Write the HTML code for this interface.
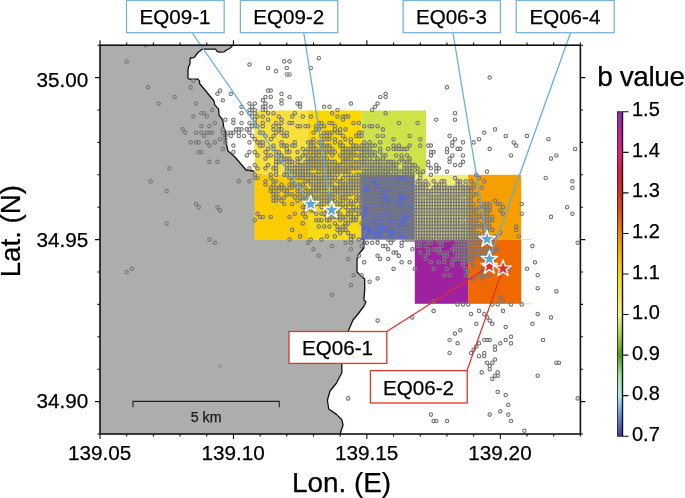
<!DOCTYPE html><html><head><meta charset="utf-8"><style>html,body{margin:0;padding:0;background:#fff;}svg{display:block;}text{font-family:"Liberation Sans",Arial,Helvetica,sans-serif;stroke:currentColor;stroke-width:0.25px;}</style></head><body>
<svg width="685" height="498" viewBox="0 0 685 498">
<rect width="685" height="498" fill="#fff"/>
<polygon points="100.0,45.2 232.7,45.2 232.2,46.0 229.6,48.5 226.6,50.0 224.1,51.8 220.1,52.2 217.1,51.5 215.6,49.2 202.0,49.2 200.0,51.0 198.0,52.5 196.0,55.0 194.0,57.6 190.5,58.0 190.0,60.0 190.0,64.0 188.5,66.6 188.0,70.0 188.0,78.1 189.0,79.1 198.0,79.1 199.6,81.1 199.5,83.5 205.0,90.0 214.0,101.0 214.6,104.6 218.6,109.1 219.0,115.1 222.1,119.1 223.1,122.1 223.6,127.1 225.1,130.0 226.0,142.0 228.0,151.0 235.0,157.0 246.0,170.0 253.0,171.0 256.0,172.0 300.0,200.0 340.0,225.0 363.9,239.7 363.9,248.0 358.0,255.0 357.0,260.0 357.0,272.0 360.0,275.0 364.7,279.0 364.7,289.0 363.9,300.0 365.9,302.0 364.0,306.0 358.0,314.0 353.0,320.0 348.3,331.0 345.0,345.0 342.0,358.0 341.8,364.8 341.8,372.7 336.5,383.0 330.0,391.0 327.4,400.0 328.7,409.0 336.5,414.4 341.8,419.7 343.0,425.0 340.5,432.7 340.3,434.0 100.0,434.0" fill="#acaeac"/>
<polyline points="232.7,45.2 232.2,46.0 229.6,48.5 226.6,50.0 224.1,51.8 220.1,52.2 217.1,51.5 215.6,49.2 202.0,49.2 200.0,51.0 198.0,52.5 196.0,55.0 194.0,57.6 190.5,58.0 190.0,60.0 190.0,64.0 188.5,66.6 188.0,70.0 188.0,78.1 189.0,79.1 198.0,79.1 199.6,81.1 199.5,83.5 205.0,90.0 214.0,101.0 214.6,104.6 218.6,109.1 219.0,115.1 222.1,119.1 223.1,122.1 223.6,127.1 225.1,130.0 226.0,142.0 228.0,151.0 235.0,157.0 246.0,170.0 253.0,171.0 256.0,172.0 300.0,200.0 340.0,225.0 363.9,239.7 363.9,248.0 358.0,255.0 357.0,260.0 357.0,272.0 360.0,275.0 364.7,279.0 364.7,289.0 363.9,300.0 365.9,302.0 364.0,306.0 358.0,314.0 353.0,320.0 348.3,331.0 345.0,345.0 342.0,358.0 341.8,364.8 341.8,372.7 336.5,383.0 330.0,391.0 327.4,400.0 328.7,409.0 336.5,414.4 341.8,419.7 343.0,425.0 340.5,432.7 340.3,434.0" fill="none" stroke="#111" stroke-width="1.3" stroke-linejoin="round"/>
<rect x="254.5" y="110.5" width="53.1" height="64.0" fill="#f7e03c"/>
<rect x="307.6" y="110.5" width="53.6" height="64.0" fill="#fad800"/>
<rect x="361.2" y="110.5" width="64.8" height="64.3" fill="#cfe24a"/>
<rect x="254.5" y="174.5" width="53.1" height="65.5" fill="#fccc00"/>
<rect x="307.6" y="174.5" width="53.6" height="65.5" fill="#f8dc12"/>
<rect x="361.2" y="174.8" width="53.6" height="64.8" fill="#5a6ac8"/>
<rect x="414.8" y="174.8" width="53.3" height="64.8" fill="#f0ec78"/>
<rect x="468.1" y="174.8" width="53.1" height="64.8" fill="#f5a000"/>
<rect x="414.8" y="239.6" width="53.3" height="64.2" fill="#9e22a0"/>
<rect x="468.1" y="239.6" width="53.1" height="64.2" fill="#f06800"/>
<line x1="521" y1="239.6" x2="532" y2="239.6" stroke="#f8c8a0" stroke-width="0.8"/>
<line x1="521" y1="303.8" x2="532" y2="303.8" stroke="#f8c8a0" stroke-width="0.8"/>
<defs><clipPath id="mc"><rect x="100" y="45.2" width="480.4" height="388.8"/></clipPath></defs><g clip-path="url(#mc)"><path d="M147.1,45.2a1.7,1.7 0 1,0 -3.4,0a1.7,1.7 0 1,0 3.4,0M320.5,58.2a1.7,1.7 0 1,0 -3.4,0a1.7,1.7 0 1,0 3.4,0M128.4,61.4a1.7,1.7 0 1,0 -3.4,0a1.7,1.7 0 1,0 3.4,0M285.9,61.4a1.7,1.7 0 1,0 -3.4,0a1.7,1.7 0 1,0 3.4,0M291.2,61.4a1.7,1.7 0 1,0 -3.4,0a1.7,1.7 0 1,0 3.4,0M251.2,64.6a1.7,1.7 0 1,0 -3.4,0a1.7,1.7 0 1,0 3.4,0M269.8,67.9a1.7,1.7 0 1,0 -3.4,0a1.7,1.7 0 1,0 3.4,0M288.5,67.9a1.7,1.7 0 1,0 -3.4,0a1.7,1.7 0 1,0 3.4,0M312.5,67.9a1.7,1.7 0 1,0 -3.4,0a1.7,1.7 0 1,0 3.4,0M277.8,71.1a1.7,1.7 0 1,0 -3.4,0a1.7,1.7 0 1,0 3.4,0M288.5,74.4a1.7,1.7 0 1,0 -3.4,0a1.7,1.7 0 1,0 3.4,0M291.2,74.4a1.7,1.7 0 1,0 -3.4,0a1.7,1.7 0 1,0 3.4,0M491.4,77.6a1.7,1.7 0 1,0 -3.4,0a1.7,1.7 0 1,0 3.4,0M195.1,80.8a1.7,1.7 0 1,0 -3.4,0a1.7,1.7 0 1,0 3.4,0M149.7,87.3a1.7,1.7 0 1,0 -3.4,0a1.7,1.7 0 1,0 3.4,0M192.4,87.3a1.7,1.7 0 1,0 -3.4,0a1.7,1.7 0 1,0 3.4,0M448.7,87.3a1.7,1.7 0 1,0 -3.4,0a1.7,1.7 0 1,0 3.4,0M221.8,90.6a1.7,1.7 0 1,0 -3.4,0a1.7,1.7 0 1,0 3.4,0M269.8,90.6a1.7,1.7 0 1,0 -3.4,0a1.7,1.7 0 1,0 3.4,0M272.5,90.6a1.7,1.7 0 1,0 -3.4,0a1.7,1.7 0 1,0 3.4,0M219.1,93.8a1.7,1.7 0 1,0 -3.4,0a1.7,1.7 0 1,0 3.4,0M232.5,93.8a1.7,1.7 0 1,0 -3.4,0a1.7,1.7 0 1,0 3.4,0M283.2,93.8a1.7,1.7 0 1,0 -3.4,0a1.7,1.7 0 1,0 3.4,0M387.3,93.8a1.7,1.7 0 1,0 -3.4,0a1.7,1.7 0 1,0 3.4,0M176.4,97.0a1.7,1.7 0 1,0 -3.4,0a1.7,1.7 0 1,0 3.4,0M267.2,97.0a1.7,1.7 0 1,0 -3.4,0a1.7,1.7 0 1,0 3.4,0M272.5,97.0a1.7,1.7 0 1,0 -3.4,0a1.7,1.7 0 1,0 3.4,0M291.2,97.0a1.7,1.7 0 1,0 -3.4,0a1.7,1.7 0 1,0 3.4,0M381.9,97.0a1.7,1.7 0 1,0 -3.4,0a1.7,1.7 0 1,0 3.4,0M387.3,97.0a1.7,1.7 0 1,0 -3.4,0a1.7,1.7 0 1,0 3.4,0M224.5,100.3a1.7,1.7 0 1,0 -3.4,0a1.7,1.7 0 1,0 3.4,0M264.5,100.3a1.7,1.7 0 1,0 -3.4,0a1.7,1.7 0 1,0 3.4,0M283.2,100.3a1.7,1.7 0 1,0 -3.4,0a1.7,1.7 0 1,0 3.4,0M160.4,103.5a1.7,1.7 0 1,0 -3.4,0a1.7,1.7 0 1,0 3.4,0M197.8,103.5a1.7,1.7 0 1,0 -3.4,0a1.7,1.7 0 1,0 3.4,0M251.2,103.5a1.7,1.7 0 1,0 -3.4,0a1.7,1.7 0 1,0 3.4,0M256.5,103.5a1.7,1.7 0 1,0 -3.4,0a1.7,1.7 0 1,0 3.4,0M267.2,103.5a1.7,1.7 0 1,0 -3.4,0a1.7,1.7 0 1,0 3.4,0M283.2,103.5a1.7,1.7 0 1,0 -3.4,0a1.7,1.7 0 1,0 3.4,0M299.2,103.5a1.7,1.7 0 1,0 -3.4,0a1.7,1.7 0 1,0 3.4,0M301.9,103.5a1.7,1.7 0 1,0 -3.4,0a1.7,1.7 0 1,0 3.4,0M352.6,103.5a1.7,1.7 0 1,0 -3.4,0a1.7,1.7 0 1,0 3.4,0M379.3,103.5a1.7,1.7 0 1,0 -3.4,0a1.7,1.7 0 1,0 3.4,0M243.2,106.8a1.7,1.7 0 1,0 -3.4,0a1.7,1.7 0 1,0 3.4,0M253.8,106.8a1.7,1.7 0 1,0 -3.4,0a1.7,1.7 0 1,0 3.4,0M264.5,106.8a1.7,1.7 0 1,0 -3.4,0a1.7,1.7 0 1,0 3.4,0M267.2,106.8a1.7,1.7 0 1,0 -3.4,0a1.7,1.7 0 1,0 3.4,0M272.5,106.8a1.7,1.7 0 1,0 -3.4,0a1.7,1.7 0 1,0 3.4,0M301.9,106.8a1.7,1.7 0 1,0 -3.4,0a1.7,1.7 0 1,0 3.4,0M325.9,106.8a1.7,1.7 0 1,0 -3.4,0a1.7,1.7 0 1,0 3.4,0M331.2,106.8a1.7,1.7 0 1,0 -3.4,0a1.7,1.7 0 1,0 3.4,0M376.6,106.8a1.7,1.7 0 1,0 -3.4,0a1.7,1.7 0 1,0 3.4,0M213.8,110.0a1.7,1.7 0 1,0 -3.4,0a1.7,1.7 0 1,0 3.4,0M251.2,110.0a1.7,1.7 0 1,0 -3.4,0a1.7,1.7 0 1,0 3.4,0M253.8,110.0a1.7,1.7 0 1,0 -3.4,0a1.7,1.7 0 1,0 3.4,0M256.5,110.0a1.7,1.7 0 1,0 -3.4,0a1.7,1.7 0 1,0 3.4,0M264.5,110.0a1.7,1.7 0 1,0 -3.4,0a1.7,1.7 0 1,0 3.4,0M267.2,110.0a1.7,1.7 0 1,0 -3.4,0a1.7,1.7 0 1,0 3.4,0M339.2,110.0a1.7,1.7 0 1,0 -3.4,0a1.7,1.7 0 1,0 3.4,0M373.9,110.0a1.7,1.7 0 1,0 -3.4,0a1.7,1.7 0 1,0 3.4,0M203.1,113.2a1.7,1.7 0 1,0 -3.4,0a1.7,1.7 0 1,0 3.4,0M205.8,113.2a1.7,1.7 0 1,0 -3.4,0a1.7,1.7 0 1,0 3.4,0M243.2,113.2a1.7,1.7 0 1,0 -3.4,0a1.7,1.7 0 1,0 3.4,0M251.2,113.2a1.7,1.7 0 1,0 -3.4,0a1.7,1.7 0 1,0 3.4,0M256.5,113.2a1.7,1.7 0 1,0 -3.4,0a1.7,1.7 0 1,0 3.4,0M269.8,113.2a1.7,1.7 0 1,0 -3.4,0a1.7,1.7 0 1,0 3.4,0M275.2,113.2a1.7,1.7 0 1,0 -3.4,0a1.7,1.7 0 1,0 3.4,0M296.5,113.2a1.7,1.7 0 1,0 -3.4,0a1.7,1.7 0 1,0 3.4,0M333.9,113.2a1.7,1.7 0 1,0 -3.4,0a1.7,1.7 0 1,0 3.4,0M387.3,113.2a1.7,1.7 0 1,0 -3.4,0a1.7,1.7 0 1,0 3.4,0M456.7,113.2a1.7,1.7 0 1,0 -3.4,0a1.7,1.7 0 1,0 3.4,0M195.1,116.5a1.7,1.7 0 1,0 -3.4,0a1.7,1.7 0 1,0 3.4,0M208.5,116.5a1.7,1.7 0 1,0 -3.4,0a1.7,1.7 0 1,0 3.4,0M253.8,116.5a1.7,1.7 0 1,0 -3.4,0a1.7,1.7 0 1,0 3.4,0M259.2,116.5a1.7,1.7 0 1,0 -3.4,0a1.7,1.7 0 1,0 3.4,0M264.5,116.5a1.7,1.7 0 1,0 -3.4,0a1.7,1.7 0 1,0 3.4,0M280.5,116.5a1.7,1.7 0 1,0 -3.4,0a1.7,1.7 0 1,0 3.4,0M293.9,116.5a1.7,1.7 0 1,0 -3.4,0a1.7,1.7 0 1,0 3.4,0M304.5,116.5a1.7,1.7 0 1,0 -3.4,0a1.7,1.7 0 1,0 3.4,0M312.5,116.5a1.7,1.7 0 1,0 -3.4,0a1.7,1.7 0 1,0 3.4,0M339.2,116.5a1.7,1.7 0 1,0 -3.4,0a1.7,1.7 0 1,0 3.4,0M344.6,116.5a1.7,1.7 0 1,0 -3.4,0a1.7,1.7 0 1,0 3.4,0M347.2,116.5a1.7,1.7 0 1,0 -3.4,0a1.7,1.7 0 1,0 3.4,0M349.9,116.5a1.7,1.7 0 1,0 -3.4,0a1.7,1.7 0 1,0 3.4,0M227.1,119.7a1.7,1.7 0 1,0 -3.4,0a1.7,1.7 0 1,0 3.4,0M235.1,119.7a1.7,1.7 0 1,0 -3.4,0a1.7,1.7 0 1,0 3.4,0M256.5,119.7a1.7,1.7 0 1,0 -3.4,0a1.7,1.7 0 1,0 3.4,0M269.8,119.7a1.7,1.7 0 1,0 -3.4,0a1.7,1.7 0 1,0 3.4,0M283.2,119.7a1.7,1.7 0 1,0 -3.4,0a1.7,1.7 0 1,0 3.4,0M344.6,119.7a1.7,1.7 0 1,0 -3.4,0a1.7,1.7 0 1,0 3.4,0M438.0,119.7a1.7,1.7 0 1,0 -3.4,0a1.7,1.7 0 1,0 3.4,0M456.7,119.7a1.7,1.7 0 1,0 -3.4,0a1.7,1.7 0 1,0 3.4,0M216.5,123.0a1.7,1.7 0 1,0 -3.4,0a1.7,1.7 0 1,0 3.4,0M235.1,123.0a1.7,1.7 0 1,0 -3.4,0a1.7,1.7 0 1,0 3.4,0M243.2,123.0a1.7,1.7 0 1,0 -3.4,0a1.7,1.7 0 1,0 3.4,0M251.2,123.0a1.7,1.7 0 1,0 -3.4,0a1.7,1.7 0 1,0 3.4,0M256.5,123.0a1.7,1.7 0 1,0 -3.4,0a1.7,1.7 0 1,0 3.4,0M264.5,123.0a1.7,1.7 0 1,0 -3.4,0a1.7,1.7 0 1,0 3.4,0M277.8,123.0a1.7,1.7 0 1,0 -3.4,0a1.7,1.7 0 1,0 3.4,0M283.2,123.0a1.7,1.7 0 1,0 -3.4,0a1.7,1.7 0 1,0 3.4,0M291.2,123.0a1.7,1.7 0 1,0 -3.4,0a1.7,1.7 0 1,0 3.4,0M293.9,123.0a1.7,1.7 0 1,0 -3.4,0a1.7,1.7 0 1,0 3.4,0M320.5,123.0a1.7,1.7 0 1,0 -3.4,0a1.7,1.7 0 1,0 3.4,0M323.2,123.0a1.7,1.7 0 1,0 -3.4,0a1.7,1.7 0 1,0 3.4,0M331.2,123.0a1.7,1.7 0 1,0 -3.4,0a1.7,1.7 0 1,0 3.4,0M333.9,123.0a1.7,1.7 0 1,0 -3.4,0a1.7,1.7 0 1,0 3.4,0M355.2,123.0a1.7,1.7 0 1,0 -3.4,0a1.7,1.7 0 1,0 3.4,0M360.6,123.0a1.7,1.7 0 1,0 -3.4,0a1.7,1.7 0 1,0 3.4,0M400.6,123.0a1.7,1.7 0 1,0 -3.4,0a1.7,1.7 0 1,0 3.4,0M419.3,123.0a1.7,1.7 0 1,0 -3.4,0a1.7,1.7 0 1,0 3.4,0M203.1,126.2a1.7,1.7 0 1,0 -3.4,0a1.7,1.7 0 1,0 3.4,0M211.1,126.2a1.7,1.7 0 1,0 -3.4,0a1.7,1.7 0 1,0 3.4,0M253.8,126.2a1.7,1.7 0 1,0 -3.4,0a1.7,1.7 0 1,0 3.4,0M256.5,126.2a1.7,1.7 0 1,0 -3.4,0a1.7,1.7 0 1,0 3.4,0M259.2,126.2a1.7,1.7 0 1,0 -3.4,0a1.7,1.7 0 1,0 3.4,0M264.5,126.2a1.7,1.7 0 1,0 -3.4,0a1.7,1.7 0 1,0 3.4,0M275.2,126.2a1.7,1.7 0 1,0 -3.4,0a1.7,1.7 0 1,0 3.4,0M280.5,126.2a1.7,1.7 0 1,0 -3.4,0a1.7,1.7 0 1,0 3.4,0M299.2,126.2a1.7,1.7 0 1,0 -3.4,0a1.7,1.7 0 1,0 3.4,0M301.9,126.2a1.7,1.7 0 1,0 -3.4,0a1.7,1.7 0 1,0 3.4,0M307.2,126.2a1.7,1.7 0 1,0 -3.4,0a1.7,1.7 0 1,0 3.4,0M309.9,126.2a1.7,1.7 0 1,0 -3.4,0a1.7,1.7 0 1,0 3.4,0M317.9,126.2a1.7,1.7 0 1,0 -3.4,0a1.7,1.7 0 1,0 3.4,0M323.2,126.2a1.7,1.7 0 1,0 -3.4,0a1.7,1.7 0 1,0 3.4,0M325.9,126.2a1.7,1.7 0 1,0 -3.4,0a1.7,1.7 0 1,0 3.4,0M336.6,126.2a1.7,1.7 0 1,0 -3.4,0a1.7,1.7 0 1,0 3.4,0M365.9,126.2a1.7,1.7 0 1,0 -3.4,0a1.7,1.7 0 1,0 3.4,0M371.3,126.2a1.7,1.7 0 1,0 -3.4,0a1.7,1.7 0 1,0 3.4,0M373.9,126.2a1.7,1.7 0 1,0 -3.4,0a1.7,1.7 0 1,0 3.4,0M379.3,126.2a1.7,1.7 0 1,0 -3.4,0a1.7,1.7 0 1,0 3.4,0M184.4,129.4a1.7,1.7 0 1,0 -3.4,0a1.7,1.7 0 1,0 3.4,0M224.5,129.4a1.7,1.7 0 1,0 -3.4,0a1.7,1.7 0 1,0 3.4,0M237.8,129.4a1.7,1.7 0 1,0 -3.4,0a1.7,1.7 0 1,0 3.4,0M240.5,129.4a1.7,1.7 0 1,0 -3.4,0a1.7,1.7 0 1,0 3.4,0M243.2,129.4a1.7,1.7 0 1,0 -3.4,0a1.7,1.7 0 1,0 3.4,0M248.5,129.4a1.7,1.7 0 1,0 -3.4,0a1.7,1.7 0 1,0 3.4,0M251.2,129.4a1.7,1.7 0 1,0 -3.4,0a1.7,1.7 0 1,0 3.4,0M275.2,129.4a1.7,1.7 0 1,0 -3.4,0a1.7,1.7 0 1,0 3.4,0M280.5,129.4a1.7,1.7 0 1,0 -3.4,0a1.7,1.7 0 1,0 3.4,0M283.2,129.4a1.7,1.7 0 1,0 -3.4,0a1.7,1.7 0 1,0 3.4,0M317.9,129.4a1.7,1.7 0 1,0 -3.4,0a1.7,1.7 0 1,0 3.4,0M320.5,129.4a1.7,1.7 0 1,0 -3.4,0a1.7,1.7 0 1,0 3.4,0M336.6,129.4a1.7,1.7 0 1,0 -3.4,0a1.7,1.7 0 1,0 3.4,0M341.9,129.4a1.7,1.7 0 1,0 -3.4,0a1.7,1.7 0 1,0 3.4,0M347.2,129.4a1.7,1.7 0 1,0 -3.4,0a1.7,1.7 0 1,0 3.4,0M384.6,129.4a1.7,1.7 0 1,0 -3.4,0a1.7,1.7 0 1,0 3.4,0M496.7,129.4a1.7,1.7 0 1,0 -3.4,0a1.7,1.7 0 1,0 3.4,0M187.1,132.7a1.7,1.7 0 1,0 -3.4,0a1.7,1.7 0 1,0 3.4,0M197.8,132.7a1.7,1.7 0 1,0 -3.4,0a1.7,1.7 0 1,0 3.4,0M203.1,132.7a1.7,1.7 0 1,0 -3.4,0a1.7,1.7 0 1,0 3.4,0M208.5,132.7a1.7,1.7 0 1,0 -3.4,0a1.7,1.7 0 1,0 3.4,0M211.1,132.7a1.7,1.7 0 1,0 -3.4,0a1.7,1.7 0 1,0 3.4,0M213.8,132.7a1.7,1.7 0 1,0 -3.4,0a1.7,1.7 0 1,0 3.4,0M224.5,132.7a1.7,1.7 0 1,0 -3.4,0a1.7,1.7 0 1,0 3.4,0M229.8,132.7a1.7,1.7 0 1,0 -3.4,0a1.7,1.7 0 1,0 3.4,0M232.5,132.7a1.7,1.7 0 1,0 -3.4,0a1.7,1.7 0 1,0 3.4,0M235.1,132.7a1.7,1.7 0 1,0 -3.4,0a1.7,1.7 0 1,0 3.4,0M240.5,132.7a1.7,1.7 0 1,0 -3.4,0a1.7,1.7 0 1,0 3.4,0M251.2,132.7a1.7,1.7 0 1,0 -3.4,0a1.7,1.7 0 1,0 3.4,0M261.8,132.7a1.7,1.7 0 1,0 -3.4,0a1.7,1.7 0 1,0 3.4,0M264.5,132.7a1.7,1.7 0 1,0 -3.4,0a1.7,1.7 0 1,0 3.4,0M277.8,132.7a1.7,1.7 0 1,0 -3.4,0a1.7,1.7 0 1,0 3.4,0M283.2,132.7a1.7,1.7 0 1,0 -3.4,0a1.7,1.7 0 1,0 3.4,0M288.5,132.7a1.7,1.7 0 1,0 -3.4,0a1.7,1.7 0 1,0 3.4,0M315.2,132.7a1.7,1.7 0 1,0 -3.4,0a1.7,1.7 0 1,0 3.4,0M325.9,132.7a1.7,1.7 0 1,0 -3.4,0a1.7,1.7 0 1,0 3.4,0M328.6,132.7a1.7,1.7 0 1,0 -3.4,0a1.7,1.7 0 1,0 3.4,0M331.2,132.7a1.7,1.7 0 1,0 -3.4,0a1.7,1.7 0 1,0 3.4,0M333.9,132.7a1.7,1.7 0 1,0 -3.4,0a1.7,1.7 0 1,0 3.4,0M339.2,132.7a1.7,1.7 0 1,0 -3.4,0a1.7,1.7 0 1,0 3.4,0M341.9,132.7a1.7,1.7 0 1,0 -3.4,0a1.7,1.7 0 1,0 3.4,0M360.6,132.7a1.7,1.7 0 1,0 -3.4,0a1.7,1.7 0 1,0 3.4,0M363.3,132.7a1.7,1.7 0 1,0 -3.4,0a1.7,1.7 0 1,0 3.4,0M486.0,132.7a1.7,1.7 0 1,0 -3.4,0a1.7,1.7 0 1,0 3.4,0M205.8,135.9a1.7,1.7 0 1,0 -3.4,0a1.7,1.7 0 1,0 3.4,0M227.1,135.9a1.7,1.7 0 1,0 -3.4,0a1.7,1.7 0 1,0 3.4,0M232.5,135.9a1.7,1.7 0 1,0 -3.4,0a1.7,1.7 0 1,0 3.4,0M240.5,135.9a1.7,1.7 0 1,0 -3.4,0a1.7,1.7 0 1,0 3.4,0M245.8,135.9a1.7,1.7 0 1,0 -3.4,0a1.7,1.7 0 1,0 3.4,0M253.8,135.9a1.7,1.7 0 1,0 -3.4,0a1.7,1.7 0 1,0 3.4,0M267.2,135.9a1.7,1.7 0 1,0 -3.4,0a1.7,1.7 0 1,0 3.4,0M275.2,135.9a1.7,1.7 0 1,0 -3.4,0a1.7,1.7 0 1,0 3.4,0M285.9,135.9a1.7,1.7 0 1,0 -3.4,0a1.7,1.7 0 1,0 3.4,0M288.5,135.9a1.7,1.7 0 1,0 -3.4,0a1.7,1.7 0 1,0 3.4,0M323.2,135.9a1.7,1.7 0 1,0 -3.4,0a1.7,1.7 0 1,0 3.4,0M328.6,135.9a1.7,1.7 0 1,0 -3.4,0a1.7,1.7 0 1,0 3.4,0M331.2,135.9a1.7,1.7 0 1,0 -3.4,0a1.7,1.7 0 1,0 3.4,0M344.6,135.9a1.7,1.7 0 1,0 -3.4,0a1.7,1.7 0 1,0 3.4,0M357.9,135.9a1.7,1.7 0 1,0 -3.4,0a1.7,1.7 0 1,0 3.4,0M360.6,135.9a1.7,1.7 0 1,0 -3.4,0a1.7,1.7 0 1,0 3.4,0M363.3,135.9a1.7,1.7 0 1,0 -3.4,0a1.7,1.7 0 1,0 3.4,0M379.3,135.9a1.7,1.7 0 1,0 -3.4,0a1.7,1.7 0 1,0 3.4,0M384.6,135.9a1.7,1.7 0 1,0 -3.4,0a1.7,1.7 0 1,0 3.4,0M411.3,135.9a1.7,1.7 0 1,0 -3.4,0a1.7,1.7 0 1,0 3.4,0M451.3,135.9a1.7,1.7 0 1,0 -3.4,0a1.7,1.7 0 1,0 3.4,0M507.4,135.9a1.7,1.7 0 1,0 -3.4,0a1.7,1.7 0 1,0 3.4,0M528.7,135.9a1.7,1.7 0 1,0 -3.4,0a1.7,1.7 0 1,0 3.4,0M221.8,139.2a1.7,1.7 0 1,0 -3.4,0a1.7,1.7 0 1,0 3.4,0M227.1,139.2a1.7,1.7 0 1,0 -3.4,0a1.7,1.7 0 1,0 3.4,0M256.5,139.2a1.7,1.7 0 1,0 -3.4,0a1.7,1.7 0 1,0 3.4,0M272.5,139.2a1.7,1.7 0 1,0 -3.4,0a1.7,1.7 0 1,0 3.4,0M315.2,139.2a1.7,1.7 0 1,0 -3.4,0a1.7,1.7 0 1,0 3.4,0M325.9,139.2a1.7,1.7 0 1,0 -3.4,0a1.7,1.7 0 1,0 3.4,0M328.6,139.2a1.7,1.7 0 1,0 -3.4,0a1.7,1.7 0 1,0 3.4,0M331.2,139.2a1.7,1.7 0 1,0 -3.4,0a1.7,1.7 0 1,0 3.4,0M336.6,139.2a1.7,1.7 0 1,0 -3.4,0a1.7,1.7 0 1,0 3.4,0M347.2,139.2a1.7,1.7 0 1,0 -3.4,0a1.7,1.7 0 1,0 3.4,0M352.6,139.2a1.7,1.7 0 1,0 -3.4,0a1.7,1.7 0 1,0 3.4,0M395.3,139.2a1.7,1.7 0 1,0 -3.4,0a1.7,1.7 0 1,0 3.4,0M422.0,139.2a1.7,1.7 0 1,0 -3.4,0a1.7,1.7 0 1,0 3.4,0M456.7,139.2a1.7,1.7 0 1,0 -3.4,0a1.7,1.7 0 1,0 3.4,0M480.7,139.2a1.7,1.7 0 1,0 -3.4,0a1.7,1.7 0 1,0 3.4,0M550.1,139.2a1.7,1.7 0 1,0 -3.4,0a1.7,1.7 0 1,0 3.4,0M192.4,142.4a1.7,1.7 0 1,0 -3.4,0a1.7,1.7 0 1,0 3.4,0M197.8,142.4a1.7,1.7 0 1,0 -3.4,0a1.7,1.7 0 1,0 3.4,0M200.4,142.4a1.7,1.7 0 1,0 -3.4,0a1.7,1.7 0 1,0 3.4,0M208.5,142.4a1.7,1.7 0 1,0 -3.4,0a1.7,1.7 0 1,0 3.4,0M216.5,142.4a1.7,1.7 0 1,0 -3.4,0a1.7,1.7 0 1,0 3.4,0M227.1,142.4a1.7,1.7 0 1,0 -3.4,0a1.7,1.7 0 1,0 3.4,0M251.2,142.4a1.7,1.7 0 1,0 -3.4,0a1.7,1.7 0 1,0 3.4,0M259.2,142.4a1.7,1.7 0 1,0 -3.4,0a1.7,1.7 0 1,0 3.4,0M261.8,142.4a1.7,1.7 0 1,0 -3.4,0a1.7,1.7 0 1,0 3.4,0M264.5,142.4a1.7,1.7 0 1,0 -3.4,0a1.7,1.7 0 1,0 3.4,0M283.2,142.4a1.7,1.7 0 1,0 -3.4,0a1.7,1.7 0 1,0 3.4,0M296.5,142.4a1.7,1.7 0 1,0 -3.4,0a1.7,1.7 0 1,0 3.4,0M309.9,142.4a1.7,1.7 0 1,0 -3.4,0a1.7,1.7 0 1,0 3.4,0M312.5,142.4a1.7,1.7 0 1,0 -3.4,0a1.7,1.7 0 1,0 3.4,0M315.2,142.4a1.7,1.7 0 1,0 -3.4,0a1.7,1.7 0 1,0 3.4,0M320.5,142.4a1.7,1.7 0 1,0 -3.4,0a1.7,1.7 0 1,0 3.4,0M323.2,142.4a1.7,1.7 0 1,0 -3.4,0a1.7,1.7 0 1,0 3.4,0M336.6,142.4a1.7,1.7 0 1,0 -3.4,0a1.7,1.7 0 1,0 3.4,0M341.9,142.4a1.7,1.7 0 1,0 -3.4,0a1.7,1.7 0 1,0 3.4,0M352.6,142.4a1.7,1.7 0 1,0 -3.4,0a1.7,1.7 0 1,0 3.4,0M365.9,142.4a1.7,1.7 0 1,0 -3.4,0a1.7,1.7 0 1,0 3.4,0M371.3,142.4a1.7,1.7 0 1,0 -3.4,0a1.7,1.7 0 1,0 3.4,0M381.9,142.4a1.7,1.7 0 1,0 -3.4,0a1.7,1.7 0 1,0 3.4,0M454.0,142.4a1.7,1.7 0 1,0 -3.4,0a1.7,1.7 0 1,0 3.4,0M464.7,142.4a1.7,1.7 0 1,0 -3.4,0a1.7,1.7 0 1,0 3.4,0M475.3,142.4a1.7,1.7 0 1,0 -3.4,0a1.7,1.7 0 1,0 3.4,0M515.4,142.4a1.7,1.7 0 1,0 -3.4,0a1.7,1.7 0 1,0 3.4,0M211.1,145.6a1.7,1.7 0 1,0 -3.4,0a1.7,1.7 0 1,0 3.4,0M235.1,145.6a1.7,1.7 0 1,0 -3.4,0a1.7,1.7 0 1,0 3.4,0M261.8,145.6a1.7,1.7 0 1,0 -3.4,0a1.7,1.7 0 1,0 3.4,0M264.5,145.6a1.7,1.7 0 1,0 -3.4,0a1.7,1.7 0 1,0 3.4,0M275.2,145.6a1.7,1.7 0 1,0 -3.4,0a1.7,1.7 0 1,0 3.4,0M283.2,145.6a1.7,1.7 0 1,0 -3.4,0a1.7,1.7 0 1,0 3.4,0M285.9,145.6a1.7,1.7 0 1,0 -3.4,0a1.7,1.7 0 1,0 3.4,0M288.5,145.6a1.7,1.7 0 1,0 -3.4,0a1.7,1.7 0 1,0 3.4,0M293.9,145.6a1.7,1.7 0 1,0 -3.4,0a1.7,1.7 0 1,0 3.4,0M296.5,145.6a1.7,1.7 0 1,0 -3.4,0a1.7,1.7 0 1,0 3.4,0M312.5,145.6a1.7,1.7 0 1,0 -3.4,0a1.7,1.7 0 1,0 3.4,0M315.2,145.6a1.7,1.7 0 1,0 -3.4,0a1.7,1.7 0 1,0 3.4,0M323.2,145.6a1.7,1.7 0 1,0 -3.4,0a1.7,1.7 0 1,0 3.4,0M325.9,145.6a1.7,1.7 0 1,0 -3.4,0a1.7,1.7 0 1,0 3.4,0M328.6,145.6a1.7,1.7 0 1,0 -3.4,0a1.7,1.7 0 1,0 3.4,0M331.2,145.6a1.7,1.7 0 1,0 -3.4,0a1.7,1.7 0 1,0 3.4,0M341.9,145.6a1.7,1.7 0 1,0 -3.4,0a1.7,1.7 0 1,0 3.4,0M344.6,145.6a1.7,1.7 0 1,0 -3.4,0a1.7,1.7 0 1,0 3.4,0M355.2,145.6a1.7,1.7 0 1,0 -3.4,0a1.7,1.7 0 1,0 3.4,0M357.9,145.6a1.7,1.7 0 1,0 -3.4,0a1.7,1.7 0 1,0 3.4,0M363.3,145.6a1.7,1.7 0 1,0 -3.4,0a1.7,1.7 0 1,0 3.4,0M365.9,145.6a1.7,1.7 0 1,0 -3.4,0a1.7,1.7 0 1,0 3.4,0M368.6,145.6a1.7,1.7 0 1,0 -3.4,0a1.7,1.7 0 1,0 3.4,0M373.9,145.6a1.7,1.7 0 1,0 -3.4,0a1.7,1.7 0 1,0 3.4,0M376.6,145.6a1.7,1.7 0 1,0 -3.4,0a1.7,1.7 0 1,0 3.4,0M395.3,145.6a1.7,1.7 0 1,0 -3.4,0a1.7,1.7 0 1,0 3.4,0M400.6,145.6a1.7,1.7 0 1,0 -3.4,0a1.7,1.7 0 1,0 3.4,0M411.3,145.6a1.7,1.7 0 1,0 -3.4,0a1.7,1.7 0 1,0 3.4,0M422.0,145.6a1.7,1.7 0 1,0 -3.4,0a1.7,1.7 0 1,0 3.4,0M430.0,145.6a1.7,1.7 0 1,0 -3.4,0a1.7,1.7 0 1,0 3.4,0M432.6,145.6a1.7,1.7 0 1,0 -3.4,0a1.7,1.7 0 1,0 3.4,0M454.0,145.6a1.7,1.7 0 1,0 -3.4,0a1.7,1.7 0 1,0 3.4,0M518.0,145.6a1.7,1.7 0 1,0 -3.4,0a1.7,1.7 0 1,0 3.4,0M224.5,148.9a1.7,1.7 0 1,0 -3.4,0a1.7,1.7 0 1,0 3.4,0M269.8,148.9a1.7,1.7 0 1,0 -3.4,0a1.7,1.7 0 1,0 3.4,0M275.2,148.9a1.7,1.7 0 1,0 -3.4,0a1.7,1.7 0 1,0 3.4,0M288.5,148.9a1.7,1.7 0 1,0 -3.4,0a1.7,1.7 0 1,0 3.4,0M304.5,148.9a1.7,1.7 0 1,0 -3.4,0a1.7,1.7 0 1,0 3.4,0M309.9,148.9a1.7,1.7 0 1,0 -3.4,0a1.7,1.7 0 1,0 3.4,0M312.5,148.9a1.7,1.7 0 1,0 -3.4,0a1.7,1.7 0 1,0 3.4,0M315.2,148.9a1.7,1.7 0 1,0 -3.4,0a1.7,1.7 0 1,0 3.4,0M317.9,148.9a1.7,1.7 0 1,0 -3.4,0a1.7,1.7 0 1,0 3.4,0M323.2,148.9a1.7,1.7 0 1,0 -3.4,0a1.7,1.7 0 1,0 3.4,0M325.9,148.9a1.7,1.7 0 1,0 -3.4,0a1.7,1.7 0 1,0 3.4,0M331.2,148.9a1.7,1.7 0 1,0 -3.4,0a1.7,1.7 0 1,0 3.4,0M333.9,148.9a1.7,1.7 0 1,0 -3.4,0a1.7,1.7 0 1,0 3.4,0M344.6,148.9a1.7,1.7 0 1,0 -3.4,0a1.7,1.7 0 1,0 3.4,0M347.2,148.9a1.7,1.7 0 1,0 -3.4,0a1.7,1.7 0 1,0 3.4,0M349.9,148.9a1.7,1.7 0 1,0 -3.4,0a1.7,1.7 0 1,0 3.4,0M352.6,148.9a1.7,1.7 0 1,0 -3.4,0a1.7,1.7 0 1,0 3.4,0M355.2,148.9a1.7,1.7 0 1,0 -3.4,0a1.7,1.7 0 1,0 3.4,0M357.9,148.9a1.7,1.7 0 1,0 -3.4,0a1.7,1.7 0 1,0 3.4,0M360.6,148.9a1.7,1.7 0 1,0 -3.4,0a1.7,1.7 0 1,0 3.4,0M363.3,148.9a1.7,1.7 0 1,0 -3.4,0a1.7,1.7 0 1,0 3.4,0M365.9,148.9a1.7,1.7 0 1,0 -3.4,0a1.7,1.7 0 1,0 3.4,0M368.6,148.9a1.7,1.7 0 1,0 -3.4,0a1.7,1.7 0 1,0 3.4,0M371.3,148.9a1.7,1.7 0 1,0 -3.4,0a1.7,1.7 0 1,0 3.4,0M381.9,148.9a1.7,1.7 0 1,0 -3.4,0a1.7,1.7 0 1,0 3.4,0M389.9,148.9a1.7,1.7 0 1,0 -3.4,0a1.7,1.7 0 1,0 3.4,0M395.3,148.9a1.7,1.7 0 1,0 -3.4,0a1.7,1.7 0 1,0 3.4,0M397.9,148.9a1.7,1.7 0 1,0 -3.4,0a1.7,1.7 0 1,0 3.4,0M400.6,148.9a1.7,1.7 0 1,0 -3.4,0a1.7,1.7 0 1,0 3.4,0M403.3,148.9a1.7,1.7 0 1,0 -3.4,0a1.7,1.7 0 1,0 3.4,0M406.0,148.9a1.7,1.7 0 1,0 -3.4,0a1.7,1.7 0 1,0 3.4,0M408.6,148.9a1.7,1.7 0 1,0 -3.4,0a1.7,1.7 0 1,0 3.4,0M448.7,148.9a1.7,1.7 0 1,0 -3.4,0a1.7,1.7 0 1,0 3.4,0M459.3,148.9a1.7,1.7 0 1,0 -3.4,0a1.7,1.7 0 1,0 3.4,0M462.0,148.9a1.7,1.7 0 1,0 -3.4,0a1.7,1.7 0 1,0 3.4,0M491.4,148.9a1.7,1.7 0 1,0 -3.4,0a1.7,1.7 0 1,0 3.4,0M576.8,148.9a1.7,1.7 0 1,0 -3.4,0a1.7,1.7 0 1,0 3.4,0M200.4,152.1a1.7,1.7 0 1,0 -3.4,0a1.7,1.7 0 1,0 3.4,0M203.1,152.1a1.7,1.7 0 1,0 -3.4,0a1.7,1.7 0 1,0 3.4,0M235.1,152.1a1.7,1.7 0 1,0 -3.4,0a1.7,1.7 0 1,0 3.4,0M251.2,152.1a1.7,1.7 0 1,0 -3.4,0a1.7,1.7 0 1,0 3.4,0M256.5,152.1a1.7,1.7 0 1,0 -3.4,0a1.7,1.7 0 1,0 3.4,0M267.2,152.1a1.7,1.7 0 1,0 -3.4,0a1.7,1.7 0 1,0 3.4,0M277.8,152.1a1.7,1.7 0 1,0 -3.4,0a1.7,1.7 0 1,0 3.4,0M280.5,152.1a1.7,1.7 0 1,0 -3.4,0a1.7,1.7 0 1,0 3.4,0M288.5,152.1a1.7,1.7 0 1,0 -3.4,0a1.7,1.7 0 1,0 3.4,0M291.2,152.1a1.7,1.7 0 1,0 -3.4,0a1.7,1.7 0 1,0 3.4,0M299.2,152.1a1.7,1.7 0 1,0 -3.4,0a1.7,1.7 0 1,0 3.4,0M307.2,152.1a1.7,1.7 0 1,0 -3.4,0a1.7,1.7 0 1,0 3.4,0M312.5,152.1a1.7,1.7 0 1,0 -3.4,0a1.7,1.7 0 1,0 3.4,0M315.2,152.1a1.7,1.7 0 1,0 -3.4,0a1.7,1.7 0 1,0 3.4,0M317.9,152.1a1.7,1.7 0 1,0 -3.4,0a1.7,1.7 0 1,0 3.4,0M320.5,152.1a1.7,1.7 0 1,0 -3.4,0a1.7,1.7 0 1,0 3.4,0M323.2,152.1a1.7,1.7 0 1,0 -3.4,0a1.7,1.7 0 1,0 3.4,0M325.9,152.1a1.7,1.7 0 1,0 -3.4,0a1.7,1.7 0 1,0 3.4,0M328.6,152.1a1.7,1.7 0 1,0 -3.4,0a1.7,1.7 0 1,0 3.4,0M331.2,152.1a1.7,1.7 0 1,0 -3.4,0a1.7,1.7 0 1,0 3.4,0M333.9,152.1a1.7,1.7 0 1,0 -3.4,0a1.7,1.7 0 1,0 3.4,0M336.6,152.1a1.7,1.7 0 1,0 -3.4,0a1.7,1.7 0 1,0 3.4,0M344.6,152.1a1.7,1.7 0 1,0 -3.4,0a1.7,1.7 0 1,0 3.4,0M347.2,152.1a1.7,1.7 0 1,0 -3.4,0a1.7,1.7 0 1,0 3.4,0M349.9,152.1a1.7,1.7 0 1,0 -3.4,0a1.7,1.7 0 1,0 3.4,0M352.6,152.1a1.7,1.7 0 1,0 -3.4,0a1.7,1.7 0 1,0 3.4,0M355.2,152.1a1.7,1.7 0 1,0 -3.4,0a1.7,1.7 0 1,0 3.4,0M363.3,152.1a1.7,1.7 0 1,0 -3.4,0a1.7,1.7 0 1,0 3.4,0M365.9,152.1a1.7,1.7 0 1,0 -3.4,0a1.7,1.7 0 1,0 3.4,0M368.6,152.1a1.7,1.7 0 1,0 -3.4,0a1.7,1.7 0 1,0 3.4,0M371.3,152.1a1.7,1.7 0 1,0 -3.4,0a1.7,1.7 0 1,0 3.4,0M373.9,152.1a1.7,1.7 0 1,0 -3.4,0a1.7,1.7 0 1,0 3.4,0M376.6,152.1a1.7,1.7 0 1,0 -3.4,0a1.7,1.7 0 1,0 3.4,0M381.9,152.1a1.7,1.7 0 1,0 -3.4,0a1.7,1.7 0 1,0 3.4,0M432.6,152.1a1.7,1.7 0 1,0 -3.4,0a1.7,1.7 0 1,0 3.4,0M435.3,152.1a1.7,1.7 0 1,0 -3.4,0a1.7,1.7 0 1,0 3.4,0M448.7,152.1a1.7,1.7 0 1,0 -3.4,0a1.7,1.7 0 1,0 3.4,0M248.5,155.4a1.7,1.7 0 1,0 -3.4,0a1.7,1.7 0 1,0 3.4,0M259.2,155.4a1.7,1.7 0 1,0 -3.4,0a1.7,1.7 0 1,0 3.4,0M269.8,155.4a1.7,1.7 0 1,0 -3.4,0a1.7,1.7 0 1,0 3.4,0M272.5,155.4a1.7,1.7 0 1,0 -3.4,0a1.7,1.7 0 1,0 3.4,0M277.8,155.4a1.7,1.7 0 1,0 -3.4,0a1.7,1.7 0 1,0 3.4,0M280.5,155.4a1.7,1.7 0 1,0 -3.4,0a1.7,1.7 0 1,0 3.4,0M283.2,155.4a1.7,1.7 0 1,0 -3.4,0a1.7,1.7 0 1,0 3.4,0M304.5,155.4a1.7,1.7 0 1,0 -3.4,0a1.7,1.7 0 1,0 3.4,0M307.2,155.4a1.7,1.7 0 1,0 -3.4,0a1.7,1.7 0 1,0 3.4,0M309.9,155.4a1.7,1.7 0 1,0 -3.4,0a1.7,1.7 0 1,0 3.4,0M315.2,155.4a1.7,1.7 0 1,0 -3.4,0a1.7,1.7 0 1,0 3.4,0M317.9,155.4a1.7,1.7 0 1,0 -3.4,0a1.7,1.7 0 1,0 3.4,0M320.5,155.4a1.7,1.7 0 1,0 -3.4,0a1.7,1.7 0 1,0 3.4,0M325.9,155.4a1.7,1.7 0 1,0 -3.4,0a1.7,1.7 0 1,0 3.4,0M333.9,155.4a1.7,1.7 0 1,0 -3.4,0a1.7,1.7 0 1,0 3.4,0M341.9,155.4a1.7,1.7 0 1,0 -3.4,0a1.7,1.7 0 1,0 3.4,0M344.6,155.4a1.7,1.7 0 1,0 -3.4,0a1.7,1.7 0 1,0 3.4,0M347.2,155.4a1.7,1.7 0 1,0 -3.4,0a1.7,1.7 0 1,0 3.4,0M349.9,155.4a1.7,1.7 0 1,0 -3.4,0a1.7,1.7 0 1,0 3.4,0M352.6,155.4a1.7,1.7 0 1,0 -3.4,0a1.7,1.7 0 1,0 3.4,0M355.2,155.4a1.7,1.7 0 1,0 -3.4,0a1.7,1.7 0 1,0 3.4,0M357.9,155.4a1.7,1.7 0 1,0 -3.4,0a1.7,1.7 0 1,0 3.4,0M360.6,155.4a1.7,1.7 0 1,0 -3.4,0a1.7,1.7 0 1,0 3.4,0M363.3,155.4a1.7,1.7 0 1,0 -3.4,0a1.7,1.7 0 1,0 3.4,0M365.9,155.4a1.7,1.7 0 1,0 -3.4,0a1.7,1.7 0 1,0 3.4,0M368.6,155.4a1.7,1.7 0 1,0 -3.4,0a1.7,1.7 0 1,0 3.4,0M373.9,155.4a1.7,1.7 0 1,0 -3.4,0a1.7,1.7 0 1,0 3.4,0M376.6,155.4a1.7,1.7 0 1,0 -3.4,0a1.7,1.7 0 1,0 3.4,0M384.6,155.4a1.7,1.7 0 1,0 -3.4,0a1.7,1.7 0 1,0 3.4,0M387.3,155.4a1.7,1.7 0 1,0 -3.4,0a1.7,1.7 0 1,0 3.4,0M397.9,155.4a1.7,1.7 0 1,0 -3.4,0a1.7,1.7 0 1,0 3.4,0M403.3,155.4a1.7,1.7 0 1,0 -3.4,0a1.7,1.7 0 1,0 3.4,0M408.6,155.4a1.7,1.7 0 1,0 -3.4,0a1.7,1.7 0 1,0 3.4,0M432.6,155.4a1.7,1.7 0 1,0 -3.4,0a1.7,1.7 0 1,0 3.4,0M454.0,155.4a1.7,1.7 0 1,0 -3.4,0a1.7,1.7 0 1,0 3.4,0M464.7,155.4a1.7,1.7 0 1,0 -3.4,0a1.7,1.7 0 1,0 3.4,0M512.7,155.4a1.7,1.7 0 1,0 -3.4,0a1.7,1.7 0 1,0 3.4,0M558.1,155.4a1.7,1.7 0 1,0 -3.4,0a1.7,1.7 0 1,0 3.4,0M267.2,158.6a1.7,1.7 0 1,0 -3.4,0a1.7,1.7 0 1,0 3.4,0M277.8,158.6a1.7,1.7 0 1,0 -3.4,0a1.7,1.7 0 1,0 3.4,0M283.2,158.6a1.7,1.7 0 1,0 -3.4,0a1.7,1.7 0 1,0 3.4,0M285.9,158.6a1.7,1.7 0 1,0 -3.4,0a1.7,1.7 0 1,0 3.4,0M288.5,158.6a1.7,1.7 0 1,0 -3.4,0a1.7,1.7 0 1,0 3.4,0M291.2,158.6a1.7,1.7 0 1,0 -3.4,0a1.7,1.7 0 1,0 3.4,0M299.2,158.6a1.7,1.7 0 1,0 -3.4,0a1.7,1.7 0 1,0 3.4,0M301.9,158.6a1.7,1.7 0 1,0 -3.4,0a1.7,1.7 0 1,0 3.4,0M309.9,158.6a1.7,1.7 0 1,0 -3.4,0a1.7,1.7 0 1,0 3.4,0M312.5,158.6a1.7,1.7 0 1,0 -3.4,0a1.7,1.7 0 1,0 3.4,0M315.2,158.6a1.7,1.7 0 1,0 -3.4,0a1.7,1.7 0 1,0 3.4,0M317.9,158.6a1.7,1.7 0 1,0 -3.4,0a1.7,1.7 0 1,0 3.4,0M323.2,158.6a1.7,1.7 0 1,0 -3.4,0a1.7,1.7 0 1,0 3.4,0M325.9,158.6a1.7,1.7 0 1,0 -3.4,0a1.7,1.7 0 1,0 3.4,0M328.6,158.6a1.7,1.7 0 1,0 -3.4,0a1.7,1.7 0 1,0 3.4,0M344.6,158.6a1.7,1.7 0 1,0 -3.4,0a1.7,1.7 0 1,0 3.4,0M347.2,158.6a1.7,1.7 0 1,0 -3.4,0a1.7,1.7 0 1,0 3.4,0M349.9,158.6a1.7,1.7 0 1,0 -3.4,0a1.7,1.7 0 1,0 3.4,0M352.6,158.6a1.7,1.7 0 1,0 -3.4,0a1.7,1.7 0 1,0 3.4,0M363.3,158.6a1.7,1.7 0 1,0 -3.4,0a1.7,1.7 0 1,0 3.4,0M365.9,158.6a1.7,1.7 0 1,0 -3.4,0a1.7,1.7 0 1,0 3.4,0M371.3,158.6a1.7,1.7 0 1,0 -3.4,0a1.7,1.7 0 1,0 3.4,0M379.3,158.6a1.7,1.7 0 1,0 -3.4,0a1.7,1.7 0 1,0 3.4,0M384.6,158.6a1.7,1.7 0 1,0 -3.4,0a1.7,1.7 0 1,0 3.4,0M403.3,158.6a1.7,1.7 0 1,0 -3.4,0a1.7,1.7 0 1,0 3.4,0M411.3,158.6a1.7,1.7 0 1,0 -3.4,0a1.7,1.7 0 1,0 3.4,0M451.3,158.6a1.7,1.7 0 1,0 -3.4,0a1.7,1.7 0 1,0 3.4,0M552.7,158.6a1.7,1.7 0 1,0 -3.4,0a1.7,1.7 0 1,0 3.4,0M211.1,161.8a1.7,1.7 0 1,0 -3.4,0a1.7,1.7 0 1,0 3.4,0M219.1,161.8a1.7,1.7 0 1,0 -3.4,0a1.7,1.7 0 1,0 3.4,0M277.8,161.8a1.7,1.7 0 1,0 -3.4,0a1.7,1.7 0 1,0 3.4,0M280.5,161.8a1.7,1.7 0 1,0 -3.4,0a1.7,1.7 0 1,0 3.4,0M283.2,161.8a1.7,1.7 0 1,0 -3.4,0a1.7,1.7 0 1,0 3.4,0M288.5,161.8a1.7,1.7 0 1,0 -3.4,0a1.7,1.7 0 1,0 3.4,0M291.2,161.8a1.7,1.7 0 1,0 -3.4,0a1.7,1.7 0 1,0 3.4,0M293.9,161.8a1.7,1.7 0 1,0 -3.4,0a1.7,1.7 0 1,0 3.4,0M299.2,161.8a1.7,1.7 0 1,0 -3.4,0a1.7,1.7 0 1,0 3.4,0M307.2,161.8a1.7,1.7 0 1,0 -3.4,0a1.7,1.7 0 1,0 3.4,0M309.9,161.8a1.7,1.7 0 1,0 -3.4,0a1.7,1.7 0 1,0 3.4,0M312.5,161.8a1.7,1.7 0 1,0 -3.4,0a1.7,1.7 0 1,0 3.4,0M315.2,161.8a1.7,1.7 0 1,0 -3.4,0a1.7,1.7 0 1,0 3.4,0M317.9,161.8a1.7,1.7 0 1,0 -3.4,0a1.7,1.7 0 1,0 3.4,0M320.5,161.8a1.7,1.7 0 1,0 -3.4,0a1.7,1.7 0 1,0 3.4,0M323.2,161.8a1.7,1.7 0 1,0 -3.4,0a1.7,1.7 0 1,0 3.4,0M325.9,161.8a1.7,1.7 0 1,0 -3.4,0a1.7,1.7 0 1,0 3.4,0M331.2,161.8a1.7,1.7 0 1,0 -3.4,0a1.7,1.7 0 1,0 3.4,0M333.9,161.8a1.7,1.7 0 1,0 -3.4,0a1.7,1.7 0 1,0 3.4,0M336.6,161.8a1.7,1.7 0 1,0 -3.4,0a1.7,1.7 0 1,0 3.4,0M344.6,161.8a1.7,1.7 0 1,0 -3.4,0a1.7,1.7 0 1,0 3.4,0M347.2,161.8a1.7,1.7 0 1,0 -3.4,0a1.7,1.7 0 1,0 3.4,0M349.9,161.8a1.7,1.7 0 1,0 -3.4,0a1.7,1.7 0 1,0 3.4,0M355.2,161.8a1.7,1.7 0 1,0 -3.4,0a1.7,1.7 0 1,0 3.4,0M357.9,161.8a1.7,1.7 0 1,0 -3.4,0a1.7,1.7 0 1,0 3.4,0M360.6,161.8a1.7,1.7 0 1,0 -3.4,0a1.7,1.7 0 1,0 3.4,0M363.3,161.8a1.7,1.7 0 1,0 -3.4,0a1.7,1.7 0 1,0 3.4,0M365.9,161.8a1.7,1.7 0 1,0 -3.4,0a1.7,1.7 0 1,0 3.4,0M368.6,161.8a1.7,1.7 0 1,0 -3.4,0a1.7,1.7 0 1,0 3.4,0M373.9,161.8a1.7,1.7 0 1,0 -3.4,0a1.7,1.7 0 1,0 3.4,0M376.6,161.8a1.7,1.7 0 1,0 -3.4,0a1.7,1.7 0 1,0 3.4,0M379.3,161.8a1.7,1.7 0 1,0 -3.4,0a1.7,1.7 0 1,0 3.4,0M381.9,161.8a1.7,1.7 0 1,0 -3.4,0a1.7,1.7 0 1,0 3.4,0M387.3,161.8a1.7,1.7 0 1,0 -3.4,0a1.7,1.7 0 1,0 3.4,0M389.9,161.8a1.7,1.7 0 1,0 -3.4,0a1.7,1.7 0 1,0 3.4,0M392.6,161.8a1.7,1.7 0 1,0 -3.4,0a1.7,1.7 0 1,0 3.4,0M395.3,161.8a1.7,1.7 0 1,0 -3.4,0a1.7,1.7 0 1,0 3.4,0M400.6,161.8a1.7,1.7 0 1,0 -3.4,0a1.7,1.7 0 1,0 3.4,0M406.0,161.8a1.7,1.7 0 1,0 -3.4,0a1.7,1.7 0 1,0 3.4,0M408.6,161.8a1.7,1.7 0 1,0 -3.4,0a1.7,1.7 0 1,0 3.4,0M411.3,161.8a1.7,1.7 0 1,0 -3.4,0a1.7,1.7 0 1,0 3.4,0M430.0,161.8a1.7,1.7 0 1,0 -3.4,0a1.7,1.7 0 1,0 3.4,0M451.3,161.8a1.7,1.7 0 1,0 -3.4,0a1.7,1.7 0 1,0 3.4,0M464.7,161.8a1.7,1.7 0 1,0 -3.4,0a1.7,1.7 0 1,0 3.4,0M256.5,165.1a1.7,1.7 0 1,0 -3.4,0a1.7,1.7 0 1,0 3.4,0M269.8,165.1a1.7,1.7 0 1,0 -3.4,0a1.7,1.7 0 1,0 3.4,0M277.8,165.1a1.7,1.7 0 1,0 -3.4,0a1.7,1.7 0 1,0 3.4,0M288.5,165.1a1.7,1.7 0 1,0 -3.4,0a1.7,1.7 0 1,0 3.4,0M293.9,165.1a1.7,1.7 0 1,0 -3.4,0a1.7,1.7 0 1,0 3.4,0M299.2,165.1a1.7,1.7 0 1,0 -3.4,0a1.7,1.7 0 1,0 3.4,0M301.9,165.1a1.7,1.7 0 1,0 -3.4,0a1.7,1.7 0 1,0 3.4,0M304.5,165.1a1.7,1.7 0 1,0 -3.4,0a1.7,1.7 0 1,0 3.4,0M307.2,165.1a1.7,1.7 0 1,0 -3.4,0a1.7,1.7 0 1,0 3.4,0M309.9,165.1a1.7,1.7 0 1,0 -3.4,0a1.7,1.7 0 1,0 3.4,0M312.5,165.1a1.7,1.7 0 1,0 -3.4,0a1.7,1.7 0 1,0 3.4,0M315.2,165.1a1.7,1.7 0 1,0 -3.4,0a1.7,1.7 0 1,0 3.4,0M317.9,165.1a1.7,1.7 0 1,0 -3.4,0a1.7,1.7 0 1,0 3.4,0M320.5,165.1a1.7,1.7 0 1,0 -3.4,0a1.7,1.7 0 1,0 3.4,0M323.2,165.1a1.7,1.7 0 1,0 -3.4,0a1.7,1.7 0 1,0 3.4,0M325.9,165.1a1.7,1.7 0 1,0 -3.4,0a1.7,1.7 0 1,0 3.4,0M328.6,165.1a1.7,1.7 0 1,0 -3.4,0a1.7,1.7 0 1,0 3.4,0M331.2,165.1a1.7,1.7 0 1,0 -3.4,0a1.7,1.7 0 1,0 3.4,0M336.6,165.1a1.7,1.7 0 1,0 -3.4,0a1.7,1.7 0 1,0 3.4,0M339.2,165.1a1.7,1.7 0 1,0 -3.4,0a1.7,1.7 0 1,0 3.4,0M341.9,165.1a1.7,1.7 0 1,0 -3.4,0a1.7,1.7 0 1,0 3.4,0M344.6,165.1a1.7,1.7 0 1,0 -3.4,0a1.7,1.7 0 1,0 3.4,0M349.9,165.1a1.7,1.7 0 1,0 -3.4,0a1.7,1.7 0 1,0 3.4,0M352.6,165.1a1.7,1.7 0 1,0 -3.4,0a1.7,1.7 0 1,0 3.4,0M355.2,165.1a1.7,1.7 0 1,0 -3.4,0a1.7,1.7 0 1,0 3.4,0M360.6,165.1a1.7,1.7 0 1,0 -3.4,0a1.7,1.7 0 1,0 3.4,0M363.3,165.1a1.7,1.7 0 1,0 -3.4,0a1.7,1.7 0 1,0 3.4,0M365.9,165.1a1.7,1.7 0 1,0 -3.4,0a1.7,1.7 0 1,0 3.4,0M368.6,165.1a1.7,1.7 0 1,0 -3.4,0a1.7,1.7 0 1,0 3.4,0M371.3,165.1a1.7,1.7 0 1,0 -3.4,0a1.7,1.7 0 1,0 3.4,0M373.9,165.1a1.7,1.7 0 1,0 -3.4,0a1.7,1.7 0 1,0 3.4,0M376.6,165.1a1.7,1.7 0 1,0 -3.4,0a1.7,1.7 0 1,0 3.4,0M379.3,165.1a1.7,1.7 0 1,0 -3.4,0a1.7,1.7 0 1,0 3.4,0M381.9,165.1a1.7,1.7 0 1,0 -3.4,0a1.7,1.7 0 1,0 3.4,0M384.6,165.1a1.7,1.7 0 1,0 -3.4,0a1.7,1.7 0 1,0 3.4,0M389.9,165.1a1.7,1.7 0 1,0 -3.4,0a1.7,1.7 0 1,0 3.4,0M392.6,165.1a1.7,1.7 0 1,0 -3.4,0a1.7,1.7 0 1,0 3.4,0M395.3,165.1a1.7,1.7 0 1,0 -3.4,0a1.7,1.7 0 1,0 3.4,0M397.9,165.1a1.7,1.7 0 1,0 -3.4,0a1.7,1.7 0 1,0 3.4,0M406.0,165.1a1.7,1.7 0 1,0 -3.4,0a1.7,1.7 0 1,0 3.4,0M411.3,165.1a1.7,1.7 0 1,0 -3.4,0a1.7,1.7 0 1,0 3.4,0M414.0,165.1a1.7,1.7 0 1,0 -3.4,0a1.7,1.7 0 1,0 3.4,0M416.6,165.1a1.7,1.7 0 1,0 -3.4,0a1.7,1.7 0 1,0 3.4,0M430.0,165.1a1.7,1.7 0 1,0 -3.4,0a1.7,1.7 0 1,0 3.4,0M438.0,165.1a1.7,1.7 0 1,0 -3.4,0a1.7,1.7 0 1,0 3.4,0M456.7,165.1a1.7,1.7 0 1,0 -3.4,0a1.7,1.7 0 1,0 3.4,0M462.0,165.1a1.7,1.7 0 1,0 -3.4,0a1.7,1.7 0 1,0 3.4,0M171.1,168.3a1.7,1.7 0 1,0 -3.4,0a1.7,1.7 0 1,0 3.4,0M251.2,168.3a1.7,1.7 0 1,0 -3.4,0a1.7,1.7 0 1,0 3.4,0M259.2,168.3a1.7,1.7 0 1,0 -3.4,0a1.7,1.7 0 1,0 3.4,0M267.2,168.3a1.7,1.7 0 1,0 -3.4,0a1.7,1.7 0 1,0 3.4,0M275.2,168.3a1.7,1.7 0 1,0 -3.4,0a1.7,1.7 0 1,0 3.4,0M277.8,168.3a1.7,1.7 0 1,0 -3.4,0a1.7,1.7 0 1,0 3.4,0M288.5,168.3a1.7,1.7 0 1,0 -3.4,0a1.7,1.7 0 1,0 3.4,0M291.2,168.3a1.7,1.7 0 1,0 -3.4,0a1.7,1.7 0 1,0 3.4,0M296.5,168.3a1.7,1.7 0 1,0 -3.4,0a1.7,1.7 0 1,0 3.4,0M299.2,168.3a1.7,1.7 0 1,0 -3.4,0a1.7,1.7 0 1,0 3.4,0M301.9,168.3a1.7,1.7 0 1,0 -3.4,0a1.7,1.7 0 1,0 3.4,0M304.5,168.3a1.7,1.7 0 1,0 -3.4,0a1.7,1.7 0 1,0 3.4,0M307.2,168.3a1.7,1.7 0 1,0 -3.4,0a1.7,1.7 0 1,0 3.4,0M309.9,168.3a1.7,1.7 0 1,0 -3.4,0a1.7,1.7 0 1,0 3.4,0M312.5,168.3a1.7,1.7 0 1,0 -3.4,0a1.7,1.7 0 1,0 3.4,0M315.2,168.3a1.7,1.7 0 1,0 -3.4,0a1.7,1.7 0 1,0 3.4,0M317.9,168.3a1.7,1.7 0 1,0 -3.4,0a1.7,1.7 0 1,0 3.4,0M320.5,168.3a1.7,1.7 0 1,0 -3.4,0a1.7,1.7 0 1,0 3.4,0M323.2,168.3a1.7,1.7 0 1,0 -3.4,0a1.7,1.7 0 1,0 3.4,0M325.9,168.3a1.7,1.7 0 1,0 -3.4,0a1.7,1.7 0 1,0 3.4,0M328.6,168.3a1.7,1.7 0 1,0 -3.4,0a1.7,1.7 0 1,0 3.4,0M331.2,168.3a1.7,1.7 0 1,0 -3.4,0a1.7,1.7 0 1,0 3.4,0M333.9,168.3a1.7,1.7 0 1,0 -3.4,0a1.7,1.7 0 1,0 3.4,0M336.6,168.3a1.7,1.7 0 1,0 -3.4,0a1.7,1.7 0 1,0 3.4,0M339.2,168.3a1.7,1.7 0 1,0 -3.4,0a1.7,1.7 0 1,0 3.4,0M341.9,168.3a1.7,1.7 0 1,0 -3.4,0a1.7,1.7 0 1,0 3.4,0M344.6,168.3a1.7,1.7 0 1,0 -3.4,0a1.7,1.7 0 1,0 3.4,0M347.2,168.3a1.7,1.7 0 1,0 -3.4,0a1.7,1.7 0 1,0 3.4,0M349.9,168.3a1.7,1.7 0 1,0 -3.4,0a1.7,1.7 0 1,0 3.4,0M352.6,168.3a1.7,1.7 0 1,0 -3.4,0a1.7,1.7 0 1,0 3.4,0M355.2,168.3a1.7,1.7 0 1,0 -3.4,0a1.7,1.7 0 1,0 3.4,0M357.9,168.3a1.7,1.7 0 1,0 -3.4,0a1.7,1.7 0 1,0 3.4,0M360.6,168.3a1.7,1.7 0 1,0 -3.4,0a1.7,1.7 0 1,0 3.4,0M363.3,168.3a1.7,1.7 0 1,0 -3.4,0a1.7,1.7 0 1,0 3.4,0M368.6,168.3a1.7,1.7 0 1,0 -3.4,0a1.7,1.7 0 1,0 3.4,0M371.3,168.3a1.7,1.7 0 1,0 -3.4,0a1.7,1.7 0 1,0 3.4,0M373.9,168.3a1.7,1.7 0 1,0 -3.4,0a1.7,1.7 0 1,0 3.4,0M376.6,168.3a1.7,1.7 0 1,0 -3.4,0a1.7,1.7 0 1,0 3.4,0M379.3,168.3a1.7,1.7 0 1,0 -3.4,0a1.7,1.7 0 1,0 3.4,0M381.9,168.3a1.7,1.7 0 1,0 -3.4,0a1.7,1.7 0 1,0 3.4,0M384.6,168.3a1.7,1.7 0 1,0 -3.4,0a1.7,1.7 0 1,0 3.4,0M387.3,168.3a1.7,1.7 0 1,0 -3.4,0a1.7,1.7 0 1,0 3.4,0M389.9,168.3a1.7,1.7 0 1,0 -3.4,0a1.7,1.7 0 1,0 3.4,0M392.6,168.3a1.7,1.7 0 1,0 -3.4,0a1.7,1.7 0 1,0 3.4,0M395.3,168.3a1.7,1.7 0 1,0 -3.4,0a1.7,1.7 0 1,0 3.4,0M397.9,168.3a1.7,1.7 0 1,0 -3.4,0a1.7,1.7 0 1,0 3.4,0M406.0,168.3a1.7,1.7 0 1,0 -3.4,0a1.7,1.7 0 1,0 3.4,0M408.6,168.3a1.7,1.7 0 1,0 -3.4,0a1.7,1.7 0 1,0 3.4,0M411.3,168.3a1.7,1.7 0 1,0 -3.4,0a1.7,1.7 0 1,0 3.4,0M414.0,168.3a1.7,1.7 0 1,0 -3.4,0a1.7,1.7 0 1,0 3.4,0M419.3,168.3a1.7,1.7 0 1,0 -3.4,0a1.7,1.7 0 1,0 3.4,0M432.6,168.3a1.7,1.7 0 1,0 -3.4,0a1.7,1.7 0 1,0 3.4,0M438.0,168.3a1.7,1.7 0 1,0 -3.4,0a1.7,1.7 0 1,0 3.4,0M440.6,168.3a1.7,1.7 0 1,0 -3.4,0a1.7,1.7 0 1,0 3.4,0M277.8,171.6a1.7,1.7 0 1,0 -3.4,0a1.7,1.7 0 1,0 3.4,0M288.5,171.6a1.7,1.7 0 1,0 -3.4,0a1.7,1.7 0 1,0 3.4,0M291.2,171.6a1.7,1.7 0 1,0 -3.4,0a1.7,1.7 0 1,0 3.4,0M293.9,171.6a1.7,1.7 0 1,0 -3.4,0a1.7,1.7 0 1,0 3.4,0M296.5,171.6a1.7,1.7 0 1,0 -3.4,0a1.7,1.7 0 1,0 3.4,0M299.2,171.6a1.7,1.7 0 1,0 -3.4,0a1.7,1.7 0 1,0 3.4,0M301.9,171.6a1.7,1.7 0 1,0 -3.4,0a1.7,1.7 0 1,0 3.4,0M304.5,171.6a1.7,1.7 0 1,0 -3.4,0a1.7,1.7 0 1,0 3.4,0M307.2,171.6a1.7,1.7 0 1,0 -3.4,0a1.7,1.7 0 1,0 3.4,0M309.9,171.6a1.7,1.7 0 1,0 -3.4,0a1.7,1.7 0 1,0 3.4,0M320.5,171.6a1.7,1.7 0 1,0 -3.4,0a1.7,1.7 0 1,0 3.4,0M325.9,171.6a1.7,1.7 0 1,0 -3.4,0a1.7,1.7 0 1,0 3.4,0M328.6,171.6a1.7,1.7 0 1,0 -3.4,0a1.7,1.7 0 1,0 3.4,0M331.2,171.6a1.7,1.7 0 1,0 -3.4,0a1.7,1.7 0 1,0 3.4,0M333.9,171.6a1.7,1.7 0 1,0 -3.4,0a1.7,1.7 0 1,0 3.4,0M336.6,171.6a1.7,1.7 0 1,0 -3.4,0a1.7,1.7 0 1,0 3.4,0M339.2,171.6a1.7,1.7 0 1,0 -3.4,0a1.7,1.7 0 1,0 3.4,0M341.9,171.6a1.7,1.7 0 1,0 -3.4,0a1.7,1.7 0 1,0 3.4,0M344.6,171.6a1.7,1.7 0 1,0 -3.4,0a1.7,1.7 0 1,0 3.4,0M347.2,171.6a1.7,1.7 0 1,0 -3.4,0a1.7,1.7 0 1,0 3.4,0M349.9,171.6a1.7,1.7 0 1,0 -3.4,0a1.7,1.7 0 1,0 3.4,0M365.9,171.6a1.7,1.7 0 1,0 -3.4,0a1.7,1.7 0 1,0 3.4,0M368.6,171.6a1.7,1.7 0 1,0 -3.4,0a1.7,1.7 0 1,0 3.4,0M371.3,171.6a1.7,1.7 0 1,0 -3.4,0a1.7,1.7 0 1,0 3.4,0M373.9,171.6a1.7,1.7 0 1,0 -3.4,0a1.7,1.7 0 1,0 3.4,0M376.6,171.6a1.7,1.7 0 1,0 -3.4,0a1.7,1.7 0 1,0 3.4,0M379.3,171.6a1.7,1.7 0 1,0 -3.4,0a1.7,1.7 0 1,0 3.4,0M381.9,171.6a1.7,1.7 0 1,0 -3.4,0a1.7,1.7 0 1,0 3.4,0M384.6,171.6a1.7,1.7 0 1,0 -3.4,0a1.7,1.7 0 1,0 3.4,0M387.3,171.6a1.7,1.7 0 1,0 -3.4,0a1.7,1.7 0 1,0 3.4,0M389.9,171.6a1.7,1.7 0 1,0 -3.4,0a1.7,1.7 0 1,0 3.4,0M392.6,171.6a1.7,1.7 0 1,0 -3.4,0a1.7,1.7 0 1,0 3.4,0M397.9,171.6a1.7,1.7 0 1,0 -3.4,0a1.7,1.7 0 1,0 3.4,0M400.6,171.6a1.7,1.7 0 1,0 -3.4,0a1.7,1.7 0 1,0 3.4,0M403.3,171.6a1.7,1.7 0 1,0 -3.4,0a1.7,1.7 0 1,0 3.4,0M406.0,171.6a1.7,1.7 0 1,0 -3.4,0a1.7,1.7 0 1,0 3.4,0M408.6,171.6a1.7,1.7 0 1,0 -3.4,0a1.7,1.7 0 1,0 3.4,0M411.3,171.6a1.7,1.7 0 1,0 -3.4,0a1.7,1.7 0 1,0 3.4,0M414.0,171.6a1.7,1.7 0 1,0 -3.4,0a1.7,1.7 0 1,0 3.4,0M419.3,171.6a1.7,1.7 0 1,0 -3.4,0a1.7,1.7 0 1,0 3.4,0M424.6,171.6a1.7,1.7 0 1,0 -3.4,0a1.7,1.7 0 1,0 3.4,0M438.0,171.6a1.7,1.7 0 1,0 -3.4,0a1.7,1.7 0 1,0 3.4,0M448.7,171.6a1.7,1.7 0 1,0 -3.4,0a1.7,1.7 0 1,0 3.4,0M488.7,171.6a1.7,1.7 0 1,0 -3.4,0a1.7,1.7 0 1,0 3.4,0M256.5,174.8a1.7,1.7 0 1,0 -3.4,0a1.7,1.7 0 1,0 3.4,0M272.5,174.8a1.7,1.7 0 1,0 -3.4,0a1.7,1.7 0 1,0 3.4,0M277.8,174.8a1.7,1.7 0 1,0 -3.4,0a1.7,1.7 0 1,0 3.4,0M285.9,174.8a1.7,1.7 0 1,0 -3.4,0a1.7,1.7 0 1,0 3.4,0M288.5,174.8a1.7,1.7 0 1,0 -3.4,0a1.7,1.7 0 1,0 3.4,0M296.5,174.8a1.7,1.7 0 1,0 -3.4,0a1.7,1.7 0 1,0 3.4,0M299.2,174.8a1.7,1.7 0 1,0 -3.4,0a1.7,1.7 0 1,0 3.4,0M301.9,174.8a1.7,1.7 0 1,0 -3.4,0a1.7,1.7 0 1,0 3.4,0M304.5,174.8a1.7,1.7 0 1,0 -3.4,0a1.7,1.7 0 1,0 3.4,0M307.2,174.8a1.7,1.7 0 1,0 -3.4,0a1.7,1.7 0 1,0 3.4,0M309.9,174.8a1.7,1.7 0 1,0 -3.4,0a1.7,1.7 0 1,0 3.4,0M312.5,174.8a1.7,1.7 0 1,0 -3.4,0a1.7,1.7 0 1,0 3.4,0M315.2,174.8a1.7,1.7 0 1,0 -3.4,0a1.7,1.7 0 1,0 3.4,0M317.9,174.8a1.7,1.7 0 1,0 -3.4,0a1.7,1.7 0 1,0 3.4,0M323.2,174.8a1.7,1.7 0 1,0 -3.4,0a1.7,1.7 0 1,0 3.4,0M325.9,174.8a1.7,1.7 0 1,0 -3.4,0a1.7,1.7 0 1,0 3.4,0M328.6,174.8a1.7,1.7 0 1,0 -3.4,0a1.7,1.7 0 1,0 3.4,0M331.2,174.8a1.7,1.7 0 1,0 -3.4,0a1.7,1.7 0 1,0 3.4,0M333.9,174.8a1.7,1.7 0 1,0 -3.4,0a1.7,1.7 0 1,0 3.4,0M339.2,174.8a1.7,1.7 0 1,0 -3.4,0a1.7,1.7 0 1,0 3.4,0M347.2,174.8a1.7,1.7 0 1,0 -3.4,0a1.7,1.7 0 1,0 3.4,0M352.6,174.8a1.7,1.7 0 1,0 -3.4,0a1.7,1.7 0 1,0 3.4,0M357.9,174.8a1.7,1.7 0 1,0 -3.4,0a1.7,1.7 0 1,0 3.4,0M360.6,174.8a1.7,1.7 0 1,0 -3.4,0a1.7,1.7 0 1,0 3.4,0M363.3,174.8a1.7,1.7 0 1,0 -3.4,0a1.7,1.7 0 1,0 3.4,0M365.9,174.8a1.7,1.7 0 1,0 -3.4,0a1.7,1.7 0 1,0 3.4,0M368.6,174.8a1.7,1.7 0 1,0 -3.4,0a1.7,1.7 0 1,0 3.4,0M371.3,174.8a1.7,1.7 0 1,0 -3.4,0a1.7,1.7 0 1,0 3.4,0M373.9,174.8a1.7,1.7 0 1,0 -3.4,0a1.7,1.7 0 1,0 3.4,0M376.6,174.8a1.7,1.7 0 1,0 -3.4,0a1.7,1.7 0 1,0 3.4,0M379.3,174.8a1.7,1.7 0 1,0 -3.4,0a1.7,1.7 0 1,0 3.4,0M381.9,174.8a1.7,1.7 0 1,0 -3.4,0a1.7,1.7 0 1,0 3.4,0M384.6,174.8a1.7,1.7 0 1,0 -3.4,0a1.7,1.7 0 1,0 3.4,0M387.3,174.8a1.7,1.7 0 1,0 -3.4,0a1.7,1.7 0 1,0 3.4,0M389.9,174.8a1.7,1.7 0 1,0 -3.4,0a1.7,1.7 0 1,0 3.4,0M395.3,174.8a1.7,1.7 0 1,0 -3.4,0a1.7,1.7 0 1,0 3.4,0M397.9,174.8a1.7,1.7 0 1,0 -3.4,0a1.7,1.7 0 1,0 3.4,0M406.0,174.8a1.7,1.7 0 1,0 -3.4,0a1.7,1.7 0 1,0 3.4,0M408.6,174.8a1.7,1.7 0 1,0 -3.4,0a1.7,1.7 0 1,0 3.4,0M411.3,174.8a1.7,1.7 0 1,0 -3.4,0a1.7,1.7 0 1,0 3.4,0M414.0,174.8a1.7,1.7 0 1,0 -3.4,0a1.7,1.7 0 1,0 3.4,0M422.0,174.8a1.7,1.7 0 1,0 -3.4,0a1.7,1.7 0 1,0 3.4,0M432.6,174.8a1.7,1.7 0 1,0 -3.4,0a1.7,1.7 0 1,0 3.4,0M478.0,174.8a1.7,1.7 0 1,0 -3.4,0a1.7,1.7 0 1,0 3.4,0M256.5,178.0a1.7,1.7 0 1,0 -3.4,0a1.7,1.7 0 1,0 3.4,0M259.2,178.0a1.7,1.7 0 1,0 -3.4,0a1.7,1.7 0 1,0 3.4,0M272.5,178.0a1.7,1.7 0 1,0 -3.4,0a1.7,1.7 0 1,0 3.4,0M291.2,178.0a1.7,1.7 0 1,0 -3.4,0a1.7,1.7 0 1,0 3.4,0M293.9,178.0a1.7,1.7 0 1,0 -3.4,0a1.7,1.7 0 1,0 3.4,0M299.2,178.0a1.7,1.7 0 1,0 -3.4,0a1.7,1.7 0 1,0 3.4,0M301.9,178.0a1.7,1.7 0 1,0 -3.4,0a1.7,1.7 0 1,0 3.4,0M304.5,178.0a1.7,1.7 0 1,0 -3.4,0a1.7,1.7 0 1,0 3.4,0M307.2,178.0a1.7,1.7 0 1,0 -3.4,0a1.7,1.7 0 1,0 3.4,0M312.5,178.0a1.7,1.7 0 1,0 -3.4,0a1.7,1.7 0 1,0 3.4,0M315.2,178.0a1.7,1.7 0 1,0 -3.4,0a1.7,1.7 0 1,0 3.4,0M317.9,178.0a1.7,1.7 0 1,0 -3.4,0a1.7,1.7 0 1,0 3.4,0M320.5,178.0a1.7,1.7 0 1,0 -3.4,0a1.7,1.7 0 1,0 3.4,0M323.2,178.0a1.7,1.7 0 1,0 -3.4,0a1.7,1.7 0 1,0 3.4,0M325.9,178.0a1.7,1.7 0 1,0 -3.4,0a1.7,1.7 0 1,0 3.4,0M328.6,178.0a1.7,1.7 0 1,0 -3.4,0a1.7,1.7 0 1,0 3.4,0M331.2,178.0a1.7,1.7 0 1,0 -3.4,0a1.7,1.7 0 1,0 3.4,0M333.9,178.0a1.7,1.7 0 1,0 -3.4,0a1.7,1.7 0 1,0 3.4,0M336.6,178.0a1.7,1.7 0 1,0 -3.4,0a1.7,1.7 0 1,0 3.4,0M344.6,178.0a1.7,1.7 0 1,0 -3.4,0a1.7,1.7 0 1,0 3.4,0M349.9,178.0a1.7,1.7 0 1,0 -3.4,0a1.7,1.7 0 1,0 3.4,0M352.6,178.0a1.7,1.7 0 1,0 -3.4,0a1.7,1.7 0 1,0 3.4,0M355.2,178.0a1.7,1.7 0 1,0 -3.4,0a1.7,1.7 0 1,0 3.4,0M360.6,178.0a1.7,1.7 0 1,0 -3.4,0a1.7,1.7 0 1,0 3.4,0M363.3,178.0a1.7,1.7 0 1,0 -3.4,0a1.7,1.7 0 1,0 3.4,0M365.9,178.0a1.7,1.7 0 1,0 -3.4,0a1.7,1.7 0 1,0 3.4,0M368.6,178.0a1.7,1.7 0 1,0 -3.4,0a1.7,1.7 0 1,0 3.4,0M371.3,178.0a1.7,1.7 0 1,0 -3.4,0a1.7,1.7 0 1,0 3.4,0M373.9,178.0a1.7,1.7 0 1,0 -3.4,0a1.7,1.7 0 1,0 3.4,0M376.6,178.0a1.7,1.7 0 1,0 -3.4,0a1.7,1.7 0 1,0 3.4,0M381.9,178.0a1.7,1.7 0 1,0 -3.4,0a1.7,1.7 0 1,0 3.4,0M384.6,178.0a1.7,1.7 0 1,0 -3.4,0a1.7,1.7 0 1,0 3.4,0M389.9,178.0a1.7,1.7 0 1,0 -3.4,0a1.7,1.7 0 1,0 3.4,0M392.6,178.0a1.7,1.7 0 1,0 -3.4,0a1.7,1.7 0 1,0 3.4,0M397.9,178.0a1.7,1.7 0 1,0 -3.4,0a1.7,1.7 0 1,0 3.4,0M411.3,178.0a1.7,1.7 0 1,0 -3.4,0a1.7,1.7 0 1,0 3.4,0M414.0,178.0a1.7,1.7 0 1,0 -3.4,0a1.7,1.7 0 1,0 3.4,0M422.0,178.0a1.7,1.7 0 1,0 -3.4,0a1.7,1.7 0 1,0 3.4,0M456.7,178.0a1.7,1.7 0 1,0 -3.4,0a1.7,1.7 0 1,0 3.4,0M480.7,178.0a1.7,1.7 0 1,0 -3.4,0a1.7,1.7 0 1,0 3.4,0M547.4,178.0a1.7,1.7 0 1,0 -3.4,0a1.7,1.7 0 1,0 3.4,0M152.4,181.3a1.7,1.7 0 1,0 -3.4,0a1.7,1.7 0 1,0 3.4,0M240.5,181.3a1.7,1.7 0 1,0 -3.4,0a1.7,1.7 0 1,0 3.4,0M251.2,181.3a1.7,1.7 0 1,0 -3.4,0a1.7,1.7 0 1,0 3.4,0M267.2,181.3a1.7,1.7 0 1,0 -3.4,0a1.7,1.7 0 1,0 3.4,0M275.2,181.3a1.7,1.7 0 1,0 -3.4,0a1.7,1.7 0 1,0 3.4,0M277.8,181.3a1.7,1.7 0 1,0 -3.4,0a1.7,1.7 0 1,0 3.4,0M293.9,181.3a1.7,1.7 0 1,0 -3.4,0a1.7,1.7 0 1,0 3.4,0M307.2,181.3a1.7,1.7 0 1,0 -3.4,0a1.7,1.7 0 1,0 3.4,0M309.9,181.3a1.7,1.7 0 1,0 -3.4,0a1.7,1.7 0 1,0 3.4,0M312.5,181.3a1.7,1.7 0 1,0 -3.4,0a1.7,1.7 0 1,0 3.4,0M317.9,181.3a1.7,1.7 0 1,0 -3.4,0a1.7,1.7 0 1,0 3.4,0M320.5,181.3a1.7,1.7 0 1,0 -3.4,0a1.7,1.7 0 1,0 3.4,0M323.2,181.3a1.7,1.7 0 1,0 -3.4,0a1.7,1.7 0 1,0 3.4,0M325.9,181.3a1.7,1.7 0 1,0 -3.4,0a1.7,1.7 0 1,0 3.4,0M331.2,181.3a1.7,1.7 0 1,0 -3.4,0a1.7,1.7 0 1,0 3.4,0M333.9,181.3a1.7,1.7 0 1,0 -3.4,0a1.7,1.7 0 1,0 3.4,0M339.2,181.3a1.7,1.7 0 1,0 -3.4,0a1.7,1.7 0 1,0 3.4,0M341.9,181.3a1.7,1.7 0 1,0 -3.4,0a1.7,1.7 0 1,0 3.4,0M344.6,181.3a1.7,1.7 0 1,0 -3.4,0a1.7,1.7 0 1,0 3.4,0M349.9,181.3a1.7,1.7 0 1,0 -3.4,0a1.7,1.7 0 1,0 3.4,0M352.6,181.3a1.7,1.7 0 1,0 -3.4,0a1.7,1.7 0 1,0 3.4,0M355.2,181.3a1.7,1.7 0 1,0 -3.4,0a1.7,1.7 0 1,0 3.4,0M357.9,181.3a1.7,1.7 0 1,0 -3.4,0a1.7,1.7 0 1,0 3.4,0M360.6,181.3a1.7,1.7 0 1,0 -3.4,0a1.7,1.7 0 1,0 3.4,0M363.3,181.3a1.7,1.7 0 1,0 -3.4,0a1.7,1.7 0 1,0 3.4,0M365.9,181.3a1.7,1.7 0 1,0 -3.4,0a1.7,1.7 0 1,0 3.4,0M368.6,181.3a1.7,1.7 0 1,0 -3.4,0a1.7,1.7 0 1,0 3.4,0M371.3,181.3a1.7,1.7 0 1,0 -3.4,0a1.7,1.7 0 1,0 3.4,0M379.3,181.3a1.7,1.7 0 1,0 -3.4,0a1.7,1.7 0 1,0 3.4,0M381.9,181.3a1.7,1.7 0 1,0 -3.4,0a1.7,1.7 0 1,0 3.4,0M384.6,181.3a1.7,1.7 0 1,0 -3.4,0a1.7,1.7 0 1,0 3.4,0M387.3,181.3a1.7,1.7 0 1,0 -3.4,0a1.7,1.7 0 1,0 3.4,0M389.9,181.3a1.7,1.7 0 1,0 -3.4,0a1.7,1.7 0 1,0 3.4,0M395.3,181.3a1.7,1.7 0 1,0 -3.4,0a1.7,1.7 0 1,0 3.4,0M400.6,181.3a1.7,1.7 0 1,0 -3.4,0a1.7,1.7 0 1,0 3.4,0M403.3,181.3a1.7,1.7 0 1,0 -3.4,0a1.7,1.7 0 1,0 3.4,0M406.0,181.3a1.7,1.7 0 1,0 -3.4,0a1.7,1.7 0 1,0 3.4,0M411.3,181.3a1.7,1.7 0 1,0 -3.4,0a1.7,1.7 0 1,0 3.4,0M414.0,181.3a1.7,1.7 0 1,0 -3.4,0a1.7,1.7 0 1,0 3.4,0M419.3,181.3a1.7,1.7 0 1,0 -3.4,0a1.7,1.7 0 1,0 3.4,0M422.0,181.3a1.7,1.7 0 1,0 -3.4,0a1.7,1.7 0 1,0 3.4,0M427.3,181.3a1.7,1.7 0 1,0 -3.4,0a1.7,1.7 0 1,0 3.4,0M435.3,181.3a1.7,1.7 0 1,0 -3.4,0a1.7,1.7 0 1,0 3.4,0M443.3,181.3a1.7,1.7 0 1,0 -3.4,0a1.7,1.7 0 1,0 3.4,0M446.0,181.3a1.7,1.7 0 1,0 -3.4,0a1.7,1.7 0 1,0 3.4,0M459.3,181.3a1.7,1.7 0 1,0 -3.4,0a1.7,1.7 0 1,0 3.4,0M462.0,181.3a1.7,1.7 0 1,0 -3.4,0a1.7,1.7 0 1,0 3.4,0M467.3,181.3a1.7,1.7 0 1,0 -3.4,0a1.7,1.7 0 1,0 3.4,0M472.7,181.3a1.7,1.7 0 1,0 -3.4,0a1.7,1.7 0 1,0 3.4,0M486.0,181.3a1.7,1.7 0 1,0 -3.4,0a1.7,1.7 0 1,0 3.4,0M574.1,181.3a1.7,1.7 0 1,0 -3.4,0a1.7,1.7 0 1,0 3.4,0M267.2,184.5a1.7,1.7 0 1,0 -3.4,0a1.7,1.7 0 1,0 3.4,0M275.2,184.5a1.7,1.7 0 1,0 -3.4,0a1.7,1.7 0 1,0 3.4,0M283.2,184.5a1.7,1.7 0 1,0 -3.4,0a1.7,1.7 0 1,0 3.4,0M291.2,184.5a1.7,1.7 0 1,0 -3.4,0a1.7,1.7 0 1,0 3.4,0M293.9,184.5a1.7,1.7 0 1,0 -3.4,0a1.7,1.7 0 1,0 3.4,0M296.5,184.5a1.7,1.7 0 1,0 -3.4,0a1.7,1.7 0 1,0 3.4,0M299.2,184.5a1.7,1.7 0 1,0 -3.4,0a1.7,1.7 0 1,0 3.4,0M301.9,184.5a1.7,1.7 0 1,0 -3.4,0a1.7,1.7 0 1,0 3.4,0M304.5,184.5a1.7,1.7 0 1,0 -3.4,0a1.7,1.7 0 1,0 3.4,0M312.5,184.5a1.7,1.7 0 1,0 -3.4,0a1.7,1.7 0 1,0 3.4,0M315.2,184.5a1.7,1.7 0 1,0 -3.4,0a1.7,1.7 0 1,0 3.4,0M317.9,184.5a1.7,1.7 0 1,0 -3.4,0a1.7,1.7 0 1,0 3.4,0M320.5,184.5a1.7,1.7 0 1,0 -3.4,0a1.7,1.7 0 1,0 3.4,0M323.2,184.5a1.7,1.7 0 1,0 -3.4,0a1.7,1.7 0 1,0 3.4,0M325.9,184.5a1.7,1.7 0 1,0 -3.4,0a1.7,1.7 0 1,0 3.4,0M328.6,184.5a1.7,1.7 0 1,0 -3.4,0a1.7,1.7 0 1,0 3.4,0M331.2,184.5a1.7,1.7 0 1,0 -3.4,0a1.7,1.7 0 1,0 3.4,0M333.9,184.5a1.7,1.7 0 1,0 -3.4,0a1.7,1.7 0 1,0 3.4,0M341.9,184.5a1.7,1.7 0 1,0 -3.4,0a1.7,1.7 0 1,0 3.4,0M344.6,184.5a1.7,1.7 0 1,0 -3.4,0a1.7,1.7 0 1,0 3.4,0M347.2,184.5a1.7,1.7 0 1,0 -3.4,0a1.7,1.7 0 1,0 3.4,0M349.9,184.5a1.7,1.7 0 1,0 -3.4,0a1.7,1.7 0 1,0 3.4,0M352.6,184.5a1.7,1.7 0 1,0 -3.4,0a1.7,1.7 0 1,0 3.4,0M355.2,184.5a1.7,1.7 0 1,0 -3.4,0a1.7,1.7 0 1,0 3.4,0M357.9,184.5a1.7,1.7 0 1,0 -3.4,0a1.7,1.7 0 1,0 3.4,0M360.6,184.5a1.7,1.7 0 1,0 -3.4,0a1.7,1.7 0 1,0 3.4,0M363.3,184.5a1.7,1.7 0 1,0 -3.4,0a1.7,1.7 0 1,0 3.4,0M365.9,184.5a1.7,1.7 0 1,0 -3.4,0a1.7,1.7 0 1,0 3.4,0M371.3,184.5a1.7,1.7 0 1,0 -3.4,0a1.7,1.7 0 1,0 3.4,0M373.9,184.5a1.7,1.7 0 1,0 -3.4,0a1.7,1.7 0 1,0 3.4,0M381.9,184.5a1.7,1.7 0 1,0 -3.4,0a1.7,1.7 0 1,0 3.4,0M384.6,184.5a1.7,1.7 0 1,0 -3.4,0a1.7,1.7 0 1,0 3.4,0M387.3,184.5a1.7,1.7 0 1,0 -3.4,0a1.7,1.7 0 1,0 3.4,0M389.9,184.5a1.7,1.7 0 1,0 -3.4,0a1.7,1.7 0 1,0 3.4,0M392.6,184.5a1.7,1.7 0 1,0 -3.4,0a1.7,1.7 0 1,0 3.4,0M397.9,184.5a1.7,1.7 0 1,0 -3.4,0a1.7,1.7 0 1,0 3.4,0M400.6,184.5a1.7,1.7 0 1,0 -3.4,0a1.7,1.7 0 1,0 3.4,0M403.3,184.5a1.7,1.7 0 1,0 -3.4,0a1.7,1.7 0 1,0 3.4,0M406.0,184.5a1.7,1.7 0 1,0 -3.4,0a1.7,1.7 0 1,0 3.4,0M408.6,184.5a1.7,1.7 0 1,0 -3.4,0a1.7,1.7 0 1,0 3.4,0M411.3,184.5a1.7,1.7 0 1,0 -3.4,0a1.7,1.7 0 1,0 3.4,0M419.3,184.5a1.7,1.7 0 1,0 -3.4,0a1.7,1.7 0 1,0 3.4,0M422.0,184.5a1.7,1.7 0 1,0 -3.4,0a1.7,1.7 0 1,0 3.4,0M424.6,184.5a1.7,1.7 0 1,0 -3.4,0a1.7,1.7 0 1,0 3.4,0M427.3,184.5a1.7,1.7 0 1,0 -3.4,0a1.7,1.7 0 1,0 3.4,0M430.0,184.5a1.7,1.7 0 1,0 -3.4,0a1.7,1.7 0 1,0 3.4,0M438.0,184.5a1.7,1.7 0 1,0 -3.4,0a1.7,1.7 0 1,0 3.4,0M440.6,184.5a1.7,1.7 0 1,0 -3.4,0a1.7,1.7 0 1,0 3.4,0M446.0,184.5a1.7,1.7 0 1,0 -3.4,0a1.7,1.7 0 1,0 3.4,0M459.3,184.5a1.7,1.7 0 1,0 -3.4,0a1.7,1.7 0 1,0 3.4,0M462.0,184.5a1.7,1.7 0 1,0 -3.4,0a1.7,1.7 0 1,0 3.4,0M467.3,184.5a1.7,1.7 0 1,0 -3.4,0a1.7,1.7 0 1,0 3.4,0M475.3,184.5a1.7,1.7 0 1,0 -3.4,0a1.7,1.7 0 1,0 3.4,0M272.5,187.8a1.7,1.7 0 1,0 -3.4,0a1.7,1.7 0 1,0 3.4,0M277.8,187.8a1.7,1.7 0 1,0 -3.4,0a1.7,1.7 0 1,0 3.4,0M280.5,187.8a1.7,1.7 0 1,0 -3.4,0a1.7,1.7 0 1,0 3.4,0M283.2,187.8a1.7,1.7 0 1,0 -3.4,0a1.7,1.7 0 1,0 3.4,0M285.9,187.8a1.7,1.7 0 1,0 -3.4,0a1.7,1.7 0 1,0 3.4,0M291.2,187.8a1.7,1.7 0 1,0 -3.4,0a1.7,1.7 0 1,0 3.4,0M293.9,187.8a1.7,1.7 0 1,0 -3.4,0a1.7,1.7 0 1,0 3.4,0M299.2,187.8a1.7,1.7 0 1,0 -3.4,0a1.7,1.7 0 1,0 3.4,0M301.9,187.8a1.7,1.7 0 1,0 -3.4,0a1.7,1.7 0 1,0 3.4,0M307.2,187.8a1.7,1.7 0 1,0 -3.4,0a1.7,1.7 0 1,0 3.4,0M315.2,187.8a1.7,1.7 0 1,0 -3.4,0a1.7,1.7 0 1,0 3.4,0M317.9,187.8a1.7,1.7 0 1,0 -3.4,0a1.7,1.7 0 1,0 3.4,0M320.5,187.8a1.7,1.7 0 1,0 -3.4,0a1.7,1.7 0 1,0 3.4,0M323.2,187.8a1.7,1.7 0 1,0 -3.4,0a1.7,1.7 0 1,0 3.4,0M325.9,187.8a1.7,1.7 0 1,0 -3.4,0a1.7,1.7 0 1,0 3.4,0M328.6,187.8a1.7,1.7 0 1,0 -3.4,0a1.7,1.7 0 1,0 3.4,0M333.9,187.8a1.7,1.7 0 1,0 -3.4,0a1.7,1.7 0 1,0 3.4,0M336.6,187.8a1.7,1.7 0 1,0 -3.4,0a1.7,1.7 0 1,0 3.4,0M339.2,187.8a1.7,1.7 0 1,0 -3.4,0a1.7,1.7 0 1,0 3.4,0M341.9,187.8a1.7,1.7 0 1,0 -3.4,0a1.7,1.7 0 1,0 3.4,0M344.6,187.8a1.7,1.7 0 1,0 -3.4,0a1.7,1.7 0 1,0 3.4,0M347.2,187.8a1.7,1.7 0 1,0 -3.4,0a1.7,1.7 0 1,0 3.4,0M349.9,187.8a1.7,1.7 0 1,0 -3.4,0a1.7,1.7 0 1,0 3.4,0M352.6,187.8a1.7,1.7 0 1,0 -3.4,0a1.7,1.7 0 1,0 3.4,0M355.2,187.8a1.7,1.7 0 1,0 -3.4,0a1.7,1.7 0 1,0 3.4,0M357.9,187.8a1.7,1.7 0 1,0 -3.4,0a1.7,1.7 0 1,0 3.4,0M360.6,187.8a1.7,1.7 0 1,0 -3.4,0a1.7,1.7 0 1,0 3.4,0M363.3,187.8a1.7,1.7 0 1,0 -3.4,0a1.7,1.7 0 1,0 3.4,0M371.3,187.8a1.7,1.7 0 1,0 -3.4,0a1.7,1.7 0 1,0 3.4,0M373.9,187.8a1.7,1.7 0 1,0 -3.4,0a1.7,1.7 0 1,0 3.4,0M376.6,187.8a1.7,1.7 0 1,0 -3.4,0a1.7,1.7 0 1,0 3.4,0M384.6,187.8a1.7,1.7 0 1,0 -3.4,0a1.7,1.7 0 1,0 3.4,0M387.3,187.8a1.7,1.7 0 1,0 -3.4,0a1.7,1.7 0 1,0 3.4,0M389.9,187.8a1.7,1.7 0 1,0 -3.4,0a1.7,1.7 0 1,0 3.4,0M392.6,187.8a1.7,1.7 0 1,0 -3.4,0a1.7,1.7 0 1,0 3.4,0M395.3,187.8a1.7,1.7 0 1,0 -3.4,0a1.7,1.7 0 1,0 3.4,0M397.9,187.8a1.7,1.7 0 1,0 -3.4,0a1.7,1.7 0 1,0 3.4,0M403.3,187.8a1.7,1.7 0 1,0 -3.4,0a1.7,1.7 0 1,0 3.4,0M406.0,187.8a1.7,1.7 0 1,0 -3.4,0a1.7,1.7 0 1,0 3.4,0M408.6,187.8a1.7,1.7 0 1,0 -3.4,0a1.7,1.7 0 1,0 3.4,0M411.3,187.8a1.7,1.7 0 1,0 -3.4,0a1.7,1.7 0 1,0 3.4,0M414.0,187.8a1.7,1.7 0 1,0 -3.4,0a1.7,1.7 0 1,0 3.4,0M416.6,187.8a1.7,1.7 0 1,0 -3.4,0a1.7,1.7 0 1,0 3.4,0M419.3,187.8a1.7,1.7 0 1,0 -3.4,0a1.7,1.7 0 1,0 3.4,0M422.0,187.8a1.7,1.7 0 1,0 -3.4,0a1.7,1.7 0 1,0 3.4,0M424.6,187.8a1.7,1.7 0 1,0 -3.4,0a1.7,1.7 0 1,0 3.4,0M427.3,187.8a1.7,1.7 0 1,0 -3.4,0a1.7,1.7 0 1,0 3.4,0M435.3,187.8a1.7,1.7 0 1,0 -3.4,0a1.7,1.7 0 1,0 3.4,0M438.0,187.8a1.7,1.7 0 1,0 -3.4,0a1.7,1.7 0 1,0 3.4,0M440.6,187.8a1.7,1.7 0 1,0 -3.4,0a1.7,1.7 0 1,0 3.4,0M443.3,187.8a1.7,1.7 0 1,0 -3.4,0a1.7,1.7 0 1,0 3.4,0M446.0,187.8a1.7,1.7 0 1,0 -3.4,0a1.7,1.7 0 1,0 3.4,0M448.7,187.8a1.7,1.7 0 1,0 -3.4,0a1.7,1.7 0 1,0 3.4,0M451.3,187.8a1.7,1.7 0 1,0 -3.4,0a1.7,1.7 0 1,0 3.4,0M454.0,187.8a1.7,1.7 0 1,0 -3.4,0a1.7,1.7 0 1,0 3.4,0M456.7,187.8a1.7,1.7 0 1,0 -3.4,0a1.7,1.7 0 1,0 3.4,0M459.3,187.8a1.7,1.7 0 1,0 -3.4,0a1.7,1.7 0 1,0 3.4,0M462.0,187.8a1.7,1.7 0 1,0 -3.4,0a1.7,1.7 0 1,0 3.4,0M464.7,187.8a1.7,1.7 0 1,0 -3.4,0a1.7,1.7 0 1,0 3.4,0M467.3,187.8a1.7,1.7 0 1,0 -3.4,0a1.7,1.7 0 1,0 3.4,0M470.0,187.8a1.7,1.7 0 1,0 -3.4,0a1.7,1.7 0 1,0 3.4,0M472.7,187.8a1.7,1.7 0 1,0 -3.4,0a1.7,1.7 0 1,0 3.4,0M475.3,187.8a1.7,1.7 0 1,0 -3.4,0a1.7,1.7 0 1,0 3.4,0M483.4,187.8a1.7,1.7 0 1,0 -3.4,0a1.7,1.7 0 1,0 3.4,0M574.1,187.8a1.7,1.7 0 1,0 -3.4,0a1.7,1.7 0 1,0 3.4,0M168.4,191.0a1.7,1.7 0 1,0 -3.4,0a1.7,1.7 0 1,0 3.4,0M272.5,191.0a1.7,1.7 0 1,0 -3.4,0a1.7,1.7 0 1,0 3.4,0M275.2,191.0a1.7,1.7 0 1,0 -3.4,0a1.7,1.7 0 1,0 3.4,0M280.5,191.0a1.7,1.7 0 1,0 -3.4,0a1.7,1.7 0 1,0 3.4,0M285.9,191.0a1.7,1.7 0 1,0 -3.4,0a1.7,1.7 0 1,0 3.4,0M288.5,191.0a1.7,1.7 0 1,0 -3.4,0a1.7,1.7 0 1,0 3.4,0M299.2,191.0a1.7,1.7 0 1,0 -3.4,0a1.7,1.7 0 1,0 3.4,0M301.9,191.0a1.7,1.7 0 1,0 -3.4,0a1.7,1.7 0 1,0 3.4,0M307.2,191.0a1.7,1.7 0 1,0 -3.4,0a1.7,1.7 0 1,0 3.4,0M309.9,191.0a1.7,1.7 0 1,0 -3.4,0a1.7,1.7 0 1,0 3.4,0M312.5,191.0a1.7,1.7 0 1,0 -3.4,0a1.7,1.7 0 1,0 3.4,0M315.2,191.0a1.7,1.7 0 1,0 -3.4,0a1.7,1.7 0 1,0 3.4,0M317.9,191.0a1.7,1.7 0 1,0 -3.4,0a1.7,1.7 0 1,0 3.4,0M320.5,191.0a1.7,1.7 0 1,0 -3.4,0a1.7,1.7 0 1,0 3.4,0M323.2,191.0a1.7,1.7 0 1,0 -3.4,0a1.7,1.7 0 1,0 3.4,0M325.9,191.0a1.7,1.7 0 1,0 -3.4,0a1.7,1.7 0 1,0 3.4,0M328.6,191.0a1.7,1.7 0 1,0 -3.4,0a1.7,1.7 0 1,0 3.4,0M333.9,191.0a1.7,1.7 0 1,0 -3.4,0a1.7,1.7 0 1,0 3.4,0M336.6,191.0a1.7,1.7 0 1,0 -3.4,0a1.7,1.7 0 1,0 3.4,0M339.2,191.0a1.7,1.7 0 1,0 -3.4,0a1.7,1.7 0 1,0 3.4,0M341.9,191.0a1.7,1.7 0 1,0 -3.4,0a1.7,1.7 0 1,0 3.4,0M344.6,191.0a1.7,1.7 0 1,0 -3.4,0a1.7,1.7 0 1,0 3.4,0M347.2,191.0a1.7,1.7 0 1,0 -3.4,0a1.7,1.7 0 1,0 3.4,0M349.9,191.0a1.7,1.7 0 1,0 -3.4,0a1.7,1.7 0 1,0 3.4,0M352.6,191.0a1.7,1.7 0 1,0 -3.4,0a1.7,1.7 0 1,0 3.4,0M355.2,191.0a1.7,1.7 0 1,0 -3.4,0a1.7,1.7 0 1,0 3.4,0M360.6,191.0a1.7,1.7 0 1,0 -3.4,0a1.7,1.7 0 1,0 3.4,0M363.3,191.0a1.7,1.7 0 1,0 -3.4,0a1.7,1.7 0 1,0 3.4,0M373.9,191.0a1.7,1.7 0 1,0 -3.4,0a1.7,1.7 0 1,0 3.4,0M376.6,191.0a1.7,1.7 0 1,0 -3.4,0a1.7,1.7 0 1,0 3.4,0M379.3,191.0a1.7,1.7 0 1,0 -3.4,0a1.7,1.7 0 1,0 3.4,0M381.9,191.0a1.7,1.7 0 1,0 -3.4,0a1.7,1.7 0 1,0 3.4,0M392.6,191.0a1.7,1.7 0 1,0 -3.4,0a1.7,1.7 0 1,0 3.4,0M395.3,191.0a1.7,1.7 0 1,0 -3.4,0a1.7,1.7 0 1,0 3.4,0M397.9,191.0a1.7,1.7 0 1,0 -3.4,0a1.7,1.7 0 1,0 3.4,0M400.6,191.0a1.7,1.7 0 1,0 -3.4,0a1.7,1.7 0 1,0 3.4,0M403.3,191.0a1.7,1.7 0 1,0 -3.4,0a1.7,1.7 0 1,0 3.4,0M406.0,191.0a1.7,1.7 0 1,0 -3.4,0a1.7,1.7 0 1,0 3.4,0M408.6,191.0a1.7,1.7 0 1,0 -3.4,0a1.7,1.7 0 1,0 3.4,0M411.3,191.0a1.7,1.7 0 1,0 -3.4,0a1.7,1.7 0 1,0 3.4,0M414.0,191.0a1.7,1.7 0 1,0 -3.4,0a1.7,1.7 0 1,0 3.4,0M416.6,191.0a1.7,1.7 0 1,0 -3.4,0a1.7,1.7 0 1,0 3.4,0M419.3,191.0a1.7,1.7 0 1,0 -3.4,0a1.7,1.7 0 1,0 3.4,0M422.0,191.0a1.7,1.7 0 1,0 -3.4,0a1.7,1.7 0 1,0 3.4,0M424.6,191.0a1.7,1.7 0 1,0 -3.4,0a1.7,1.7 0 1,0 3.4,0M427.3,191.0a1.7,1.7 0 1,0 -3.4,0a1.7,1.7 0 1,0 3.4,0M430.0,191.0a1.7,1.7 0 1,0 -3.4,0a1.7,1.7 0 1,0 3.4,0M432.6,191.0a1.7,1.7 0 1,0 -3.4,0a1.7,1.7 0 1,0 3.4,0M435.3,191.0a1.7,1.7 0 1,0 -3.4,0a1.7,1.7 0 1,0 3.4,0M438.0,191.0a1.7,1.7 0 1,0 -3.4,0a1.7,1.7 0 1,0 3.4,0M440.6,191.0a1.7,1.7 0 1,0 -3.4,0a1.7,1.7 0 1,0 3.4,0M443.3,191.0a1.7,1.7 0 1,0 -3.4,0a1.7,1.7 0 1,0 3.4,0M446.0,191.0a1.7,1.7 0 1,0 -3.4,0a1.7,1.7 0 1,0 3.4,0M448.7,191.0a1.7,1.7 0 1,0 -3.4,0a1.7,1.7 0 1,0 3.4,0M451.3,191.0a1.7,1.7 0 1,0 -3.4,0a1.7,1.7 0 1,0 3.4,0M454.0,191.0a1.7,1.7 0 1,0 -3.4,0a1.7,1.7 0 1,0 3.4,0M456.7,191.0a1.7,1.7 0 1,0 -3.4,0a1.7,1.7 0 1,0 3.4,0M459.3,191.0a1.7,1.7 0 1,0 -3.4,0a1.7,1.7 0 1,0 3.4,0M462.0,191.0a1.7,1.7 0 1,0 -3.4,0a1.7,1.7 0 1,0 3.4,0M464.7,191.0a1.7,1.7 0 1,0 -3.4,0a1.7,1.7 0 1,0 3.4,0M467.3,191.0a1.7,1.7 0 1,0 -3.4,0a1.7,1.7 0 1,0 3.4,0M470.0,191.0a1.7,1.7 0 1,0 -3.4,0a1.7,1.7 0 1,0 3.4,0M472.7,191.0a1.7,1.7 0 1,0 -3.4,0a1.7,1.7 0 1,0 3.4,0M275.2,194.2a1.7,1.7 0 1,0 -3.4,0a1.7,1.7 0 1,0 3.4,0M277.8,194.2a1.7,1.7 0 1,0 -3.4,0a1.7,1.7 0 1,0 3.4,0M288.5,194.2a1.7,1.7 0 1,0 -3.4,0a1.7,1.7 0 1,0 3.4,0M291.2,194.2a1.7,1.7 0 1,0 -3.4,0a1.7,1.7 0 1,0 3.4,0M293.9,194.2a1.7,1.7 0 1,0 -3.4,0a1.7,1.7 0 1,0 3.4,0M299.2,194.2a1.7,1.7 0 1,0 -3.4,0a1.7,1.7 0 1,0 3.4,0M304.5,194.2a1.7,1.7 0 1,0 -3.4,0a1.7,1.7 0 1,0 3.4,0M307.2,194.2a1.7,1.7 0 1,0 -3.4,0a1.7,1.7 0 1,0 3.4,0M309.9,194.2a1.7,1.7 0 1,0 -3.4,0a1.7,1.7 0 1,0 3.4,0M312.5,194.2a1.7,1.7 0 1,0 -3.4,0a1.7,1.7 0 1,0 3.4,0M315.2,194.2a1.7,1.7 0 1,0 -3.4,0a1.7,1.7 0 1,0 3.4,0M320.5,194.2a1.7,1.7 0 1,0 -3.4,0a1.7,1.7 0 1,0 3.4,0M323.2,194.2a1.7,1.7 0 1,0 -3.4,0a1.7,1.7 0 1,0 3.4,0M325.9,194.2a1.7,1.7 0 1,0 -3.4,0a1.7,1.7 0 1,0 3.4,0M328.6,194.2a1.7,1.7 0 1,0 -3.4,0a1.7,1.7 0 1,0 3.4,0M331.2,194.2a1.7,1.7 0 1,0 -3.4,0a1.7,1.7 0 1,0 3.4,0M333.9,194.2a1.7,1.7 0 1,0 -3.4,0a1.7,1.7 0 1,0 3.4,0M336.6,194.2a1.7,1.7 0 1,0 -3.4,0a1.7,1.7 0 1,0 3.4,0M341.9,194.2a1.7,1.7 0 1,0 -3.4,0a1.7,1.7 0 1,0 3.4,0M344.6,194.2a1.7,1.7 0 1,0 -3.4,0a1.7,1.7 0 1,0 3.4,0M347.2,194.2a1.7,1.7 0 1,0 -3.4,0a1.7,1.7 0 1,0 3.4,0M349.9,194.2a1.7,1.7 0 1,0 -3.4,0a1.7,1.7 0 1,0 3.4,0M352.6,194.2a1.7,1.7 0 1,0 -3.4,0a1.7,1.7 0 1,0 3.4,0M357.9,194.2a1.7,1.7 0 1,0 -3.4,0a1.7,1.7 0 1,0 3.4,0M360.6,194.2a1.7,1.7 0 1,0 -3.4,0a1.7,1.7 0 1,0 3.4,0M365.9,194.2a1.7,1.7 0 1,0 -3.4,0a1.7,1.7 0 1,0 3.4,0M368.6,194.2a1.7,1.7 0 1,0 -3.4,0a1.7,1.7 0 1,0 3.4,0M371.3,194.2a1.7,1.7 0 1,0 -3.4,0a1.7,1.7 0 1,0 3.4,0M373.9,194.2a1.7,1.7 0 1,0 -3.4,0a1.7,1.7 0 1,0 3.4,0M376.6,194.2a1.7,1.7 0 1,0 -3.4,0a1.7,1.7 0 1,0 3.4,0M379.3,194.2a1.7,1.7 0 1,0 -3.4,0a1.7,1.7 0 1,0 3.4,0M384.6,194.2a1.7,1.7 0 1,0 -3.4,0a1.7,1.7 0 1,0 3.4,0M389.9,194.2a1.7,1.7 0 1,0 -3.4,0a1.7,1.7 0 1,0 3.4,0M392.6,194.2a1.7,1.7 0 1,0 -3.4,0a1.7,1.7 0 1,0 3.4,0M395.3,194.2a1.7,1.7 0 1,0 -3.4,0a1.7,1.7 0 1,0 3.4,0M397.9,194.2a1.7,1.7 0 1,0 -3.4,0a1.7,1.7 0 1,0 3.4,0M406.0,194.2a1.7,1.7 0 1,0 -3.4,0a1.7,1.7 0 1,0 3.4,0M408.6,194.2a1.7,1.7 0 1,0 -3.4,0a1.7,1.7 0 1,0 3.4,0M411.3,194.2a1.7,1.7 0 1,0 -3.4,0a1.7,1.7 0 1,0 3.4,0M414.0,194.2a1.7,1.7 0 1,0 -3.4,0a1.7,1.7 0 1,0 3.4,0M416.6,194.2a1.7,1.7 0 1,0 -3.4,0a1.7,1.7 0 1,0 3.4,0M419.3,194.2a1.7,1.7 0 1,0 -3.4,0a1.7,1.7 0 1,0 3.4,0M422.0,194.2a1.7,1.7 0 1,0 -3.4,0a1.7,1.7 0 1,0 3.4,0M424.6,194.2a1.7,1.7 0 1,0 -3.4,0a1.7,1.7 0 1,0 3.4,0M427.3,194.2a1.7,1.7 0 1,0 -3.4,0a1.7,1.7 0 1,0 3.4,0M430.0,194.2a1.7,1.7 0 1,0 -3.4,0a1.7,1.7 0 1,0 3.4,0M432.6,194.2a1.7,1.7 0 1,0 -3.4,0a1.7,1.7 0 1,0 3.4,0M435.3,194.2a1.7,1.7 0 1,0 -3.4,0a1.7,1.7 0 1,0 3.4,0M440.6,194.2a1.7,1.7 0 1,0 -3.4,0a1.7,1.7 0 1,0 3.4,0M443.3,194.2a1.7,1.7 0 1,0 -3.4,0a1.7,1.7 0 1,0 3.4,0M446.0,194.2a1.7,1.7 0 1,0 -3.4,0a1.7,1.7 0 1,0 3.4,0M448.7,194.2a1.7,1.7 0 1,0 -3.4,0a1.7,1.7 0 1,0 3.4,0M451.3,194.2a1.7,1.7 0 1,0 -3.4,0a1.7,1.7 0 1,0 3.4,0M454.0,194.2a1.7,1.7 0 1,0 -3.4,0a1.7,1.7 0 1,0 3.4,0M456.7,194.2a1.7,1.7 0 1,0 -3.4,0a1.7,1.7 0 1,0 3.4,0M459.3,194.2a1.7,1.7 0 1,0 -3.4,0a1.7,1.7 0 1,0 3.4,0M462.0,194.2a1.7,1.7 0 1,0 -3.4,0a1.7,1.7 0 1,0 3.4,0M464.7,194.2a1.7,1.7 0 1,0 -3.4,0a1.7,1.7 0 1,0 3.4,0M467.3,194.2a1.7,1.7 0 1,0 -3.4,0a1.7,1.7 0 1,0 3.4,0M470.0,194.2a1.7,1.7 0 1,0 -3.4,0a1.7,1.7 0 1,0 3.4,0M475.3,194.2a1.7,1.7 0 1,0 -3.4,0a1.7,1.7 0 1,0 3.4,0M478.0,194.2a1.7,1.7 0 1,0 -3.4,0a1.7,1.7 0 1,0 3.4,0M275.2,197.5a1.7,1.7 0 1,0 -3.4,0a1.7,1.7 0 1,0 3.4,0M277.8,197.5a1.7,1.7 0 1,0 -3.4,0a1.7,1.7 0 1,0 3.4,0M280.5,197.5a1.7,1.7 0 1,0 -3.4,0a1.7,1.7 0 1,0 3.4,0M285.9,197.5a1.7,1.7 0 1,0 -3.4,0a1.7,1.7 0 1,0 3.4,0M296.5,197.5a1.7,1.7 0 1,0 -3.4,0a1.7,1.7 0 1,0 3.4,0M301.9,197.5a1.7,1.7 0 1,0 -3.4,0a1.7,1.7 0 1,0 3.4,0M304.5,197.5a1.7,1.7 0 1,0 -3.4,0a1.7,1.7 0 1,0 3.4,0M307.2,197.5a1.7,1.7 0 1,0 -3.4,0a1.7,1.7 0 1,0 3.4,0M309.9,197.5a1.7,1.7 0 1,0 -3.4,0a1.7,1.7 0 1,0 3.4,0M312.5,197.5a1.7,1.7 0 1,0 -3.4,0a1.7,1.7 0 1,0 3.4,0M315.2,197.5a1.7,1.7 0 1,0 -3.4,0a1.7,1.7 0 1,0 3.4,0M317.9,197.5a1.7,1.7 0 1,0 -3.4,0a1.7,1.7 0 1,0 3.4,0M320.5,197.5a1.7,1.7 0 1,0 -3.4,0a1.7,1.7 0 1,0 3.4,0M323.2,197.5a1.7,1.7 0 1,0 -3.4,0a1.7,1.7 0 1,0 3.4,0M325.9,197.5a1.7,1.7 0 1,0 -3.4,0a1.7,1.7 0 1,0 3.4,0M328.6,197.5a1.7,1.7 0 1,0 -3.4,0a1.7,1.7 0 1,0 3.4,0M331.2,197.5a1.7,1.7 0 1,0 -3.4,0a1.7,1.7 0 1,0 3.4,0M333.9,197.5a1.7,1.7 0 1,0 -3.4,0a1.7,1.7 0 1,0 3.4,0M336.6,197.5a1.7,1.7 0 1,0 -3.4,0a1.7,1.7 0 1,0 3.4,0M341.9,197.5a1.7,1.7 0 1,0 -3.4,0a1.7,1.7 0 1,0 3.4,0M344.6,197.5a1.7,1.7 0 1,0 -3.4,0a1.7,1.7 0 1,0 3.4,0M347.2,197.5a1.7,1.7 0 1,0 -3.4,0a1.7,1.7 0 1,0 3.4,0M357.9,197.5a1.7,1.7 0 1,0 -3.4,0a1.7,1.7 0 1,0 3.4,0M360.6,197.5a1.7,1.7 0 1,0 -3.4,0a1.7,1.7 0 1,0 3.4,0M363.3,197.5a1.7,1.7 0 1,0 -3.4,0a1.7,1.7 0 1,0 3.4,0M365.9,197.5a1.7,1.7 0 1,0 -3.4,0a1.7,1.7 0 1,0 3.4,0M368.6,197.5a1.7,1.7 0 1,0 -3.4,0a1.7,1.7 0 1,0 3.4,0M371.3,197.5a1.7,1.7 0 1,0 -3.4,0a1.7,1.7 0 1,0 3.4,0M373.9,197.5a1.7,1.7 0 1,0 -3.4,0a1.7,1.7 0 1,0 3.4,0M376.6,197.5a1.7,1.7 0 1,0 -3.4,0a1.7,1.7 0 1,0 3.4,0M379.3,197.5a1.7,1.7 0 1,0 -3.4,0a1.7,1.7 0 1,0 3.4,0M381.9,197.5a1.7,1.7 0 1,0 -3.4,0a1.7,1.7 0 1,0 3.4,0M392.6,197.5a1.7,1.7 0 1,0 -3.4,0a1.7,1.7 0 1,0 3.4,0M395.3,197.5a1.7,1.7 0 1,0 -3.4,0a1.7,1.7 0 1,0 3.4,0M397.9,197.5a1.7,1.7 0 1,0 -3.4,0a1.7,1.7 0 1,0 3.4,0M411.3,197.5a1.7,1.7 0 1,0 -3.4,0a1.7,1.7 0 1,0 3.4,0M414.0,197.5a1.7,1.7 0 1,0 -3.4,0a1.7,1.7 0 1,0 3.4,0M416.6,197.5a1.7,1.7 0 1,0 -3.4,0a1.7,1.7 0 1,0 3.4,0M419.3,197.5a1.7,1.7 0 1,0 -3.4,0a1.7,1.7 0 1,0 3.4,0M422.0,197.5a1.7,1.7 0 1,0 -3.4,0a1.7,1.7 0 1,0 3.4,0M427.3,197.5a1.7,1.7 0 1,0 -3.4,0a1.7,1.7 0 1,0 3.4,0M430.0,197.5a1.7,1.7 0 1,0 -3.4,0a1.7,1.7 0 1,0 3.4,0M432.6,197.5a1.7,1.7 0 1,0 -3.4,0a1.7,1.7 0 1,0 3.4,0M435.3,197.5a1.7,1.7 0 1,0 -3.4,0a1.7,1.7 0 1,0 3.4,0M438.0,197.5a1.7,1.7 0 1,0 -3.4,0a1.7,1.7 0 1,0 3.4,0M440.6,197.5a1.7,1.7 0 1,0 -3.4,0a1.7,1.7 0 1,0 3.4,0M443.3,197.5a1.7,1.7 0 1,0 -3.4,0a1.7,1.7 0 1,0 3.4,0M446.0,197.5a1.7,1.7 0 1,0 -3.4,0a1.7,1.7 0 1,0 3.4,0M448.7,197.5a1.7,1.7 0 1,0 -3.4,0a1.7,1.7 0 1,0 3.4,0M451.3,197.5a1.7,1.7 0 1,0 -3.4,0a1.7,1.7 0 1,0 3.4,0M454.0,197.5a1.7,1.7 0 1,0 -3.4,0a1.7,1.7 0 1,0 3.4,0M456.7,197.5a1.7,1.7 0 1,0 -3.4,0a1.7,1.7 0 1,0 3.4,0M459.3,197.5a1.7,1.7 0 1,0 -3.4,0a1.7,1.7 0 1,0 3.4,0M462.0,197.5a1.7,1.7 0 1,0 -3.4,0a1.7,1.7 0 1,0 3.4,0M467.3,197.5a1.7,1.7 0 1,0 -3.4,0a1.7,1.7 0 1,0 3.4,0M470.0,197.5a1.7,1.7 0 1,0 -3.4,0a1.7,1.7 0 1,0 3.4,0M472.7,197.5a1.7,1.7 0 1,0 -3.4,0a1.7,1.7 0 1,0 3.4,0M275.2,200.7a1.7,1.7 0 1,0 -3.4,0a1.7,1.7 0 1,0 3.4,0M277.8,200.7a1.7,1.7 0 1,0 -3.4,0a1.7,1.7 0 1,0 3.4,0M283.2,200.7a1.7,1.7 0 1,0 -3.4,0a1.7,1.7 0 1,0 3.4,0M299.2,200.7a1.7,1.7 0 1,0 -3.4,0a1.7,1.7 0 1,0 3.4,0M304.5,200.7a1.7,1.7 0 1,0 -3.4,0a1.7,1.7 0 1,0 3.4,0M307.2,200.7a1.7,1.7 0 1,0 -3.4,0a1.7,1.7 0 1,0 3.4,0M309.9,200.7a1.7,1.7 0 1,0 -3.4,0a1.7,1.7 0 1,0 3.4,0M312.5,200.7a1.7,1.7 0 1,0 -3.4,0a1.7,1.7 0 1,0 3.4,0M315.2,200.7a1.7,1.7 0 1,0 -3.4,0a1.7,1.7 0 1,0 3.4,0M317.9,200.7a1.7,1.7 0 1,0 -3.4,0a1.7,1.7 0 1,0 3.4,0M320.5,200.7a1.7,1.7 0 1,0 -3.4,0a1.7,1.7 0 1,0 3.4,0M323.2,200.7a1.7,1.7 0 1,0 -3.4,0a1.7,1.7 0 1,0 3.4,0M325.9,200.7a1.7,1.7 0 1,0 -3.4,0a1.7,1.7 0 1,0 3.4,0M328.6,200.7a1.7,1.7 0 1,0 -3.4,0a1.7,1.7 0 1,0 3.4,0M331.2,200.7a1.7,1.7 0 1,0 -3.4,0a1.7,1.7 0 1,0 3.4,0M333.9,200.7a1.7,1.7 0 1,0 -3.4,0a1.7,1.7 0 1,0 3.4,0M336.6,200.7a1.7,1.7 0 1,0 -3.4,0a1.7,1.7 0 1,0 3.4,0M341.9,200.7a1.7,1.7 0 1,0 -3.4,0a1.7,1.7 0 1,0 3.4,0M344.6,200.7a1.7,1.7 0 1,0 -3.4,0a1.7,1.7 0 1,0 3.4,0M349.9,200.7a1.7,1.7 0 1,0 -3.4,0a1.7,1.7 0 1,0 3.4,0M352.6,200.7a1.7,1.7 0 1,0 -3.4,0a1.7,1.7 0 1,0 3.4,0M357.9,200.7a1.7,1.7 0 1,0 -3.4,0a1.7,1.7 0 1,0 3.4,0M360.6,200.7a1.7,1.7 0 1,0 -3.4,0a1.7,1.7 0 1,0 3.4,0M363.3,200.7a1.7,1.7 0 1,0 -3.4,0a1.7,1.7 0 1,0 3.4,0M365.9,200.7a1.7,1.7 0 1,0 -3.4,0a1.7,1.7 0 1,0 3.4,0M368.6,200.7a1.7,1.7 0 1,0 -3.4,0a1.7,1.7 0 1,0 3.4,0M371.3,200.7a1.7,1.7 0 1,0 -3.4,0a1.7,1.7 0 1,0 3.4,0M373.9,200.7a1.7,1.7 0 1,0 -3.4,0a1.7,1.7 0 1,0 3.4,0M376.6,200.7a1.7,1.7 0 1,0 -3.4,0a1.7,1.7 0 1,0 3.4,0M379.3,200.7a1.7,1.7 0 1,0 -3.4,0a1.7,1.7 0 1,0 3.4,0M381.9,200.7a1.7,1.7 0 1,0 -3.4,0a1.7,1.7 0 1,0 3.4,0M384.6,200.7a1.7,1.7 0 1,0 -3.4,0a1.7,1.7 0 1,0 3.4,0M395.3,200.7a1.7,1.7 0 1,0 -3.4,0a1.7,1.7 0 1,0 3.4,0M397.9,200.7a1.7,1.7 0 1,0 -3.4,0a1.7,1.7 0 1,0 3.4,0M408.6,200.7a1.7,1.7 0 1,0 -3.4,0a1.7,1.7 0 1,0 3.4,0M411.3,200.7a1.7,1.7 0 1,0 -3.4,0a1.7,1.7 0 1,0 3.4,0M414.0,200.7a1.7,1.7 0 1,0 -3.4,0a1.7,1.7 0 1,0 3.4,0M416.6,200.7a1.7,1.7 0 1,0 -3.4,0a1.7,1.7 0 1,0 3.4,0M419.3,200.7a1.7,1.7 0 1,0 -3.4,0a1.7,1.7 0 1,0 3.4,0M422.0,200.7a1.7,1.7 0 1,0 -3.4,0a1.7,1.7 0 1,0 3.4,0M424.6,200.7a1.7,1.7 0 1,0 -3.4,0a1.7,1.7 0 1,0 3.4,0M427.3,200.7a1.7,1.7 0 1,0 -3.4,0a1.7,1.7 0 1,0 3.4,0M430.0,200.7a1.7,1.7 0 1,0 -3.4,0a1.7,1.7 0 1,0 3.4,0M432.6,200.7a1.7,1.7 0 1,0 -3.4,0a1.7,1.7 0 1,0 3.4,0M435.3,200.7a1.7,1.7 0 1,0 -3.4,0a1.7,1.7 0 1,0 3.4,0M438.0,200.7a1.7,1.7 0 1,0 -3.4,0a1.7,1.7 0 1,0 3.4,0M440.6,200.7a1.7,1.7 0 1,0 -3.4,0a1.7,1.7 0 1,0 3.4,0M443.3,200.7a1.7,1.7 0 1,0 -3.4,0a1.7,1.7 0 1,0 3.4,0M446.0,200.7a1.7,1.7 0 1,0 -3.4,0a1.7,1.7 0 1,0 3.4,0M448.7,200.7a1.7,1.7 0 1,0 -3.4,0a1.7,1.7 0 1,0 3.4,0M451.3,200.7a1.7,1.7 0 1,0 -3.4,0a1.7,1.7 0 1,0 3.4,0M454.0,200.7a1.7,1.7 0 1,0 -3.4,0a1.7,1.7 0 1,0 3.4,0M456.7,200.7a1.7,1.7 0 1,0 -3.4,0a1.7,1.7 0 1,0 3.4,0M459.3,200.7a1.7,1.7 0 1,0 -3.4,0a1.7,1.7 0 1,0 3.4,0M462.0,200.7a1.7,1.7 0 1,0 -3.4,0a1.7,1.7 0 1,0 3.4,0M464.7,200.7a1.7,1.7 0 1,0 -3.4,0a1.7,1.7 0 1,0 3.4,0M467.3,200.7a1.7,1.7 0 1,0 -3.4,0a1.7,1.7 0 1,0 3.4,0M470.0,200.7a1.7,1.7 0 1,0 -3.4,0a1.7,1.7 0 1,0 3.4,0M472.7,200.7a1.7,1.7 0 1,0 -3.4,0a1.7,1.7 0 1,0 3.4,0M480.7,200.7a1.7,1.7 0 1,0 -3.4,0a1.7,1.7 0 1,0 3.4,0M496.7,200.7a1.7,1.7 0 1,0 -3.4,0a1.7,1.7 0 1,0 3.4,0M197.8,204.0a1.7,1.7 0 1,0 -3.4,0a1.7,1.7 0 1,0 3.4,0M285.9,204.0a1.7,1.7 0 1,0 -3.4,0a1.7,1.7 0 1,0 3.4,0M293.9,204.0a1.7,1.7 0 1,0 -3.4,0a1.7,1.7 0 1,0 3.4,0M307.2,204.0a1.7,1.7 0 1,0 -3.4,0a1.7,1.7 0 1,0 3.4,0M309.9,204.0a1.7,1.7 0 1,0 -3.4,0a1.7,1.7 0 1,0 3.4,0M312.5,204.0a1.7,1.7 0 1,0 -3.4,0a1.7,1.7 0 1,0 3.4,0M315.2,204.0a1.7,1.7 0 1,0 -3.4,0a1.7,1.7 0 1,0 3.4,0M317.9,204.0a1.7,1.7 0 1,0 -3.4,0a1.7,1.7 0 1,0 3.4,0M320.5,204.0a1.7,1.7 0 1,0 -3.4,0a1.7,1.7 0 1,0 3.4,0M323.2,204.0a1.7,1.7 0 1,0 -3.4,0a1.7,1.7 0 1,0 3.4,0M325.9,204.0a1.7,1.7 0 1,0 -3.4,0a1.7,1.7 0 1,0 3.4,0M331.2,204.0a1.7,1.7 0 1,0 -3.4,0a1.7,1.7 0 1,0 3.4,0M339.2,204.0a1.7,1.7 0 1,0 -3.4,0a1.7,1.7 0 1,0 3.4,0M341.9,204.0a1.7,1.7 0 1,0 -3.4,0a1.7,1.7 0 1,0 3.4,0M344.6,204.0a1.7,1.7 0 1,0 -3.4,0a1.7,1.7 0 1,0 3.4,0M349.9,204.0a1.7,1.7 0 1,0 -3.4,0a1.7,1.7 0 1,0 3.4,0M352.6,204.0a1.7,1.7 0 1,0 -3.4,0a1.7,1.7 0 1,0 3.4,0M355.2,204.0a1.7,1.7 0 1,0 -3.4,0a1.7,1.7 0 1,0 3.4,0M363.3,204.0a1.7,1.7 0 1,0 -3.4,0a1.7,1.7 0 1,0 3.4,0M365.9,204.0a1.7,1.7 0 1,0 -3.4,0a1.7,1.7 0 1,0 3.4,0M368.6,204.0a1.7,1.7 0 1,0 -3.4,0a1.7,1.7 0 1,0 3.4,0M371.3,204.0a1.7,1.7 0 1,0 -3.4,0a1.7,1.7 0 1,0 3.4,0M373.9,204.0a1.7,1.7 0 1,0 -3.4,0a1.7,1.7 0 1,0 3.4,0M376.6,204.0a1.7,1.7 0 1,0 -3.4,0a1.7,1.7 0 1,0 3.4,0M379.3,204.0a1.7,1.7 0 1,0 -3.4,0a1.7,1.7 0 1,0 3.4,0M381.9,204.0a1.7,1.7 0 1,0 -3.4,0a1.7,1.7 0 1,0 3.4,0M384.6,204.0a1.7,1.7 0 1,0 -3.4,0a1.7,1.7 0 1,0 3.4,0M387.3,204.0a1.7,1.7 0 1,0 -3.4,0a1.7,1.7 0 1,0 3.4,0M389.9,204.0a1.7,1.7 0 1,0 -3.4,0a1.7,1.7 0 1,0 3.4,0M392.6,204.0a1.7,1.7 0 1,0 -3.4,0a1.7,1.7 0 1,0 3.4,0M395.3,204.0a1.7,1.7 0 1,0 -3.4,0a1.7,1.7 0 1,0 3.4,0M397.9,204.0a1.7,1.7 0 1,0 -3.4,0a1.7,1.7 0 1,0 3.4,0M403.3,204.0a1.7,1.7 0 1,0 -3.4,0a1.7,1.7 0 1,0 3.4,0M406.0,204.0a1.7,1.7 0 1,0 -3.4,0a1.7,1.7 0 1,0 3.4,0M408.6,204.0a1.7,1.7 0 1,0 -3.4,0a1.7,1.7 0 1,0 3.4,0M414.0,204.0a1.7,1.7 0 1,0 -3.4,0a1.7,1.7 0 1,0 3.4,0M416.6,204.0a1.7,1.7 0 1,0 -3.4,0a1.7,1.7 0 1,0 3.4,0M419.3,204.0a1.7,1.7 0 1,0 -3.4,0a1.7,1.7 0 1,0 3.4,0M422.0,204.0a1.7,1.7 0 1,0 -3.4,0a1.7,1.7 0 1,0 3.4,0M424.6,204.0a1.7,1.7 0 1,0 -3.4,0a1.7,1.7 0 1,0 3.4,0M427.3,204.0a1.7,1.7 0 1,0 -3.4,0a1.7,1.7 0 1,0 3.4,0M430.0,204.0a1.7,1.7 0 1,0 -3.4,0a1.7,1.7 0 1,0 3.4,0M432.6,204.0a1.7,1.7 0 1,0 -3.4,0a1.7,1.7 0 1,0 3.4,0M435.3,204.0a1.7,1.7 0 1,0 -3.4,0a1.7,1.7 0 1,0 3.4,0M438.0,204.0a1.7,1.7 0 1,0 -3.4,0a1.7,1.7 0 1,0 3.4,0M440.6,204.0a1.7,1.7 0 1,0 -3.4,0a1.7,1.7 0 1,0 3.4,0M443.3,204.0a1.7,1.7 0 1,0 -3.4,0a1.7,1.7 0 1,0 3.4,0M446.0,204.0a1.7,1.7 0 1,0 -3.4,0a1.7,1.7 0 1,0 3.4,0M448.7,204.0a1.7,1.7 0 1,0 -3.4,0a1.7,1.7 0 1,0 3.4,0M451.3,204.0a1.7,1.7 0 1,0 -3.4,0a1.7,1.7 0 1,0 3.4,0M454.0,204.0a1.7,1.7 0 1,0 -3.4,0a1.7,1.7 0 1,0 3.4,0M456.7,204.0a1.7,1.7 0 1,0 -3.4,0a1.7,1.7 0 1,0 3.4,0M459.3,204.0a1.7,1.7 0 1,0 -3.4,0a1.7,1.7 0 1,0 3.4,0M462.0,204.0a1.7,1.7 0 1,0 -3.4,0a1.7,1.7 0 1,0 3.4,0M464.7,204.0a1.7,1.7 0 1,0 -3.4,0a1.7,1.7 0 1,0 3.4,0M467.3,204.0a1.7,1.7 0 1,0 -3.4,0a1.7,1.7 0 1,0 3.4,0M470.0,204.0a1.7,1.7 0 1,0 -3.4,0a1.7,1.7 0 1,0 3.4,0M475.3,204.0a1.7,1.7 0 1,0 -3.4,0a1.7,1.7 0 1,0 3.4,0M486.0,204.0a1.7,1.7 0 1,0 -3.4,0a1.7,1.7 0 1,0 3.4,0M488.7,204.0a1.7,1.7 0 1,0 -3.4,0a1.7,1.7 0 1,0 3.4,0M491.4,204.0a1.7,1.7 0 1,0 -3.4,0a1.7,1.7 0 1,0 3.4,0M499.4,204.0a1.7,1.7 0 1,0 -3.4,0a1.7,1.7 0 1,0 3.4,0M502.0,204.0a1.7,1.7 0 1,0 -3.4,0a1.7,1.7 0 1,0 3.4,0M523.4,204.0a1.7,1.7 0 1,0 -3.4,0a1.7,1.7 0 1,0 3.4,0M200.4,207.2a1.7,1.7 0 1,0 -3.4,0a1.7,1.7 0 1,0 3.4,0M219.1,207.2a1.7,1.7 0 1,0 -3.4,0a1.7,1.7 0 1,0 3.4,0M304.5,207.2a1.7,1.7 0 1,0 -3.4,0a1.7,1.7 0 1,0 3.4,0M307.2,207.2a1.7,1.7 0 1,0 -3.4,0a1.7,1.7 0 1,0 3.4,0M312.5,207.2a1.7,1.7 0 1,0 -3.4,0a1.7,1.7 0 1,0 3.4,0M323.2,207.2a1.7,1.7 0 1,0 -3.4,0a1.7,1.7 0 1,0 3.4,0M339.2,207.2a1.7,1.7 0 1,0 -3.4,0a1.7,1.7 0 1,0 3.4,0M341.9,207.2a1.7,1.7 0 1,0 -3.4,0a1.7,1.7 0 1,0 3.4,0M347.2,207.2a1.7,1.7 0 1,0 -3.4,0a1.7,1.7 0 1,0 3.4,0M355.2,207.2a1.7,1.7 0 1,0 -3.4,0a1.7,1.7 0 1,0 3.4,0M360.6,207.2a1.7,1.7 0 1,0 -3.4,0a1.7,1.7 0 1,0 3.4,0M363.3,207.2a1.7,1.7 0 1,0 -3.4,0a1.7,1.7 0 1,0 3.4,0M371.3,207.2a1.7,1.7 0 1,0 -3.4,0a1.7,1.7 0 1,0 3.4,0M373.9,207.2a1.7,1.7 0 1,0 -3.4,0a1.7,1.7 0 1,0 3.4,0M376.6,207.2a1.7,1.7 0 1,0 -3.4,0a1.7,1.7 0 1,0 3.4,0M379.3,207.2a1.7,1.7 0 1,0 -3.4,0a1.7,1.7 0 1,0 3.4,0M381.9,207.2a1.7,1.7 0 1,0 -3.4,0a1.7,1.7 0 1,0 3.4,0M384.6,207.2a1.7,1.7 0 1,0 -3.4,0a1.7,1.7 0 1,0 3.4,0M389.9,207.2a1.7,1.7 0 1,0 -3.4,0a1.7,1.7 0 1,0 3.4,0M392.6,207.2a1.7,1.7 0 1,0 -3.4,0a1.7,1.7 0 1,0 3.4,0M395.3,207.2a1.7,1.7 0 1,0 -3.4,0a1.7,1.7 0 1,0 3.4,0M397.9,207.2a1.7,1.7 0 1,0 -3.4,0a1.7,1.7 0 1,0 3.4,0M406.0,207.2a1.7,1.7 0 1,0 -3.4,0a1.7,1.7 0 1,0 3.4,0M408.6,207.2a1.7,1.7 0 1,0 -3.4,0a1.7,1.7 0 1,0 3.4,0M416.6,207.2a1.7,1.7 0 1,0 -3.4,0a1.7,1.7 0 1,0 3.4,0M419.3,207.2a1.7,1.7 0 1,0 -3.4,0a1.7,1.7 0 1,0 3.4,0M422.0,207.2a1.7,1.7 0 1,0 -3.4,0a1.7,1.7 0 1,0 3.4,0M424.6,207.2a1.7,1.7 0 1,0 -3.4,0a1.7,1.7 0 1,0 3.4,0M427.3,207.2a1.7,1.7 0 1,0 -3.4,0a1.7,1.7 0 1,0 3.4,0M430.0,207.2a1.7,1.7 0 1,0 -3.4,0a1.7,1.7 0 1,0 3.4,0M432.6,207.2a1.7,1.7 0 1,0 -3.4,0a1.7,1.7 0 1,0 3.4,0M435.3,207.2a1.7,1.7 0 1,0 -3.4,0a1.7,1.7 0 1,0 3.4,0M438.0,207.2a1.7,1.7 0 1,0 -3.4,0a1.7,1.7 0 1,0 3.4,0M440.6,207.2a1.7,1.7 0 1,0 -3.4,0a1.7,1.7 0 1,0 3.4,0M443.3,207.2a1.7,1.7 0 1,0 -3.4,0a1.7,1.7 0 1,0 3.4,0M446.0,207.2a1.7,1.7 0 1,0 -3.4,0a1.7,1.7 0 1,0 3.4,0M448.7,207.2a1.7,1.7 0 1,0 -3.4,0a1.7,1.7 0 1,0 3.4,0M451.3,207.2a1.7,1.7 0 1,0 -3.4,0a1.7,1.7 0 1,0 3.4,0M454.0,207.2a1.7,1.7 0 1,0 -3.4,0a1.7,1.7 0 1,0 3.4,0M456.7,207.2a1.7,1.7 0 1,0 -3.4,0a1.7,1.7 0 1,0 3.4,0M459.3,207.2a1.7,1.7 0 1,0 -3.4,0a1.7,1.7 0 1,0 3.4,0M462.0,207.2a1.7,1.7 0 1,0 -3.4,0a1.7,1.7 0 1,0 3.4,0M464.7,207.2a1.7,1.7 0 1,0 -3.4,0a1.7,1.7 0 1,0 3.4,0M467.3,207.2a1.7,1.7 0 1,0 -3.4,0a1.7,1.7 0 1,0 3.4,0M470.0,207.2a1.7,1.7 0 1,0 -3.4,0a1.7,1.7 0 1,0 3.4,0M472.7,207.2a1.7,1.7 0 1,0 -3.4,0a1.7,1.7 0 1,0 3.4,0M475.3,207.2a1.7,1.7 0 1,0 -3.4,0a1.7,1.7 0 1,0 3.4,0M480.7,207.2a1.7,1.7 0 1,0 -3.4,0a1.7,1.7 0 1,0 3.4,0M483.4,207.2a1.7,1.7 0 1,0 -3.4,0a1.7,1.7 0 1,0 3.4,0M486.0,207.2a1.7,1.7 0 1,0 -3.4,0a1.7,1.7 0 1,0 3.4,0M488.7,207.2a1.7,1.7 0 1,0 -3.4,0a1.7,1.7 0 1,0 3.4,0M491.4,207.2a1.7,1.7 0 1,0 -3.4,0a1.7,1.7 0 1,0 3.4,0M504.7,207.2a1.7,1.7 0 1,0 -3.4,0a1.7,1.7 0 1,0 3.4,0M568.8,207.2a1.7,1.7 0 1,0 -3.4,0a1.7,1.7 0 1,0 3.4,0M221.8,210.4a1.7,1.7 0 1,0 -3.4,0a1.7,1.7 0 1,0 3.4,0M307.2,210.4a1.7,1.7 0 1,0 -3.4,0a1.7,1.7 0 1,0 3.4,0M312.5,210.4a1.7,1.7 0 1,0 -3.4,0a1.7,1.7 0 1,0 3.4,0M315.2,210.4a1.7,1.7 0 1,0 -3.4,0a1.7,1.7 0 1,0 3.4,0M328.6,210.4a1.7,1.7 0 1,0 -3.4,0a1.7,1.7 0 1,0 3.4,0M336.6,210.4a1.7,1.7 0 1,0 -3.4,0a1.7,1.7 0 1,0 3.4,0M339.2,210.4a1.7,1.7 0 1,0 -3.4,0a1.7,1.7 0 1,0 3.4,0M349.9,210.4a1.7,1.7 0 1,0 -3.4,0a1.7,1.7 0 1,0 3.4,0M352.6,210.4a1.7,1.7 0 1,0 -3.4,0a1.7,1.7 0 1,0 3.4,0M355.2,210.4a1.7,1.7 0 1,0 -3.4,0a1.7,1.7 0 1,0 3.4,0M357.9,210.4a1.7,1.7 0 1,0 -3.4,0a1.7,1.7 0 1,0 3.4,0M363.3,210.4a1.7,1.7 0 1,0 -3.4,0a1.7,1.7 0 1,0 3.4,0M371.3,210.4a1.7,1.7 0 1,0 -3.4,0a1.7,1.7 0 1,0 3.4,0M373.9,210.4a1.7,1.7 0 1,0 -3.4,0a1.7,1.7 0 1,0 3.4,0M376.6,210.4a1.7,1.7 0 1,0 -3.4,0a1.7,1.7 0 1,0 3.4,0M379.3,210.4a1.7,1.7 0 1,0 -3.4,0a1.7,1.7 0 1,0 3.4,0M381.9,210.4a1.7,1.7 0 1,0 -3.4,0a1.7,1.7 0 1,0 3.4,0M384.6,210.4a1.7,1.7 0 1,0 -3.4,0a1.7,1.7 0 1,0 3.4,0M387.3,210.4a1.7,1.7 0 1,0 -3.4,0a1.7,1.7 0 1,0 3.4,0M389.9,210.4a1.7,1.7 0 1,0 -3.4,0a1.7,1.7 0 1,0 3.4,0M395.3,210.4a1.7,1.7 0 1,0 -3.4,0a1.7,1.7 0 1,0 3.4,0M397.9,210.4a1.7,1.7 0 1,0 -3.4,0a1.7,1.7 0 1,0 3.4,0M400.6,210.4a1.7,1.7 0 1,0 -3.4,0a1.7,1.7 0 1,0 3.4,0M403.3,210.4a1.7,1.7 0 1,0 -3.4,0a1.7,1.7 0 1,0 3.4,0M406.0,210.4a1.7,1.7 0 1,0 -3.4,0a1.7,1.7 0 1,0 3.4,0M408.6,210.4a1.7,1.7 0 1,0 -3.4,0a1.7,1.7 0 1,0 3.4,0M411.3,210.4a1.7,1.7 0 1,0 -3.4,0a1.7,1.7 0 1,0 3.4,0M416.6,210.4a1.7,1.7 0 1,0 -3.4,0a1.7,1.7 0 1,0 3.4,0M419.3,210.4a1.7,1.7 0 1,0 -3.4,0a1.7,1.7 0 1,0 3.4,0M422.0,210.4a1.7,1.7 0 1,0 -3.4,0a1.7,1.7 0 1,0 3.4,0M424.6,210.4a1.7,1.7 0 1,0 -3.4,0a1.7,1.7 0 1,0 3.4,0M427.3,210.4a1.7,1.7 0 1,0 -3.4,0a1.7,1.7 0 1,0 3.4,0M430.0,210.4a1.7,1.7 0 1,0 -3.4,0a1.7,1.7 0 1,0 3.4,0M432.6,210.4a1.7,1.7 0 1,0 -3.4,0a1.7,1.7 0 1,0 3.4,0M435.3,210.4a1.7,1.7 0 1,0 -3.4,0a1.7,1.7 0 1,0 3.4,0M438.0,210.4a1.7,1.7 0 1,0 -3.4,0a1.7,1.7 0 1,0 3.4,0M440.6,210.4a1.7,1.7 0 1,0 -3.4,0a1.7,1.7 0 1,0 3.4,0M443.3,210.4a1.7,1.7 0 1,0 -3.4,0a1.7,1.7 0 1,0 3.4,0M446.0,210.4a1.7,1.7 0 1,0 -3.4,0a1.7,1.7 0 1,0 3.4,0M448.7,210.4a1.7,1.7 0 1,0 -3.4,0a1.7,1.7 0 1,0 3.4,0M451.3,210.4a1.7,1.7 0 1,0 -3.4,0a1.7,1.7 0 1,0 3.4,0M454.0,210.4a1.7,1.7 0 1,0 -3.4,0a1.7,1.7 0 1,0 3.4,0M456.7,210.4a1.7,1.7 0 1,0 -3.4,0a1.7,1.7 0 1,0 3.4,0M459.3,210.4a1.7,1.7 0 1,0 -3.4,0a1.7,1.7 0 1,0 3.4,0M462.0,210.4a1.7,1.7 0 1,0 -3.4,0a1.7,1.7 0 1,0 3.4,0M464.7,210.4a1.7,1.7 0 1,0 -3.4,0a1.7,1.7 0 1,0 3.4,0M467.3,210.4a1.7,1.7 0 1,0 -3.4,0a1.7,1.7 0 1,0 3.4,0M470.0,210.4a1.7,1.7 0 1,0 -3.4,0a1.7,1.7 0 1,0 3.4,0M472.7,210.4a1.7,1.7 0 1,0 -3.4,0a1.7,1.7 0 1,0 3.4,0M475.3,210.4a1.7,1.7 0 1,0 -3.4,0a1.7,1.7 0 1,0 3.4,0M478.0,210.4a1.7,1.7 0 1,0 -3.4,0a1.7,1.7 0 1,0 3.4,0M486.0,210.4a1.7,1.7 0 1,0 -3.4,0a1.7,1.7 0 1,0 3.4,0M488.7,210.4a1.7,1.7 0 1,0 -3.4,0a1.7,1.7 0 1,0 3.4,0M491.4,210.4a1.7,1.7 0 1,0 -3.4,0a1.7,1.7 0 1,0 3.4,0M502.0,210.4a1.7,1.7 0 1,0 -3.4,0a1.7,1.7 0 1,0 3.4,0M259.2,213.7a1.7,1.7 0 1,0 -3.4,0a1.7,1.7 0 1,0 3.4,0M296.5,213.7a1.7,1.7 0 1,0 -3.4,0a1.7,1.7 0 1,0 3.4,0M304.5,213.7a1.7,1.7 0 1,0 -3.4,0a1.7,1.7 0 1,0 3.4,0M317.9,213.7a1.7,1.7 0 1,0 -3.4,0a1.7,1.7 0 1,0 3.4,0M323.2,213.7a1.7,1.7 0 1,0 -3.4,0a1.7,1.7 0 1,0 3.4,0M325.9,213.7a1.7,1.7 0 1,0 -3.4,0a1.7,1.7 0 1,0 3.4,0M331.2,213.7a1.7,1.7 0 1,0 -3.4,0a1.7,1.7 0 1,0 3.4,0M339.2,213.7a1.7,1.7 0 1,0 -3.4,0a1.7,1.7 0 1,0 3.4,0M341.9,213.7a1.7,1.7 0 1,0 -3.4,0a1.7,1.7 0 1,0 3.4,0M349.9,213.7a1.7,1.7 0 1,0 -3.4,0a1.7,1.7 0 1,0 3.4,0M352.6,213.7a1.7,1.7 0 1,0 -3.4,0a1.7,1.7 0 1,0 3.4,0M360.6,213.7a1.7,1.7 0 1,0 -3.4,0a1.7,1.7 0 1,0 3.4,0M363.3,213.7a1.7,1.7 0 1,0 -3.4,0a1.7,1.7 0 1,0 3.4,0M371.3,213.7a1.7,1.7 0 1,0 -3.4,0a1.7,1.7 0 1,0 3.4,0M373.9,213.7a1.7,1.7 0 1,0 -3.4,0a1.7,1.7 0 1,0 3.4,0M376.6,213.7a1.7,1.7 0 1,0 -3.4,0a1.7,1.7 0 1,0 3.4,0M379.3,213.7a1.7,1.7 0 1,0 -3.4,0a1.7,1.7 0 1,0 3.4,0M381.9,213.7a1.7,1.7 0 1,0 -3.4,0a1.7,1.7 0 1,0 3.4,0M392.6,213.7a1.7,1.7 0 1,0 -3.4,0a1.7,1.7 0 1,0 3.4,0M395.3,213.7a1.7,1.7 0 1,0 -3.4,0a1.7,1.7 0 1,0 3.4,0M397.9,213.7a1.7,1.7 0 1,0 -3.4,0a1.7,1.7 0 1,0 3.4,0M400.6,213.7a1.7,1.7 0 1,0 -3.4,0a1.7,1.7 0 1,0 3.4,0M403.3,213.7a1.7,1.7 0 1,0 -3.4,0a1.7,1.7 0 1,0 3.4,0M408.6,213.7a1.7,1.7 0 1,0 -3.4,0a1.7,1.7 0 1,0 3.4,0M414.0,213.7a1.7,1.7 0 1,0 -3.4,0a1.7,1.7 0 1,0 3.4,0M416.6,213.7a1.7,1.7 0 1,0 -3.4,0a1.7,1.7 0 1,0 3.4,0M419.3,213.7a1.7,1.7 0 1,0 -3.4,0a1.7,1.7 0 1,0 3.4,0M422.0,213.7a1.7,1.7 0 1,0 -3.4,0a1.7,1.7 0 1,0 3.4,0M424.6,213.7a1.7,1.7 0 1,0 -3.4,0a1.7,1.7 0 1,0 3.4,0M427.3,213.7a1.7,1.7 0 1,0 -3.4,0a1.7,1.7 0 1,0 3.4,0M430.0,213.7a1.7,1.7 0 1,0 -3.4,0a1.7,1.7 0 1,0 3.4,0M432.6,213.7a1.7,1.7 0 1,0 -3.4,0a1.7,1.7 0 1,0 3.4,0M435.3,213.7a1.7,1.7 0 1,0 -3.4,0a1.7,1.7 0 1,0 3.4,0M438.0,213.7a1.7,1.7 0 1,0 -3.4,0a1.7,1.7 0 1,0 3.4,0M440.6,213.7a1.7,1.7 0 1,0 -3.4,0a1.7,1.7 0 1,0 3.4,0M443.3,213.7a1.7,1.7 0 1,0 -3.4,0a1.7,1.7 0 1,0 3.4,0M446.0,213.7a1.7,1.7 0 1,0 -3.4,0a1.7,1.7 0 1,0 3.4,0M448.7,213.7a1.7,1.7 0 1,0 -3.4,0a1.7,1.7 0 1,0 3.4,0M451.3,213.7a1.7,1.7 0 1,0 -3.4,0a1.7,1.7 0 1,0 3.4,0M454.0,213.7a1.7,1.7 0 1,0 -3.4,0a1.7,1.7 0 1,0 3.4,0M456.7,213.7a1.7,1.7 0 1,0 -3.4,0a1.7,1.7 0 1,0 3.4,0M459.3,213.7a1.7,1.7 0 1,0 -3.4,0a1.7,1.7 0 1,0 3.4,0M462.0,213.7a1.7,1.7 0 1,0 -3.4,0a1.7,1.7 0 1,0 3.4,0M464.7,213.7a1.7,1.7 0 1,0 -3.4,0a1.7,1.7 0 1,0 3.4,0M467.3,213.7a1.7,1.7 0 1,0 -3.4,0a1.7,1.7 0 1,0 3.4,0M470.0,213.7a1.7,1.7 0 1,0 -3.4,0a1.7,1.7 0 1,0 3.4,0M472.7,213.7a1.7,1.7 0 1,0 -3.4,0a1.7,1.7 0 1,0 3.4,0M478.0,213.7a1.7,1.7 0 1,0 -3.4,0a1.7,1.7 0 1,0 3.4,0M483.4,213.7a1.7,1.7 0 1,0 -3.4,0a1.7,1.7 0 1,0 3.4,0M486.0,213.7a1.7,1.7 0 1,0 -3.4,0a1.7,1.7 0 1,0 3.4,0M488.7,213.7a1.7,1.7 0 1,0 -3.4,0a1.7,1.7 0 1,0 3.4,0M504.7,213.7a1.7,1.7 0 1,0 -3.4,0a1.7,1.7 0 1,0 3.4,0M523.4,213.7a1.7,1.7 0 1,0 -3.4,0a1.7,1.7 0 1,0 3.4,0M574.1,213.7a1.7,1.7 0 1,0 -3.4,0a1.7,1.7 0 1,0 3.4,0M261.8,216.9a1.7,1.7 0 1,0 -3.4,0a1.7,1.7 0 1,0 3.4,0M264.5,216.9a1.7,1.7 0 1,0 -3.4,0a1.7,1.7 0 1,0 3.4,0M272.5,216.9a1.7,1.7 0 1,0 -3.4,0a1.7,1.7 0 1,0 3.4,0M291.2,216.9a1.7,1.7 0 1,0 -3.4,0a1.7,1.7 0 1,0 3.4,0M307.2,216.9a1.7,1.7 0 1,0 -3.4,0a1.7,1.7 0 1,0 3.4,0M328.6,216.9a1.7,1.7 0 1,0 -3.4,0a1.7,1.7 0 1,0 3.4,0M331.2,216.9a1.7,1.7 0 1,0 -3.4,0a1.7,1.7 0 1,0 3.4,0M333.9,216.9a1.7,1.7 0 1,0 -3.4,0a1.7,1.7 0 1,0 3.4,0M336.6,216.9a1.7,1.7 0 1,0 -3.4,0a1.7,1.7 0 1,0 3.4,0M339.2,216.9a1.7,1.7 0 1,0 -3.4,0a1.7,1.7 0 1,0 3.4,0M341.9,216.9a1.7,1.7 0 1,0 -3.4,0a1.7,1.7 0 1,0 3.4,0M344.6,216.9a1.7,1.7 0 1,0 -3.4,0a1.7,1.7 0 1,0 3.4,0M347.2,216.9a1.7,1.7 0 1,0 -3.4,0a1.7,1.7 0 1,0 3.4,0M352.6,216.9a1.7,1.7 0 1,0 -3.4,0a1.7,1.7 0 1,0 3.4,0M355.2,216.9a1.7,1.7 0 1,0 -3.4,0a1.7,1.7 0 1,0 3.4,0M357.9,216.9a1.7,1.7 0 1,0 -3.4,0a1.7,1.7 0 1,0 3.4,0M368.6,216.9a1.7,1.7 0 1,0 -3.4,0a1.7,1.7 0 1,0 3.4,0M371.3,216.9a1.7,1.7 0 1,0 -3.4,0a1.7,1.7 0 1,0 3.4,0M373.9,216.9a1.7,1.7 0 1,0 -3.4,0a1.7,1.7 0 1,0 3.4,0M376.6,216.9a1.7,1.7 0 1,0 -3.4,0a1.7,1.7 0 1,0 3.4,0M379.3,216.9a1.7,1.7 0 1,0 -3.4,0a1.7,1.7 0 1,0 3.4,0M384.6,216.9a1.7,1.7 0 1,0 -3.4,0a1.7,1.7 0 1,0 3.4,0M387.3,216.9a1.7,1.7 0 1,0 -3.4,0a1.7,1.7 0 1,0 3.4,0M389.9,216.9a1.7,1.7 0 1,0 -3.4,0a1.7,1.7 0 1,0 3.4,0M392.6,216.9a1.7,1.7 0 1,0 -3.4,0a1.7,1.7 0 1,0 3.4,0M395.3,216.9a1.7,1.7 0 1,0 -3.4,0a1.7,1.7 0 1,0 3.4,0M397.9,216.9a1.7,1.7 0 1,0 -3.4,0a1.7,1.7 0 1,0 3.4,0M400.6,216.9a1.7,1.7 0 1,0 -3.4,0a1.7,1.7 0 1,0 3.4,0M411.3,216.9a1.7,1.7 0 1,0 -3.4,0a1.7,1.7 0 1,0 3.4,0M414.0,216.9a1.7,1.7 0 1,0 -3.4,0a1.7,1.7 0 1,0 3.4,0M416.6,216.9a1.7,1.7 0 1,0 -3.4,0a1.7,1.7 0 1,0 3.4,0M419.3,216.9a1.7,1.7 0 1,0 -3.4,0a1.7,1.7 0 1,0 3.4,0M422.0,216.9a1.7,1.7 0 1,0 -3.4,0a1.7,1.7 0 1,0 3.4,0M424.6,216.9a1.7,1.7 0 1,0 -3.4,0a1.7,1.7 0 1,0 3.4,0M427.3,216.9a1.7,1.7 0 1,0 -3.4,0a1.7,1.7 0 1,0 3.4,0M430.0,216.9a1.7,1.7 0 1,0 -3.4,0a1.7,1.7 0 1,0 3.4,0M432.6,216.9a1.7,1.7 0 1,0 -3.4,0a1.7,1.7 0 1,0 3.4,0M435.3,216.9a1.7,1.7 0 1,0 -3.4,0a1.7,1.7 0 1,0 3.4,0M438.0,216.9a1.7,1.7 0 1,0 -3.4,0a1.7,1.7 0 1,0 3.4,0M440.6,216.9a1.7,1.7 0 1,0 -3.4,0a1.7,1.7 0 1,0 3.4,0M443.3,216.9a1.7,1.7 0 1,0 -3.4,0a1.7,1.7 0 1,0 3.4,0M446.0,216.9a1.7,1.7 0 1,0 -3.4,0a1.7,1.7 0 1,0 3.4,0M448.7,216.9a1.7,1.7 0 1,0 -3.4,0a1.7,1.7 0 1,0 3.4,0M451.3,216.9a1.7,1.7 0 1,0 -3.4,0a1.7,1.7 0 1,0 3.4,0M454.0,216.9a1.7,1.7 0 1,0 -3.4,0a1.7,1.7 0 1,0 3.4,0M456.7,216.9a1.7,1.7 0 1,0 -3.4,0a1.7,1.7 0 1,0 3.4,0M459.3,216.9a1.7,1.7 0 1,0 -3.4,0a1.7,1.7 0 1,0 3.4,0M462.0,216.9a1.7,1.7 0 1,0 -3.4,0a1.7,1.7 0 1,0 3.4,0M464.7,216.9a1.7,1.7 0 1,0 -3.4,0a1.7,1.7 0 1,0 3.4,0M467.3,216.9a1.7,1.7 0 1,0 -3.4,0a1.7,1.7 0 1,0 3.4,0M470.0,216.9a1.7,1.7 0 1,0 -3.4,0a1.7,1.7 0 1,0 3.4,0M472.7,216.9a1.7,1.7 0 1,0 -3.4,0a1.7,1.7 0 1,0 3.4,0M475.3,216.9a1.7,1.7 0 1,0 -3.4,0a1.7,1.7 0 1,0 3.4,0M480.7,216.9a1.7,1.7 0 1,0 -3.4,0a1.7,1.7 0 1,0 3.4,0M483.4,216.9a1.7,1.7 0 1,0 -3.4,0a1.7,1.7 0 1,0 3.4,0M488.7,216.9a1.7,1.7 0 1,0 -3.4,0a1.7,1.7 0 1,0 3.4,0M491.4,216.9a1.7,1.7 0 1,0 -3.4,0a1.7,1.7 0 1,0 3.4,0M494.0,216.9a1.7,1.7 0 1,0 -3.4,0a1.7,1.7 0 1,0 3.4,0M552.7,216.9a1.7,1.7 0 1,0 -3.4,0a1.7,1.7 0 1,0 3.4,0M256.5,220.2a1.7,1.7 0 1,0 -3.4,0a1.7,1.7 0 1,0 3.4,0M317.9,220.2a1.7,1.7 0 1,0 -3.4,0a1.7,1.7 0 1,0 3.4,0M320.5,220.2a1.7,1.7 0 1,0 -3.4,0a1.7,1.7 0 1,0 3.4,0M323.2,220.2a1.7,1.7 0 1,0 -3.4,0a1.7,1.7 0 1,0 3.4,0M328.6,220.2a1.7,1.7 0 1,0 -3.4,0a1.7,1.7 0 1,0 3.4,0M331.2,220.2a1.7,1.7 0 1,0 -3.4,0a1.7,1.7 0 1,0 3.4,0M341.9,220.2a1.7,1.7 0 1,0 -3.4,0a1.7,1.7 0 1,0 3.4,0M347.2,220.2a1.7,1.7 0 1,0 -3.4,0a1.7,1.7 0 1,0 3.4,0M352.6,220.2a1.7,1.7 0 1,0 -3.4,0a1.7,1.7 0 1,0 3.4,0M355.2,220.2a1.7,1.7 0 1,0 -3.4,0a1.7,1.7 0 1,0 3.4,0M357.9,220.2a1.7,1.7 0 1,0 -3.4,0a1.7,1.7 0 1,0 3.4,0M365.9,220.2a1.7,1.7 0 1,0 -3.4,0a1.7,1.7 0 1,0 3.4,0M368.6,220.2a1.7,1.7 0 1,0 -3.4,0a1.7,1.7 0 1,0 3.4,0M373.9,220.2a1.7,1.7 0 1,0 -3.4,0a1.7,1.7 0 1,0 3.4,0M379.3,220.2a1.7,1.7 0 1,0 -3.4,0a1.7,1.7 0 1,0 3.4,0M387.3,220.2a1.7,1.7 0 1,0 -3.4,0a1.7,1.7 0 1,0 3.4,0M397.9,220.2a1.7,1.7 0 1,0 -3.4,0a1.7,1.7 0 1,0 3.4,0M400.6,220.2a1.7,1.7 0 1,0 -3.4,0a1.7,1.7 0 1,0 3.4,0M411.3,220.2a1.7,1.7 0 1,0 -3.4,0a1.7,1.7 0 1,0 3.4,0M414.0,220.2a1.7,1.7 0 1,0 -3.4,0a1.7,1.7 0 1,0 3.4,0M416.6,220.2a1.7,1.7 0 1,0 -3.4,0a1.7,1.7 0 1,0 3.4,0M419.3,220.2a1.7,1.7 0 1,0 -3.4,0a1.7,1.7 0 1,0 3.4,0M422.0,220.2a1.7,1.7 0 1,0 -3.4,0a1.7,1.7 0 1,0 3.4,0M424.6,220.2a1.7,1.7 0 1,0 -3.4,0a1.7,1.7 0 1,0 3.4,0M427.3,220.2a1.7,1.7 0 1,0 -3.4,0a1.7,1.7 0 1,0 3.4,0M430.0,220.2a1.7,1.7 0 1,0 -3.4,0a1.7,1.7 0 1,0 3.4,0M432.6,220.2a1.7,1.7 0 1,0 -3.4,0a1.7,1.7 0 1,0 3.4,0M435.3,220.2a1.7,1.7 0 1,0 -3.4,0a1.7,1.7 0 1,0 3.4,0M438.0,220.2a1.7,1.7 0 1,0 -3.4,0a1.7,1.7 0 1,0 3.4,0M440.6,220.2a1.7,1.7 0 1,0 -3.4,0a1.7,1.7 0 1,0 3.4,0M443.3,220.2a1.7,1.7 0 1,0 -3.4,0a1.7,1.7 0 1,0 3.4,0M446.0,220.2a1.7,1.7 0 1,0 -3.4,0a1.7,1.7 0 1,0 3.4,0M448.7,220.2a1.7,1.7 0 1,0 -3.4,0a1.7,1.7 0 1,0 3.4,0M451.3,220.2a1.7,1.7 0 1,0 -3.4,0a1.7,1.7 0 1,0 3.4,0M454.0,220.2a1.7,1.7 0 1,0 -3.4,0a1.7,1.7 0 1,0 3.4,0M456.7,220.2a1.7,1.7 0 1,0 -3.4,0a1.7,1.7 0 1,0 3.4,0M459.3,220.2a1.7,1.7 0 1,0 -3.4,0a1.7,1.7 0 1,0 3.4,0M462.0,220.2a1.7,1.7 0 1,0 -3.4,0a1.7,1.7 0 1,0 3.4,0M467.3,220.2a1.7,1.7 0 1,0 -3.4,0a1.7,1.7 0 1,0 3.4,0M470.0,220.2a1.7,1.7 0 1,0 -3.4,0a1.7,1.7 0 1,0 3.4,0M472.7,220.2a1.7,1.7 0 1,0 -3.4,0a1.7,1.7 0 1,0 3.4,0M475.3,220.2a1.7,1.7 0 1,0 -3.4,0a1.7,1.7 0 1,0 3.4,0M478.0,220.2a1.7,1.7 0 1,0 -3.4,0a1.7,1.7 0 1,0 3.4,0M486.0,220.2a1.7,1.7 0 1,0 -3.4,0a1.7,1.7 0 1,0 3.4,0M488.7,220.2a1.7,1.7 0 1,0 -3.4,0a1.7,1.7 0 1,0 3.4,0M491.4,220.2a1.7,1.7 0 1,0 -3.4,0a1.7,1.7 0 1,0 3.4,0M494.0,220.2a1.7,1.7 0 1,0 -3.4,0a1.7,1.7 0 1,0 3.4,0M168.4,223.4a1.7,1.7 0 1,0 -3.4,0a1.7,1.7 0 1,0 3.4,0M304.5,223.4a1.7,1.7 0 1,0 -3.4,0a1.7,1.7 0 1,0 3.4,0M336.6,223.4a1.7,1.7 0 1,0 -3.4,0a1.7,1.7 0 1,0 3.4,0M347.2,223.4a1.7,1.7 0 1,0 -3.4,0a1.7,1.7 0 1,0 3.4,0M349.9,223.4a1.7,1.7 0 1,0 -3.4,0a1.7,1.7 0 1,0 3.4,0M363.3,223.4a1.7,1.7 0 1,0 -3.4,0a1.7,1.7 0 1,0 3.4,0M368.6,223.4a1.7,1.7 0 1,0 -3.4,0a1.7,1.7 0 1,0 3.4,0M371.3,223.4a1.7,1.7 0 1,0 -3.4,0a1.7,1.7 0 1,0 3.4,0M379.3,223.4a1.7,1.7 0 1,0 -3.4,0a1.7,1.7 0 1,0 3.4,0M384.6,223.4a1.7,1.7 0 1,0 -3.4,0a1.7,1.7 0 1,0 3.4,0M387.3,223.4a1.7,1.7 0 1,0 -3.4,0a1.7,1.7 0 1,0 3.4,0M389.9,223.4a1.7,1.7 0 1,0 -3.4,0a1.7,1.7 0 1,0 3.4,0M395.3,223.4a1.7,1.7 0 1,0 -3.4,0a1.7,1.7 0 1,0 3.4,0M408.6,223.4a1.7,1.7 0 1,0 -3.4,0a1.7,1.7 0 1,0 3.4,0M411.3,223.4a1.7,1.7 0 1,0 -3.4,0a1.7,1.7 0 1,0 3.4,0M414.0,223.4a1.7,1.7 0 1,0 -3.4,0a1.7,1.7 0 1,0 3.4,0M416.6,223.4a1.7,1.7 0 1,0 -3.4,0a1.7,1.7 0 1,0 3.4,0M419.3,223.4a1.7,1.7 0 1,0 -3.4,0a1.7,1.7 0 1,0 3.4,0M422.0,223.4a1.7,1.7 0 1,0 -3.4,0a1.7,1.7 0 1,0 3.4,0M424.6,223.4a1.7,1.7 0 1,0 -3.4,0a1.7,1.7 0 1,0 3.4,0M427.3,223.4a1.7,1.7 0 1,0 -3.4,0a1.7,1.7 0 1,0 3.4,0M430.0,223.4a1.7,1.7 0 1,0 -3.4,0a1.7,1.7 0 1,0 3.4,0M432.6,223.4a1.7,1.7 0 1,0 -3.4,0a1.7,1.7 0 1,0 3.4,0M435.3,223.4a1.7,1.7 0 1,0 -3.4,0a1.7,1.7 0 1,0 3.4,0M438.0,223.4a1.7,1.7 0 1,0 -3.4,0a1.7,1.7 0 1,0 3.4,0M440.6,223.4a1.7,1.7 0 1,0 -3.4,0a1.7,1.7 0 1,0 3.4,0M443.3,223.4a1.7,1.7 0 1,0 -3.4,0a1.7,1.7 0 1,0 3.4,0M446.0,223.4a1.7,1.7 0 1,0 -3.4,0a1.7,1.7 0 1,0 3.4,0M448.7,223.4a1.7,1.7 0 1,0 -3.4,0a1.7,1.7 0 1,0 3.4,0M451.3,223.4a1.7,1.7 0 1,0 -3.4,0a1.7,1.7 0 1,0 3.4,0M454.0,223.4a1.7,1.7 0 1,0 -3.4,0a1.7,1.7 0 1,0 3.4,0M456.7,223.4a1.7,1.7 0 1,0 -3.4,0a1.7,1.7 0 1,0 3.4,0M459.3,223.4a1.7,1.7 0 1,0 -3.4,0a1.7,1.7 0 1,0 3.4,0M462.0,223.4a1.7,1.7 0 1,0 -3.4,0a1.7,1.7 0 1,0 3.4,0M464.7,223.4a1.7,1.7 0 1,0 -3.4,0a1.7,1.7 0 1,0 3.4,0M467.3,223.4a1.7,1.7 0 1,0 -3.4,0a1.7,1.7 0 1,0 3.4,0M470.0,223.4a1.7,1.7 0 1,0 -3.4,0a1.7,1.7 0 1,0 3.4,0M472.7,223.4a1.7,1.7 0 1,0 -3.4,0a1.7,1.7 0 1,0 3.4,0M475.3,223.4a1.7,1.7 0 1,0 -3.4,0a1.7,1.7 0 1,0 3.4,0M480.7,223.4a1.7,1.7 0 1,0 -3.4,0a1.7,1.7 0 1,0 3.4,0M486.0,223.4a1.7,1.7 0 1,0 -3.4,0a1.7,1.7 0 1,0 3.4,0M488.7,223.4a1.7,1.7 0 1,0 -3.4,0a1.7,1.7 0 1,0 3.4,0M320.5,226.6a1.7,1.7 0 1,0 -3.4,0a1.7,1.7 0 1,0 3.4,0M325.9,226.6a1.7,1.7 0 1,0 -3.4,0a1.7,1.7 0 1,0 3.4,0M331.2,226.6a1.7,1.7 0 1,0 -3.4,0a1.7,1.7 0 1,0 3.4,0M339.2,226.6a1.7,1.7 0 1,0 -3.4,0a1.7,1.7 0 1,0 3.4,0M344.6,226.6a1.7,1.7 0 1,0 -3.4,0a1.7,1.7 0 1,0 3.4,0M347.2,226.6a1.7,1.7 0 1,0 -3.4,0a1.7,1.7 0 1,0 3.4,0M373.9,226.6a1.7,1.7 0 1,0 -3.4,0a1.7,1.7 0 1,0 3.4,0M389.9,226.6a1.7,1.7 0 1,0 -3.4,0a1.7,1.7 0 1,0 3.4,0M392.6,226.6a1.7,1.7 0 1,0 -3.4,0a1.7,1.7 0 1,0 3.4,0M395.3,226.6a1.7,1.7 0 1,0 -3.4,0a1.7,1.7 0 1,0 3.4,0M397.9,226.6a1.7,1.7 0 1,0 -3.4,0a1.7,1.7 0 1,0 3.4,0M403.3,226.6a1.7,1.7 0 1,0 -3.4,0a1.7,1.7 0 1,0 3.4,0M408.6,226.6a1.7,1.7 0 1,0 -3.4,0a1.7,1.7 0 1,0 3.4,0M411.3,226.6a1.7,1.7 0 1,0 -3.4,0a1.7,1.7 0 1,0 3.4,0M414.0,226.6a1.7,1.7 0 1,0 -3.4,0a1.7,1.7 0 1,0 3.4,0M416.6,226.6a1.7,1.7 0 1,0 -3.4,0a1.7,1.7 0 1,0 3.4,0M419.3,226.6a1.7,1.7 0 1,0 -3.4,0a1.7,1.7 0 1,0 3.4,0M422.0,226.6a1.7,1.7 0 1,0 -3.4,0a1.7,1.7 0 1,0 3.4,0M424.6,226.6a1.7,1.7 0 1,0 -3.4,0a1.7,1.7 0 1,0 3.4,0M427.3,226.6a1.7,1.7 0 1,0 -3.4,0a1.7,1.7 0 1,0 3.4,0M430.0,226.6a1.7,1.7 0 1,0 -3.4,0a1.7,1.7 0 1,0 3.4,0M432.6,226.6a1.7,1.7 0 1,0 -3.4,0a1.7,1.7 0 1,0 3.4,0M435.3,226.6a1.7,1.7 0 1,0 -3.4,0a1.7,1.7 0 1,0 3.4,0M438.0,226.6a1.7,1.7 0 1,0 -3.4,0a1.7,1.7 0 1,0 3.4,0M440.6,226.6a1.7,1.7 0 1,0 -3.4,0a1.7,1.7 0 1,0 3.4,0M443.3,226.6a1.7,1.7 0 1,0 -3.4,0a1.7,1.7 0 1,0 3.4,0M446.0,226.6a1.7,1.7 0 1,0 -3.4,0a1.7,1.7 0 1,0 3.4,0M448.7,226.6a1.7,1.7 0 1,0 -3.4,0a1.7,1.7 0 1,0 3.4,0M451.3,226.6a1.7,1.7 0 1,0 -3.4,0a1.7,1.7 0 1,0 3.4,0M454.0,226.6a1.7,1.7 0 1,0 -3.4,0a1.7,1.7 0 1,0 3.4,0M456.7,226.6a1.7,1.7 0 1,0 -3.4,0a1.7,1.7 0 1,0 3.4,0M459.3,226.6a1.7,1.7 0 1,0 -3.4,0a1.7,1.7 0 1,0 3.4,0M462.0,226.6a1.7,1.7 0 1,0 -3.4,0a1.7,1.7 0 1,0 3.4,0M464.7,226.6a1.7,1.7 0 1,0 -3.4,0a1.7,1.7 0 1,0 3.4,0M467.3,226.6a1.7,1.7 0 1,0 -3.4,0a1.7,1.7 0 1,0 3.4,0M470.0,226.6a1.7,1.7 0 1,0 -3.4,0a1.7,1.7 0 1,0 3.4,0M472.7,226.6a1.7,1.7 0 1,0 -3.4,0a1.7,1.7 0 1,0 3.4,0M475.3,226.6a1.7,1.7 0 1,0 -3.4,0a1.7,1.7 0 1,0 3.4,0M478.0,226.6a1.7,1.7 0 1,0 -3.4,0a1.7,1.7 0 1,0 3.4,0M480.7,226.6a1.7,1.7 0 1,0 -3.4,0a1.7,1.7 0 1,0 3.4,0M483.4,226.6a1.7,1.7 0 1,0 -3.4,0a1.7,1.7 0 1,0 3.4,0M486.0,226.6a1.7,1.7 0 1,0 -3.4,0a1.7,1.7 0 1,0 3.4,0M491.4,226.6a1.7,1.7 0 1,0 -3.4,0a1.7,1.7 0 1,0 3.4,0M518.0,226.6a1.7,1.7 0 1,0 -3.4,0a1.7,1.7 0 1,0 3.4,0M293.9,229.9a1.7,1.7 0 1,0 -3.4,0a1.7,1.7 0 1,0 3.4,0M339.2,229.9a1.7,1.7 0 1,0 -3.4,0a1.7,1.7 0 1,0 3.4,0M341.9,229.9a1.7,1.7 0 1,0 -3.4,0a1.7,1.7 0 1,0 3.4,0M344.6,229.9a1.7,1.7 0 1,0 -3.4,0a1.7,1.7 0 1,0 3.4,0M347.2,229.9a1.7,1.7 0 1,0 -3.4,0a1.7,1.7 0 1,0 3.4,0M376.6,229.9a1.7,1.7 0 1,0 -3.4,0a1.7,1.7 0 1,0 3.4,0M397.9,229.9a1.7,1.7 0 1,0 -3.4,0a1.7,1.7 0 1,0 3.4,0M403.3,229.9a1.7,1.7 0 1,0 -3.4,0a1.7,1.7 0 1,0 3.4,0M406.0,229.9a1.7,1.7 0 1,0 -3.4,0a1.7,1.7 0 1,0 3.4,0M408.6,229.9a1.7,1.7 0 1,0 -3.4,0a1.7,1.7 0 1,0 3.4,0M411.3,229.9a1.7,1.7 0 1,0 -3.4,0a1.7,1.7 0 1,0 3.4,0M414.0,229.9a1.7,1.7 0 1,0 -3.4,0a1.7,1.7 0 1,0 3.4,0M416.6,229.9a1.7,1.7 0 1,0 -3.4,0a1.7,1.7 0 1,0 3.4,0M419.3,229.9a1.7,1.7 0 1,0 -3.4,0a1.7,1.7 0 1,0 3.4,0M422.0,229.9a1.7,1.7 0 1,0 -3.4,0a1.7,1.7 0 1,0 3.4,0M424.6,229.9a1.7,1.7 0 1,0 -3.4,0a1.7,1.7 0 1,0 3.4,0M427.3,229.9a1.7,1.7 0 1,0 -3.4,0a1.7,1.7 0 1,0 3.4,0M430.0,229.9a1.7,1.7 0 1,0 -3.4,0a1.7,1.7 0 1,0 3.4,0M432.6,229.9a1.7,1.7 0 1,0 -3.4,0a1.7,1.7 0 1,0 3.4,0M435.3,229.9a1.7,1.7 0 1,0 -3.4,0a1.7,1.7 0 1,0 3.4,0M438.0,229.9a1.7,1.7 0 1,0 -3.4,0a1.7,1.7 0 1,0 3.4,0M440.6,229.9a1.7,1.7 0 1,0 -3.4,0a1.7,1.7 0 1,0 3.4,0M443.3,229.9a1.7,1.7 0 1,0 -3.4,0a1.7,1.7 0 1,0 3.4,0M446.0,229.9a1.7,1.7 0 1,0 -3.4,0a1.7,1.7 0 1,0 3.4,0M448.7,229.9a1.7,1.7 0 1,0 -3.4,0a1.7,1.7 0 1,0 3.4,0M451.3,229.9a1.7,1.7 0 1,0 -3.4,0a1.7,1.7 0 1,0 3.4,0M454.0,229.9a1.7,1.7 0 1,0 -3.4,0a1.7,1.7 0 1,0 3.4,0M456.7,229.9a1.7,1.7 0 1,0 -3.4,0a1.7,1.7 0 1,0 3.4,0M459.3,229.9a1.7,1.7 0 1,0 -3.4,0a1.7,1.7 0 1,0 3.4,0M462.0,229.9a1.7,1.7 0 1,0 -3.4,0a1.7,1.7 0 1,0 3.4,0M464.7,229.9a1.7,1.7 0 1,0 -3.4,0a1.7,1.7 0 1,0 3.4,0M467.3,229.9a1.7,1.7 0 1,0 -3.4,0a1.7,1.7 0 1,0 3.4,0M470.0,229.9a1.7,1.7 0 1,0 -3.4,0a1.7,1.7 0 1,0 3.4,0M472.7,229.9a1.7,1.7 0 1,0 -3.4,0a1.7,1.7 0 1,0 3.4,0M475.3,229.9a1.7,1.7 0 1,0 -3.4,0a1.7,1.7 0 1,0 3.4,0M486.0,229.9a1.7,1.7 0 1,0 -3.4,0a1.7,1.7 0 1,0 3.4,0M488.7,229.9a1.7,1.7 0 1,0 -3.4,0a1.7,1.7 0 1,0 3.4,0M494.0,229.9a1.7,1.7 0 1,0 -3.4,0a1.7,1.7 0 1,0 3.4,0M518.0,229.9a1.7,1.7 0 1,0 -3.4,0a1.7,1.7 0 1,0 3.4,0M341.9,233.1a1.7,1.7 0 1,0 -3.4,0a1.7,1.7 0 1,0 3.4,0M349.9,233.1a1.7,1.7 0 1,0 -3.4,0a1.7,1.7 0 1,0 3.4,0M365.9,233.1a1.7,1.7 0 1,0 -3.4,0a1.7,1.7 0 1,0 3.4,0M387.3,233.1a1.7,1.7 0 1,0 -3.4,0a1.7,1.7 0 1,0 3.4,0M400.6,233.1a1.7,1.7 0 1,0 -3.4,0a1.7,1.7 0 1,0 3.4,0M406.0,233.1a1.7,1.7 0 1,0 -3.4,0a1.7,1.7 0 1,0 3.4,0M408.6,233.1a1.7,1.7 0 1,0 -3.4,0a1.7,1.7 0 1,0 3.4,0M414.0,233.1a1.7,1.7 0 1,0 -3.4,0a1.7,1.7 0 1,0 3.4,0M416.6,233.1a1.7,1.7 0 1,0 -3.4,0a1.7,1.7 0 1,0 3.4,0M419.3,233.1a1.7,1.7 0 1,0 -3.4,0a1.7,1.7 0 1,0 3.4,0M422.0,233.1a1.7,1.7 0 1,0 -3.4,0a1.7,1.7 0 1,0 3.4,0M424.6,233.1a1.7,1.7 0 1,0 -3.4,0a1.7,1.7 0 1,0 3.4,0M427.3,233.1a1.7,1.7 0 1,0 -3.4,0a1.7,1.7 0 1,0 3.4,0M430.0,233.1a1.7,1.7 0 1,0 -3.4,0a1.7,1.7 0 1,0 3.4,0M432.6,233.1a1.7,1.7 0 1,0 -3.4,0a1.7,1.7 0 1,0 3.4,0M435.3,233.1a1.7,1.7 0 1,0 -3.4,0a1.7,1.7 0 1,0 3.4,0M438.0,233.1a1.7,1.7 0 1,0 -3.4,0a1.7,1.7 0 1,0 3.4,0M440.6,233.1a1.7,1.7 0 1,0 -3.4,0a1.7,1.7 0 1,0 3.4,0M443.3,233.1a1.7,1.7 0 1,0 -3.4,0a1.7,1.7 0 1,0 3.4,0M446.0,233.1a1.7,1.7 0 1,0 -3.4,0a1.7,1.7 0 1,0 3.4,0M448.7,233.1a1.7,1.7 0 1,0 -3.4,0a1.7,1.7 0 1,0 3.4,0M451.3,233.1a1.7,1.7 0 1,0 -3.4,0a1.7,1.7 0 1,0 3.4,0M454.0,233.1a1.7,1.7 0 1,0 -3.4,0a1.7,1.7 0 1,0 3.4,0M456.7,233.1a1.7,1.7 0 1,0 -3.4,0a1.7,1.7 0 1,0 3.4,0M459.3,233.1a1.7,1.7 0 1,0 -3.4,0a1.7,1.7 0 1,0 3.4,0M462.0,233.1a1.7,1.7 0 1,0 -3.4,0a1.7,1.7 0 1,0 3.4,0M464.7,233.1a1.7,1.7 0 1,0 -3.4,0a1.7,1.7 0 1,0 3.4,0M467.3,233.1a1.7,1.7 0 1,0 -3.4,0a1.7,1.7 0 1,0 3.4,0M470.0,233.1a1.7,1.7 0 1,0 -3.4,0a1.7,1.7 0 1,0 3.4,0M472.7,233.1a1.7,1.7 0 1,0 -3.4,0a1.7,1.7 0 1,0 3.4,0M475.3,233.1a1.7,1.7 0 1,0 -3.4,0a1.7,1.7 0 1,0 3.4,0M478.0,233.1a1.7,1.7 0 1,0 -3.4,0a1.7,1.7 0 1,0 3.4,0M480.7,233.1a1.7,1.7 0 1,0 -3.4,0a1.7,1.7 0 1,0 3.4,0M486.0,233.1a1.7,1.7 0 1,0 -3.4,0a1.7,1.7 0 1,0 3.4,0M488.7,233.1a1.7,1.7 0 1,0 -3.4,0a1.7,1.7 0 1,0 3.4,0M502.0,233.1a1.7,1.7 0 1,0 -3.4,0a1.7,1.7 0 1,0 3.4,0M301.9,236.4a1.7,1.7 0 1,0 -3.4,0a1.7,1.7 0 1,0 3.4,0M328.6,236.4a1.7,1.7 0 1,0 -3.4,0a1.7,1.7 0 1,0 3.4,0M336.6,236.4a1.7,1.7 0 1,0 -3.4,0a1.7,1.7 0 1,0 3.4,0M352.6,236.4a1.7,1.7 0 1,0 -3.4,0a1.7,1.7 0 1,0 3.4,0M355.2,236.4a1.7,1.7 0 1,0 -3.4,0a1.7,1.7 0 1,0 3.4,0M371.3,236.4a1.7,1.7 0 1,0 -3.4,0a1.7,1.7 0 1,0 3.4,0M373.9,236.4a1.7,1.7 0 1,0 -3.4,0a1.7,1.7 0 1,0 3.4,0M384.6,236.4a1.7,1.7 0 1,0 -3.4,0a1.7,1.7 0 1,0 3.4,0M387.3,236.4a1.7,1.7 0 1,0 -3.4,0a1.7,1.7 0 1,0 3.4,0M397.9,236.4a1.7,1.7 0 1,0 -3.4,0a1.7,1.7 0 1,0 3.4,0M411.3,236.4a1.7,1.7 0 1,0 -3.4,0a1.7,1.7 0 1,0 3.4,0M414.0,236.4a1.7,1.7 0 1,0 -3.4,0a1.7,1.7 0 1,0 3.4,0M416.6,236.4a1.7,1.7 0 1,0 -3.4,0a1.7,1.7 0 1,0 3.4,0M419.3,236.4a1.7,1.7 0 1,0 -3.4,0a1.7,1.7 0 1,0 3.4,0M422.0,236.4a1.7,1.7 0 1,0 -3.4,0a1.7,1.7 0 1,0 3.4,0M424.6,236.4a1.7,1.7 0 1,0 -3.4,0a1.7,1.7 0 1,0 3.4,0M427.3,236.4a1.7,1.7 0 1,0 -3.4,0a1.7,1.7 0 1,0 3.4,0M430.0,236.4a1.7,1.7 0 1,0 -3.4,0a1.7,1.7 0 1,0 3.4,0M432.6,236.4a1.7,1.7 0 1,0 -3.4,0a1.7,1.7 0 1,0 3.4,0M435.3,236.4a1.7,1.7 0 1,0 -3.4,0a1.7,1.7 0 1,0 3.4,0M438.0,236.4a1.7,1.7 0 1,0 -3.4,0a1.7,1.7 0 1,0 3.4,0M440.6,236.4a1.7,1.7 0 1,0 -3.4,0a1.7,1.7 0 1,0 3.4,0M443.3,236.4a1.7,1.7 0 1,0 -3.4,0a1.7,1.7 0 1,0 3.4,0M446.0,236.4a1.7,1.7 0 1,0 -3.4,0a1.7,1.7 0 1,0 3.4,0M448.7,236.4a1.7,1.7 0 1,0 -3.4,0a1.7,1.7 0 1,0 3.4,0M451.3,236.4a1.7,1.7 0 1,0 -3.4,0a1.7,1.7 0 1,0 3.4,0M454.0,236.4a1.7,1.7 0 1,0 -3.4,0a1.7,1.7 0 1,0 3.4,0M456.7,236.4a1.7,1.7 0 1,0 -3.4,0a1.7,1.7 0 1,0 3.4,0M459.3,236.4a1.7,1.7 0 1,0 -3.4,0a1.7,1.7 0 1,0 3.4,0M462.0,236.4a1.7,1.7 0 1,0 -3.4,0a1.7,1.7 0 1,0 3.4,0M464.7,236.4a1.7,1.7 0 1,0 -3.4,0a1.7,1.7 0 1,0 3.4,0M467.3,236.4a1.7,1.7 0 1,0 -3.4,0a1.7,1.7 0 1,0 3.4,0M470.0,236.4a1.7,1.7 0 1,0 -3.4,0a1.7,1.7 0 1,0 3.4,0M472.7,236.4a1.7,1.7 0 1,0 -3.4,0a1.7,1.7 0 1,0 3.4,0M475.3,236.4a1.7,1.7 0 1,0 -3.4,0a1.7,1.7 0 1,0 3.4,0M478.0,236.4a1.7,1.7 0 1,0 -3.4,0a1.7,1.7 0 1,0 3.4,0M480.7,236.4a1.7,1.7 0 1,0 -3.4,0a1.7,1.7 0 1,0 3.4,0M496.7,236.4a1.7,1.7 0 1,0 -3.4,0a1.7,1.7 0 1,0 3.4,0M520.7,236.4a1.7,1.7 0 1,0 -3.4,0a1.7,1.7 0 1,0 3.4,0M211.1,239.6a1.7,1.7 0 1,0 -3.4,0a1.7,1.7 0 1,0 3.4,0M291.2,239.6a1.7,1.7 0 1,0 -3.4,0a1.7,1.7 0 1,0 3.4,0M312.5,239.6a1.7,1.7 0 1,0 -3.4,0a1.7,1.7 0 1,0 3.4,0M323.2,239.6a1.7,1.7 0 1,0 -3.4,0a1.7,1.7 0 1,0 3.4,0M352.6,239.6a1.7,1.7 0 1,0 -3.4,0a1.7,1.7 0 1,0 3.4,0M360.6,239.6a1.7,1.7 0 1,0 -3.4,0a1.7,1.7 0 1,0 3.4,0M379.3,239.6a1.7,1.7 0 1,0 -3.4,0a1.7,1.7 0 1,0 3.4,0M389.9,239.6a1.7,1.7 0 1,0 -3.4,0a1.7,1.7 0 1,0 3.4,0M392.6,239.6a1.7,1.7 0 1,0 -3.4,0a1.7,1.7 0 1,0 3.4,0M395.3,239.6a1.7,1.7 0 1,0 -3.4,0a1.7,1.7 0 1,0 3.4,0M406.0,239.6a1.7,1.7 0 1,0 -3.4,0a1.7,1.7 0 1,0 3.4,0M408.6,239.6a1.7,1.7 0 1,0 -3.4,0a1.7,1.7 0 1,0 3.4,0M411.3,239.6a1.7,1.7 0 1,0 -3.4,0a1.7,1.7 0 1,0 3.4,0M414.0,239.6a1.7,1.7 0 1,0 -3.4,0a1.7,1.7 0 1,0 3.4,0M416.6,239.6a1.7,1.7 0 1,0 -3.4,0a1.7,1.7 0 1,0 3.4,0M422.0,239.6a1.7,1.7 0 1,0 -3.4,0a1.7,1.7 0 1,0 3.4,0M424.6,239.6a1.7,1.7 0 1,0 -3.4,0a1.7,1.7 0 1,0 3.4,0M427.3,239.6a1.7,1.7 0 1,0 -3.4,0a1.7,1.7 0 1,0 3.4,0M430.0,239.6a1.7,1.7 0 1,0 -3.4,0a1.7,1.7 0 1,0 3.4,0M432.6,239.6a1.7,1.7 0 1,0 -3.4,0a1.7,1.7 0 1,0 3.4,0M438.0,239.6a1.7,1.7 0 1,0 -3.4,0a1.7,1.7 0 1,0 3.4,0M443.3,239.6a1.7,1.7 0 1,0 -3.4,0a1.7,1.7 0 1,0 3.4,0M446.0,239.6a1.7,1.7 0 1,0 -3.4,0a1.7,1.7 0 1,0 3.4,0M448.7,239.6a1.7,1.7 0 1,0 -3.4,0a1.7,1.7 0 1,0 3.4,0M451.3,239.6a1.7,1.7 0 1,0 -3.4,0a1.7,1.7 0 1,0 3.4,0M456.7,239.6a1.7,1.7 0 1,0 -3.4,0a1.7,1.7 0 1,0 3.4,0M459.3,239.6a1.7,1.7 0 1,0 -3.4,0a1.7,1.7 0 1,0 3.4,0M462.0,239.6a1.7,1.7 0 1,0 -3.4,0a1.7,1.7 0 1,0 3.4,0M464.7,239.6a1.7,1.7 0 1,0 -3.4,0a1.7,1.7 0 1,0 3.4,0M467.3,239.6a1.7,1.7 0 1,0 -3.4,0a1.7,1.7 0 1,0 3.4,0M470.0,239.6a1.7,1.7 0 1,0 -3.4,0a1.7,1.7 0 1,0 3.4,0M472.7,239.6a1.7,1.7 0 1,0 -3.4,0a1.7,1.7 0 1,0 3.4,0M475.3,239.6a1.7,1.7 0 1,0 -3.4,0a1.7,1.7 0 1,0 3.4,0M478.0,239.6a1.7,1.7 0 1,0 -3.4,0a1.7,1.7 0 1,0 3.4,0M480.7,239.6a1.7,1.7 0 1,0 -3.4,0a1.7,1.7 0 1,0 3.4,0M483.4,239.6a1.7,1.7 0 1,0 -3.4,0a1.7,1.7 0 1,0 3.4,0M494.0,239.6a1.7,1.7 0 1,0 -3.4,0a1.7,1.7 0 1,0 3.4,0M216.5,242.8a1.7,1.7 0 1,0 -3.4,0a1.7,1.7 0 1,0 3.4,0M309.9,242.8a1.7,1.7 0 1,0 -3.4,0a1.7,1.7 0 1,0 3.4,0M347.2,242.8a1.7,1.7 0 1,0 -3.4,0a1.7,1.7 0 1,0 3.4,0M352.6,242.8a1.7,1.7 0 1,0 -3.4,0a1.7,1.7 0 1,0 3.4,0M365.9,242.8a1.7,1.7 0 1,0 -3.4,0a1.7,1.7 0 1,0 3.4,0M368.6,242.8a1.7,1.7 0 1,0 -3.4,0a1.7,1.7 0 1,0 3.4,0M373.9,242.8a1.7,1.7 0 1,0 -3.4,0a1.7,1.7 0 1,0 3.4,0M379.3,242.8a1.7,1.7 0 1,0 -3.4,0a1.7,1.7 0 1,0 3.4,0M392.6,242.8a1.7,1.7 0 1,0 -3.4,0a1.7,1.7 0 1,0 3.4,0M403.3,242.8a1.7,1.7 0 1,0 -3.4,0a1.7,1.7 0 1,0 3.4,0M419.3,242.8a1.7,1.7 0 1,0 -3.4,0a1.7,1.7 0 1,0 3.4,0M422.0,242.8a1.7,1.7 0 1,0 -3.4,0a1.7,1.7 0 1,0 3.4,0M430.0,242.8a1.7,1.7 0 1,0 -3.4,0a1.7,1.7 0 1,0 3.4,0M432.6,242.8a1.7,1.7 0 1,0 -3.4,0a1.7,1.7 0 1,0 3.4,0M440.6,242.8a1.7,1.7 0 1,0 -3.4,0a1.7,1.7 0 1,0 3.4,0M443.3,242.8a1.7,1.7 0 1,0 -3.4,0a1.7,1.7 0 1,0 3.4,0M459.3,242.8a1.7,1.7 0 1,0 -3.4,0a1.7,1.7 0 1,0 3.4,0M462.0,242.8a1.7,1.7 0 1,0 -3.4,0a1.7,1.7 0 1,0 3.4,0M464.7,242.8a1.7,1.7 0 1,0 -3.4,0a1.7,1.7 0 1,0 3.4,0M467.3,242.8a1.7,1.7 0 1,0 -3.4,0a1.7,1.7 0 1,0 3.4,0M470.0,242.8a1.7,1.7 0 1,0 -3.4,0a1.7,1.7 0 1,0 3.4,0M472.7,242.8a1.7,1.7 0 1,0 -3.4,0a1.7,1.7 0 1,0 3.4,0M475.3,242.8a1.7,1.7 0 1,0 -3.4,0a1.7,1.7 0 1,0 3.4,0M478.0,242.8a1.7,1.7 0 1,0 -3.4,0a1.7,1.7 0 1,0 3.4,0M483.4,242.8a1.7,1.7 0 1,0 -3.4,0a1.7,1.7 0 1,0 3.4,0M488.7,242.8a1.7,1.7 0 1,0 -3.4,0a1.7,1.7 0 1,0 3.4,0M491.4,242.8a1.7,1.7 0 1,0 -3.4,0a1.7,1.7 0 1,0 3.4,0M494.0,242.8a1.7,1.7 0 1,0 -3.4,0a1.7,1.7 0 1,0 3.4,0M579.4,242.8a1.7,1.7 0 1,0 -3.4,0a1.7,1.7 0 1,0 3.4,0M333.9,246.1a1.7,1.7 0 1,0 -3.4,0a1.7,1.7 0 1,0 3.4,0M363.3,246.1a1.7,1.7 0 1,0 -3.4,0a1.7,1.7 0 1,0 3.4,0M384.6,246.1a1.7,1.7 0 1,0 -3.4,0a1.7,1.7 0 1,0 3.4,0M387.3,246.1a1.7,1.7 0 1,0 -3.4,0a1.7,1.7 0 1,0 3.4,0M403.3,246.1a1.7,1.7 0 1,0 -3.4,0a1.7,1.7 0 1,0 3.4,0M419.3,246.1a1.7,1.7 0 1,0 -3.4,0a1.7,1.7 0 1,0 3.4,0M422.0,246.1a1.7,1.7 0 1,0 -3.4,0a1.7,1.7 0 1,0 3.4,0M427.3,246.1a1.7,1.7 0 1,0 -3.4,0a1.7,1.7 0 1,0 3.4,0M443.3,246.1a1.7,1.7 0 1,0 -3.4,0a1.7,1.7 0 1,0 3.4,0M456.7,246.1a1.7,1.7 0 1,0 -3.4,0a1.7,1.7 0 1,0 3.4,0M459.3,246.1a1.7,1.7 0 1,0 -3.4,0a1.7,1.7 0 1,0 3.4,0M462.0,246.1a1.7,1.7 0 1,0 -3.4,0a1.7,1.7 0 1,0 3.4,0M464.7,246.1a1.7,1.7 0 1,0 -3.4,0a1.7,1.7 0 1,0 3.4,0M467.3,246.1a1.7,1.7 0 1,0 -3.4,0a1.7,1.7 0 1,0 3.4,0M470.0,246.1a1.7,1.7 0 1,0 -3.4,0a1.7,1.7 0 1,0 3.4,0M472.7,246.1a1.7,1.7 0 1,0 -3.4,0a1.7,1.7 0 1,0 3.4,0M480.7,246.1a1.7,1.7 0 1,0 -3.4,0a1.7,1.7 0 1,0 3.4,0M491.4,246.1a1.7,1.7 0 1,0 -3.4,0a1.7,1.7 0 1,0 3.4,0M534.1,246.1a1.7,1.7 0 1,0 -3.4,0a1.7,1.7 0 1,0 3.4,0M315.2,249.3a1.7,1.7 0 1,0 -3.4,0a1.7,1.7 0 1,0 3.4,0M352.6,249.3a1.7,1.7 0 1,0 -3.4,0a1.7,1.7 0 1,0 3.4,0M389.9,249.3a1.7,1.7 0 1,0 -3.4,0a1.7,1.7 0 1,0 3.4,0M414.0,249.3a1.7,1.7 0 1,0 -3.4,0a1.7,1.7 0 1,0 3.4,0M430.0,249.3a1.7,1.7 0 1,0 -3.4,0a1.7,1.7 0 1,0 3.4,0M435.3,249.3a1.7,1.7 0 1,0 -3.4,0a1.7,1.7 0 1,0 3.4,0M438.0,249.3a1.7,1.7 0 1,0 -3.4,0a1.7,1.7 0 1,0 3.4,0M440.6,249.3a1.7,1.7 0 1,0 -3.4,0a1.7,1.7 0 1,0 3.4,0M454.0,249.3a1.7,1.7 0 1,0 -3.4,0a1.7,1.7 0 1,0 3.4,0M456.7,249.3a1.7,1.7 0 1,0 -3.4,0a1.7,1.7 0 1,0 3.4,0M459.3,249.3a1.7,1.7 0 1,0 -3.4,0a1.7,1.7 0 1,0 3.4,0M462.0,249.3a1.7,1.7 0 1,0 -3.4,0a1.7,1.7 0 1,0 3.4,0M464.7,249.3a1.7,1.7 0 1,0 -3.4,0a1.7,1.7 0 1,0 3.4,0M467.3,249.3a1.7,1.7 0 1,0 -3.4,0a1.7,1.7 0 1,0 3.4,0M470.0,249.3a1.7,1.7 0 1,0 -3.4,0a1.7,1.7 0 1,0 3.4,0M472.7,249.3a1.7,1.7 0 1,0 -3.4,0a1.7,1.7 0 1,0 3.4,0M475.3,249.3a1.7,1.7 0 1,0 -3.4,0a1.7,1.7 0 1,0 3.4,0M478.0,249.3a1.7,1.7 0 1,0 -3.4,0a1.7,1.7 0 1,0 3.4,0M480.7,249.3a1.7,1.7 0 1,0 -3.4,0a1.7,1.7 0 1,0 3.4,0M486.0,249.3a1.7,1.7 0 1,0 -3.4,0a1.7,1.7 0 1,0 3.4,0M488.7,249.3a1.7,1.7 0 1,0 -3.4,0a1.7,1.7 0 1,0 3.4,0M491.4,249.3a1.7,1.7 0 1,0 -3.4,0a1.7,1.7 0 1,0 3.4,0M496.7,249.3a1.7,1.7 0 1,0 -3.4,0a1.7,1.7 0 1,0 3.4,0M499.4,249.3a1.7,1.7 0 1,0 -3.4,0a1.7,1.7 0 1,0 3.4,0M395.3,252.6a1.7,1.7 0 1,0 -3.4,0a1.7,1.7 0 1,0 3.4,0M397.9,252.6a1.7,1.7 0 1,0 -3.4,0a1.7,1.7 0 1,0 3.4,0M422.0,252.6a1.7,1.7 0 1,0 -3.4,0a1.7,1.7 0 1,0 3.4,0M430.0,252.6a1.7,1.7 0 1,0 -3.4,0a1.7,1.7 0 1,0 3.4,0M440.6,252.6a1.7,1.7 0 1,0 -3.4,0a1.7,1.7 0 1,0 3.4,0M443.3,252.6a1.7,1.7 0 1,0 -3.4,0a1.7,1.7 0 1,0 3.4,0M448.7,252.6a1.7,1.7 0 1,0 -3.4,0a1.7,1.7 0 1,0 3.4,0M456.7,252.6a1.7,1.7 0 1,0 -3.4,0a1.7,1.7 0 1,0 3.4,0M462.0,252.6a1.7,1.7 0 1,0 -3.4,0a1.7,1.7 0 1,0 3.4,0M464.7,252.6a1.7,1.7 0 1,0 -3.4,0a1.7,1.7 0 1,0 3.4,0M467.3,252.6a1.7,1.7 0 1,0 -3.4,0a1.7,1.7 0 1,0 3.4,0M472.7,252.6a1.7,1.7 0 1,0 -3.4,0a1.7,1.7 0 1,0 3.4,0M478.0,252.6a1.7,1.7 0 1,0 -3.4,0a1.7,1.7 0 1,0 3.4,0M483.4,252.6a1.7,1.7 0 1,0 -3.4,0a1.7,1.7 0 1,0 3.4,0M488.7,252.6a1.7,1.7 0 1,0 -3.4,0a1.7,1.7 0 1,0 3.4,0M491.4,252.6a1.7,1.7 0 1,0 -3.4,0a1.7,1.7 0 1,0 3.4,0M494.0,252.6a1.7,1.7 0 1,0 -3.4,0a1.7,1.7 0 1,0 3.4,0M320.5,255.8a1.7,1.7 0 1,0 -3.4,0a1.7,1.7 0 1,0 3.4,0M360.6,255.8a1.7,1.7 0 1,0 -3.4,0a1.7,1.7 0 1,0 3.4,0M379.3,255.8a1.7,1.7 0 1,0 -3.4,0a1.7,1.7 0 1,0 3.4,0M400.6,255.8a1.7,1.7 0 1,0 -3.4,0a1.7,1.7 0 1,0 3.4,0M427.3,255.8a1.7,1.7 0 1,0 -3.4,0a1.7,1.7 0 1,0 3.4,0M446.0,255.8a1.7,1.7 0 1,0 -3.4,0a1.7,1.7 0 1,0 3.4,0M448.7,255.8a1.7,1.7 0 1,0 -3.4,0a1.7,1.7 0 1,0 3.4,0M459.3,255.8a1.7,1.7 0 1,0 -3.4,0a1.7,1.7 0 1,0 3.4,0M462.0,255.8a1.7,1.7 0 1,0 -3.4,0a1.7,1.7 0 1,0 3.4,0M464.7,255.8a1.7,1.7 0 1,0 -3.4,0a1.7,1.7 0 1,0 3.4,0M467.3,255.8a1.7,1.7 0 1,0 -3.4,0a1.7,1.7 0 1,0 3.4,0M470.0,255.8a1.7,1.7 0 1,0 -3.4,0a1.7,1.7 0 1,0 3.4,0M472.7,255.8a1.7,1.7 0 1,0 -3.4,0a1.7,1.7 0 1,0 3.4,0M475.3,255.8a1.7,1.7 0 1,0 -3.4,0a1.7,1.7 0 1,0 3.4,0M478.0,255.8a1.7,1.7 0 1,0 -3.4,0a1.7,1.7 0 1,0 3.4,0M480.7,255.8a1.7,1.7 0 1,0 -3.4,0a1.7,1.7 0 1,0 3.4,0M483.4,255.8a1.7,1.7 0 1,0 -3.4,0a1.7,1.7 0 1,0 3.4,0M486.0,255.8a1.7,1.7 0 1,0 -3.4,0a1.7,1.7 0 1,0 3.4,0M491.4,255.8a1.7,1.7 0 1,0 -3.4,0a1.7,1.7 0 1,0 3.4,0M349.9,259.0a1.7,1.7 0 1,0 -3.4,0a1.7,1.7 0 1,0 3.4,0M381.9,259.0a1.7,1.7 0 1,0 -3.4,0a1.7,1.7 0 1,0 3.4,0M389.9,259.0a1.7,1.7 0 1,0 -3.4,0a1.7,1.7 0 1,0 3.4,0M427.3,259.0a1.7,1.7 0 1,0 -3.4,0a1.7,1.7 0 1,0 3.4,0M446.0,259.0a1.7,1.7 0 1,0 -3.4,0a1.7,1.7 0 1,0 3.4,0M454.0,259.0a1.7,1.7 0 1,0 -3.4,0a1.7,1.7 0 1,0 3.4,0M456.7,259.0a1.7,1.7 0 1,0 -3.4,0a1.7,1.7 0 1,0 3.4,0M459.3,259.0a1.7,1.7 0 1,0 -3.4,0a1.7,1.7 0 1,0 3.4,0M462.0,259.0a1.7,1.7 0 1,0 -3.4,0a1.7,1.7 0 1,0 3.4,0M464.7,259.0a1.7,1.7 0 1,0 -3.4,0a1.7,1.7 0 1,0 3.4,0M467.3,259.0a1.7,1.7 0 1,0 -3.4,0a1.7,1.7 0 1,0 3.4,0M470.0,259.0a1.7,1.7 0 1,0 -3.4,0a1.7,1.7 0 1,0 3.4,0M472.7,259.0a1.7,1.7 0 1,0 -3.4,0a1.7,1.7 0 1,0 3.4,0M475.3,259.0a1.7,1.7 0 1,0 -3.4,0a1.7,1.7 0 1,0 3.4,0M483.4,259.0a1.7,1.7 0 1,0 -3.4,0a1.7,1.7 0 1,0 3.4,0M494.0,259.0a1.7,1.7 0 1,0 -3.4,0a1.7,1.7 0 1,0 3.4,0M365.9,262.3a1.7,1.7 0 1,0 -3.4,0a1.7,1.7 0 1,0 3.4,0M403.3,262.3a1.7,1.7 0 1,0 -3.4,0a1.7,1.7 0 1,0 3.4,0M411.3,262.3a1.7,1.7 0 1,0 -3.4,0a1.7,1.7 0 1,0 3.4,0M432.6,262.3a1.7,1.7 0 1,0 -3.4,0a1.7,1.7 0 1,0 3.4,0M440.6,262.3a1.7,1.7 0 1,0 -3.4,0a1.7,1.7 0 1,0 3.4,0M446.0,262.3a1.7,1.7 0 1,0 -3.4,0a1.7,1.7 0 1,0 3.4,0M454.0,262.3a1.7,1.7 0 1,0 -3.4,0a1.7,1.7 0 1,0 3.4,0M464.7,262.3a1.7,1.7 0 1,0 -3.4,0a1.7,1.7 0 1,0 3.4,0M467.3,262.3a1.7,1.7 0 1,0 -3.4,0a1.7,1.7 0 1,0 3.4,0M472.7,262.3a1.7,1.7 0 1,0 -3.4,0a1.7,1.7 0 1,0 3.4,0M491.4,262.3a1.7,1.7 0 1,0 -3.4,0a1.7,1.7 0 1,0 3.4,0M536.7,262.3a1.7,1.7 0 1,0 -3.4,0a1.7,1.7 0 1,0 3.4,0M454.0,265.5a1.7,1.7 0 1,0 -3.4,0a1.7,1.7 0 1,0 3.4,0M464.7,265.5a1.7,1.7 0 1,0 -3.4,0a1.7,1.7 0 1,0 3.4,0M475.3,265.5a1.7,1.7 0 1,0 -3.4,0a1.7,1.7 0 1,0 3.4,0M491.4,265.5a1.7,1.7 0 1,0 -3.4,0a1.7,1.7 0 1,0 3.4,0M133.7,268.8a1.7,1.7 0 1,0 -3.4,0a1.7,1.7 0 1,0 3.4,0M395.3,268.8a1.7,1.7 0 1,0 -3.4,0a1.7,1.7 0 1,0 3.4,0M416.6,268.8a1.7,1.7 0 1,0 -3.4,0a1.7,1.7 0 1,0 3.4,0M435.3,268.8a1.7,1.7 0 1,0 -3.4,0a1.7,1.7 0 1,0 3.4,0M448.7,268.8a1.7,1.7 0 1,0 -3.4,0a1.7,1.7 0 1,0 3.4,0M467.3,268.8a1.7,1.7 0 1,0 -3.4,0a1.7,1.7 0 1,0 3.4,0M483.4,268.8a1.7,1.7 0 1,0 -3.4,0a1.7,1.7 0 1,0 3.4,0M491.4,268.8a1.7,1.7 0 1,0 -3.4,0a1.7,1.7 0 1,0 3.4,0M510.0,268.8a1.7,1.7 0 1,0 -3.4,0a1.7,1.7 0 1,0 3.4,0M528.7,268.8a1.7,1.7 0 1,0 -3.4,0a1.7,1.7 0 1,0 3.4,0M128.4,272.0a1.7,1.7 0 1,0 -3.4,0a1.7,1.7 0 1,0 3.4,0M470.0,272.0a1.7,1.7 0 1,0 -3.4,0a1.7,1.7 0 1,0 3.4,0M483.4,272.0a1.7,1.7 0 1,0 -3.4,0a1.7,1.7 0 1,0 3.4,0M355.2,275.2a1.7,1.7 0 1,0 -3.4,0a1.7,1.7 0 1,0 3.4,0M363.3,275.2a1.7,1.7 0 1,0 -3.4,0a1.7,1.7 0 1,0 3.4,0M446.0,275.2a1.7,1.7 0 1,0 -3.4,0a1.7,1.7 0 1,0 3.4,0M451.3,275.2a1.7,1.7 0 1,0 -3.4,0a1.7,1.7 0 1,0 3.4,0M467.3,275.2a1.7,1.7 0 1,0 -3.4,0a1.7,1.7 0 1,0 3.4,0M480.7,275.2a1.7,1.7 0 1,0 -3.4,0a1.7,1.7 0 1,0 3.4,0M486.0,275.2a1.7,1.7 0 1,0 -3.4,0a1.7,1.7 0 1,0 3.4,0M491.4,275.2a1.7,1.7 0 1,0 -3.4,0a1.7,1.7 0 1,0 3.4,0M539.4,275.2a1.7,1.7 0 1,0 -3.4,0a1.7,1.7 0 1,0 3.4,0M379.3,278.5a1.7,1.7 0 1,0 -3.4,0a1.7,1.7 0 1,0 3.4,0M472.7,278.5a1.7,1.7 0 1,0 -3.4,0a1.7,1.7 0 1,0 3.4,0M475.3,278.5a1.7,1.7 0 1,0 -3.4,0a1.7,1.7 0 1,0 3.4,0M483.4,278.5a1.7,1.7 0 1,0 -3.4,0a1.7,1.7 0 1,0 3.4,0M371.3,281.7a1.7,1.7 0 1,0 -3.4,0a1.7,1.7 0 1,0 3.4,0M352.6,285.0a1.7,1.7 0 1,0 -3.4,0a1.7,1.7 0 1,0 3.4,0M539.4,288.2a1.7,1.7 0 1,0 -3.4,0a1.7,1.7 0 1,0 3.4,0M558.1,291.4a1.7,1.7 0 1,0 -3.4,0a1.7,1.7 0 1,0 3.4,0M333.9,294.7a1.7,1.7 0 1,0 -3.4,0a1.7,1.7 0 1,0 3.4,0M502.0,297.9a1.7,1.7 0 1,0 -3.4,0a1.7,1.7 0 1,0 3.4,0M435.3,301.2a1.7,1.7 0 1,0 -3.4,0a1.7,1.7 0 1,0 3.4,0M504.7,301.2a1.7,1.7 0 1,0 -3.4,0a1.7,1.7 0 1,0 3.4,0M459.3,304.4a1.7,1.7 0 1,0 -3.4,0a1.7,1.7 0 1,0 3.4,0M464.7,304.4a1.7,1.7 0 1,0 -3.4,0a1.7,1.7 0 1,0 3.4,0M470.0,304.4a1.7,1.7 0 1,0 -3.4,0a1.7,1.7 0 1,0 3.4,0M494.0,304.4a1.7,1.7 0 1,0 -3.4,0a1.7,1.7 0 1,0 3.4,0M499.4,304.4a1.7,1.7 0 1,0 -3.4,0a1.7,1.7 0 1,0 3.4,0M512.7,304.4a1.7,1.7 0 1,0 -3.4,0a1.7,1.7 0 1,0 3.4,0M523.4,304.4a1.7,1.7 0 1,0 -3.4,0a1.7,1.7 0 1,0 3.4,0M435.3,310.9a1.7,1.7 0 1,0 -3.4,0a1.7,1.7 0 1,0 3.4,0M480.7,310.9a1.7,1.7 0 1,0 -3.4,0a1.7,1.7 0 1,0 3.4,0M504.7,310.9a1.7,1.7 0 1,0 -3.4,0a1.7,1.7 0 1,0 3.4,0M472.7,314.1a1.7,1.7 0 1,0 -3.4,0a1.7,1.7 0 1,0 3.4,0M486.0,314.1a1.7,1.7 0 1,0 -3.4,0a1.7,1.7 0 1,0 3.4,0M539.4,314.1a1.7,1.7 0 1,0 -3.4,0a1.7,1.7 0 1,0 3.4,0M414.0,317.4a1.7,1.7 0 1,0 -3.4,0a1.7,1.7 0 1,0 3.4,0M488.7,317.4a1.7,1.7 0 1,0 -3.4,0a1.7,1.7 0 1,0 3.4,0M552.7,317.4a1.7,1.7 0 1,0 -3.4,0a1.7,1.7 0 1,0 3.4,0M379.3,320.6a1.7,1.7 0 1,0 -3.4,0a1.7,1.7 0 1,0 3.4,0M491.4,320.6a1.7,1.7 0 1,0 -3.4,0a1.7,1.7 0 1,0 3.4,0M478.0,323.8a1.7,1.7 0 1,0 -3.4,0a1.7,1.7 0 1,0 3.4,0M494.0,323.8a1.7,1.7 0 1,0 -3.4,0a1.7,1.7 0 1,0 3.4,0M534.1,323.8a1.7,1.7 0 1,0 -3.4,0a1.7,1.7 0 1,0 3.4,0M507.4,327.1a1.7,1.7 0 1,0 -3.4,0a1.7,1.7 0 1,0 3.4,0M462.0,330.3a1.7,1.7 0 1,0 -3.4,0a1.7,1.7 0 1,0 3.4,0M456.7,333.6a1.7,1.7 0 1,0 -3.4,0a1.7,1.7 0 1,0 3.4,0M512.7,336.8a1.7,1.7 0 1,0 -3.4,0a1.7,1.7 0 1,0 3.4,0M451.3,340.0a1.7,1.7 0 1,0 -3.4,0a1.7,1.7 0 1,0 3.4,0M486.0,340.0a1.7,1.7 0 1,0 -3.4,0a1.7,1.7 0 1,0 3.4,0M488.7,340.0a1.7,1.7 0 1,0 -3.4,0a1.7,1.7 0 1,0 3.4,0M491.4,340.0a1.7,1.7 0 1,0 -3.4,0a1.7,1.7 0 1,0 3.4,0M507.4,340.0a1.7,1.7 0 1,0 -3.4,0a1.7,1.7 0 1,0 3.4,0M544.7,340.0a1.7,1.7 0 1,0 -3.4,0a1.7,1.7 0 1,0 3.4,0M459.3,343.3a1.7,1.7 0 1,0 -3.4,0a1.7,1.7 0 1,0 3.4,0M480.7,343.3a1.7,1.7 0 1,0 -3.4,0a1.7,1.7 0 1,0 3.4,0M502.0,343.3a1.7,1.7 0 1,0 -3.4,0a1.7,1.7 0 1,0 3.4,0M512.7,343.3a1.7,1.7 0 1,0 -3.4,0a1.7,1.7 0 1,0 3.4,0M478.0,346.5a1.7,1.7 0 1,0 -3.4,0a1.7,1.7 0 1,0 3.4,0M496.7,346.5a1.7,1.7 0 1,0 -3.4,0a1.7,1.7 0 1,0 3.4,0M475.3,349.8a1.7,1.7 0 1,0 -3.4,0a1.7,1.7 0 1,0 3.4,0M496.7,349.8a1.7,1.7 0 1,0 -3.4,0a1.7,1.7 0 1,0 3.4,0M451.3,353.0a1.7,1.7 0 1,0 -3.4,0a1.7,1.7 0 1,0 3.4,0M472.7,353.0a1.7,1.7 0 1,0 -3.4,0a1.7,1.7 0 1,0 3.4,0M486.0,353.0a1.7,1.7 0 1,0 -3.4,0a1.7,1.7 0 1,0 3.4,0M480.7,356.2a1.7,1.7 0 1,0 -3.4,0a1.7,1.7 0 1,0 3.4,0M486.0,356.2a1.7,1.7 0 1,0 -3.4,0a1.7,1.7 0 1,0 3.4,0M496.7,359.5a1.7,1.7 0 1,0 -3.4,0a1.7,1.7 0 1,0 3.4,0M488.7,362.7a1.7,1.7 0 1,0 -3.4,0a1.7,1.7 0 1,0 3.4,0M494.0,362.7a1.7,1.7 0 1,0 -3.4,0a1.7,1.7 0 1,0 3.4,0M558.1,362.7a1.7,1.7 0 1,0 -3.4,0a1.7,1.7 0 1,0 3.4,0M560.7,362.7a1.7,1.7 0 1,0 -3.4,0a1.7,1.7 0 1,0 3.4,0M491.4,366.0a1.7,1.7 0 1,0 -3.4,0a1.7,1.7 0 1,0 3.4,0M491.4,369.2a1.7,1.7 0 1,0 -3.4,0a1.7,1.7 0 1,0 3.4,0M483.4,372.4a1.7,1.7 0 1,0 -3.4,0a1.7,1.7 0 1,0 3.4,0M499.4,372.4a1.7,1.7 0 1,0 -3.4,0a1.7,1.7 0 1,0 3.4,0M496.7,375.7a1.7,1.7 0 1,0 -3.4,0a1.7,1.7 0 1,0 3.4,0M499.4,375.7a1.7,1.7 0 1,0 -3.4,0a1.7,1.7 0 1,0 3.4,0M539.4,375.7a1.7,1.7 0 1,0 -3.4,0a1.7,1.7 0 1,0 3.4,0M494.0,378.9a1.7,1.7 0 1,0 -3.4,0a1.7,1.7 0 1,0 3.4,0M499.4,391.9a1.7,1.7 0 1,0 -3.4,0a1.7,1.7 0 1,0 3.4,0M507.4,395.1a1.7,1.7 0 1,0 -3.4,0a1.7,1.7 0 1,0 3.4,0M349.9,398.4a1.7,1.7 0 1,0 -3.4,0a1.7,1.7 0 1,0 3.4,0M579.4,398.4a1.7,1.7 0 1,0 -3.4,0a1.7,1.7 0 1,0 3.4,0M510.0,404.8a1.7,1.7 0 1,0 -3.4,0a1.7,1.7 0 1,0 3.4,0M502.0,411.3a1.7,1.7 0 1,0 -3.4,0a1.7,1.7 0 1,0 3.4,0M432.6,414.6a1.7,1.7 0 1,0 -3.4,0a1.7,1.7 0 1,0 3.4,0M491.4,414.6a1.7,1.7 0 1,0 -3.4,0a1.7,1.7 0 1,0 3.4,0M510.0,414.6a1.7,1.7 0 1,0 -3.4,0a1.7,1.7 0 1,0 3.4,0M435.3,421.0a1.7,1.7 0 1,0 -3.4,0a1.7,1.7 0 1,0 3.4,0M438.0,421.0a1.7,1.7 0 1,0 -3.4,0a1.7,1.7 0 1,0 3.4,0M448.7,421.0a1.7,1.7 0 1,0 -3.4,0a1.7,1.7 0 1,0 3.4,0M512.7,421.0a1.7,1.7 0 1,0 -3.4,0a1.7,1.7 0 1,0 3.4,0M526.1,430.8a1.7,1.7 0 1,0 -3.4,0a1.7,1.7 0 1,0 3.4,0" fill="none" stroke="#787878" stroke-width="1.15"/><circle cx="219.8" cy="366" r="1.4" fill="none" stroke="#888" stroke-width="0.8"/></g>
<g stroke="#62aedb" stroke-width="1.25" fill="none">
<line x1="192.3" y1="33" x2="310.6" y2="204.1"/>
<line x1="303.8" y1="33" x2="331.6" y2="210.1"/>
<line x1="453" y1="33" x2="487" y2="239.2"/>
<line x1="570.5" y1="33" x2="489.4" y2="259"/>
</g>
<g stroke="#e0302a" stroke-width="1.3" fill="none">
<line x1="386.8" y1="331.5" x2="489.4" y2="266.2"/>
<line x1="467" y1="370.6" x2="503" y2="268.6"/>
</g>
<polygon points="489.40,257.60 491.42,263.42 497.58,263.54 492.67,267.26 494.45,273.16 489.40,269.64 484.35,273.16 486.13,267.26 481.22,263.54 487.38,263.42" fill="#e0302a" stroke="#fff" stroke-width="1.4" stroke-linejoin="round"/>
<polygon points="503.00,260.00 505.02,265.82 511.18,265.94 506.27,269.66 508.05,275.56 503.00,272.04 497.95,275.56 499.73,269.66 494.82,265.94 500.98,265.82" fill="#e0302a" stroke="#fff" stroke-width="1.4" stroke-linejoin="round"/>
<polygon points="310.60,195.60 312.62,201.42 318.78,201.54 313.87,205.26 315.65,211.16 310.60,207.64 305.55,211.16 307.33,205.26 302.42,201.54 308.58,201.42" fill="#5ea8d8" stroke="#fff" stroke-width="1.4" stroke-linejoin="round"/>
<polygon points="331.60,201.50 333.62,207.32 339.78,207.44 334.87,211.16 336.65,217.06 331.60,213.54 326.55,217.06 328.33,211.16 323.42,207.44 329.58,207.32" fill="#5ea8d8" stroke="#fff" stroke-width="1.4" stroke-linejoin="round"/>
<polygon points="487.00,230.60 489.02,236.42 495.18,236.54 490.27,240.26 492.05,246.16 487.00,242.64 481.95,246.16 483.73,240.26 478.82,236.54 484.98,236.42" fill="#5ea8d8" stroke="#fff" stroke-width="1.4" stroke-linejoin="round"/>
<polygon points="489.40,250.40 491.42,256.22 497.58,256.34 492.67,260.06 494.45,265.96 489.40,262.44 484.35,265.96 486.13,260.06 481.22,256.34 487.38,256.22" fill="#5ea8d8" stroke="#fff" stroke-width="1.4" stroke-linejoin="round"/>
<rect x="100.0" y="45.2" width="480.4" height="388.8" fill="none" stroke="#111" stroke-width="1.6"/>
<path d="M100.00,45.2v-5M100.00,434.0v5M126.69,45.2v-2.6M126.69,434.0v2.6M153.38,45.2v-2.6M153.38,434.0v2.6M180.07,45.2v-2.6M180.07,434.0v2.6M206.76,45.2v-2.6M206.76,434.0v2.6M233.44,45.2v-5M233.44,434.0v5M260.13,45.2v-2.6M260.13,434.0v2.6M286.82,45.2v-2.6M286.82,434.0v2.6M313.51,45.2v-2.6M313.51,434.0v2.6M340.20,45.2v-2.6M340.20,434.0v2.6M366.89,45.2v-5M366.89,434.0v5M393.58,45.2v-2.6M393.58,434.0v2.6M420.27,45.2v-2.6M420.27,434.0v2.6M446.96,45.2v-2.6M446.96,434.0v2.6M473.64,45.2v-2.6M473.64,434.0v2.6M500.33,45.2v-5M500.33,434.0v5M527.02,45.2v-2.6M527.02,434.0v2.6M553.71,45.2v-2.6M553.71,434.0v2.6M580.40,45.2v-2.6M580.40,434.0v2.6M100.0,434.00h-2.6M580.4,434.00h2.6M100.0,401.60h-5M580.4,401.60h5M100.0,369.20h-2.6M580.4,369.20h2.6M100.0,336.80h-2.6M580.4,336.80h2.6M100.0,304.40h-2.6M580.4,304.40h2.6M100.0,272.00h-2.6M580.4,272.00h2.6M100.0,239.60h-5M580.4,239.60h5M100.0,207.20h-2.6M580.4,207.20h2.6M100.0,174.80h-2.6M580.4,174.80h2.6M100.0,142.40h-2.6M580.4,142.40h2.6M100.0,110.00h-2.6M580.4,110.00h2.6M100.0,77.60h-5M580.4,77.60h5M100.0,45.20h-2.6M580.4,45.20h2.6" stroke="#111" stroke-width="1.1" fill="none"/>
<text x="99.7" y="459.7" font-size="20.7" text-anchor="middle">139.05</text>
<text x="233.1" y="459.7" font-size="20.7" text-anchor="middle">139.10</text>
<text x="366.6" y="459.7" font-size="20.7" text-anchor="middle">139.15</text>
<text x="500.0" y="459.7" font-size="20.7" text-anchor="middle">139.20</text>
<text x="88.2" y="87.2" font-size="20.7" text-anchor="end">35.00</text>
<text x="88.2" y="247.3" font-size="20.7" text-anchor="end">34.95</text>
<text x="88.2" y="407.6" font-size="20.7" text-anchor="end">34.90</text>
<text x="341.5" y="491.9" font-size="27.9" text-anchor="middle">Lon. (E)</text>
<text transform="translate(20.2,231.2) rotate(-90)" font-size="27.7" text-anchor="middle">Lat. (N)</text>
<text x="597.2" y="85.6" font-size="28" letter-spacing="-0.4">b value</text>
<path d="M132.9,407.3V401.4H279.3V407.3" stroke="#222" stroke-width="1.1" fill="none"/>
<text x="206.1" y="421.5" font-size="14.2" text-anchor="middle" fill="#222">5 km</text>
<defs><linearGradient id="cb" x1="0" y1="0" x2="0" y2="1">
<stop offset="0.0000" stop-color="#8e30b4"/>
<stop offset="0.0625" stop-color="#c21e9c"/>
<stop offset="0.1250" stop-color="#e6207a"/>
<stop offset="0.1875" stop-color="#e01a50"/>
<stop offset="0.2500" stop-color="#d83020"/>
<stop offset="0.3125" stop-color="#e65510"/>
<stop offset="0.3750" stop-color="#f08a00"/>
<stop offset="0.4375" stop-color="#f8b400"/>
<stop offset="0.5000" stop-color="#f8d810"/>
<stop offset="0.5625" stop-color="#f6e640"/>
<stop offset="0.6250" stop-color="#f2f290"/>
<stop offset="0.6875" stop-color="#a8d448"/>
<stop offset="0.7500" stop-color="#52a010"/>
<stop offset="0.8125" stop-color="#a8e0a0"/>
<stop offset="0.8750" stop-color="#a8eef0"/>
<stop offset="0.9375" stop-color="#6a8cd8"/>
<stop offset="1.0000" stop-color="#3a3c98"/>
</linearGradient></defs>
<rect x="617.6" y="111.8" width="4.8" height="324.4" fill="url(#cb)" stroke="#111" stroke-width="0.8"/>
<line x1="622.5" y1="111.8" x2="622.5" y2="436.2" stroke="#111" stroke-width="1.4"/>
<text x="632" y="116.3" font-size="20">1.5</text>
<text x="632" y="156.8" font-size="20">1.4</text>
<text x="632" y="197.4" font-size="20">1.3</text>
<text x="632" y="237.9" font-size="20">1.2</text>
<text x="632" y="278.5" font-size="20">1.1</text>
<text x="632" y="319.1" font-size="20">1.0</text>
<text x="632" y="359.6" font-size="20">0.9</text>
<text x="632" y="400.1" font-size="20">0.8</text>
<text x="632" y="440.7" font-size="20">0.7</text>
<path d="M622.5,111.80h6M622.5,152.35h6M622.5,192.90h6M622.5,233.45h6M622.5,274.00h6M622.5,314.55h6M622.5,355.10h6M622.5,395.65h6M622.5,436.20h6" stroke="#111" stroke-width="1.1"/>
<rect x="126.5" y="0.5" width="97.7" height="32.2" fill="#fff" stroke="#78b4d8" stroke-width="1.3"/>
<text x="175.0" y="24.4" font-size="20.6" text-anchor="middle">EQ09-1</text>
<rect x="240.4" y="0.5" width="97.4" height="32.2" fill="#fff" stroke="#78b4d8" stroke-width="1.3"/>
<text x="288.8" y="24.4" font-size="20.6" text-anchor="middle">EQ09-2</text>
<rect x="403.1" y="0.5" width="97.3" height="32.2" fill="#fff" stroke="#78b4d8" stroke-width="1.3"/>
<text x="451.4" y="24.4" font-size="20.6" text-anchor="middle">EQ06-3</text>
<rect x="516.2" y="0.5" width="98.0" height="32.2" fill="#fff" stroke="#78b4d8" stroke-width="1.3"/>
<text x="564.9" y="24.4" font-size="20.6" text-anchor="middle">EQ06-4</text>
<rect x="289" y="331.5" width="97.8" height="31.9" fill="#fff" stroke="#e0352a" stroke-width="1.3"/>
<text x="337.6" y="355.3" font-size="20.6" text-anchor="middle">EQ06-1</text>
<rect x="370.4" y="370.6" width="96.8" height="32.4" fill="#fff" stroke="#e0352a" stroke-width="1.3"/>
<text x="418.5" y="394.9" font-size="20.6" text-anchor="middle">EQ06-2</text>
</svg></body></html>
